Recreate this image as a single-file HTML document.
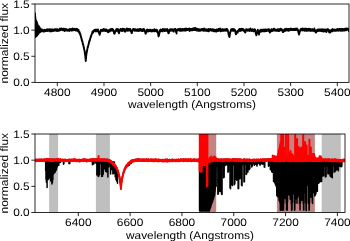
<!DOCTYPE html>
<html><head><meta charset="utf-8"><style>html,body{margin:0;padding:0;background:#fff;width:350px;height:241px;overflow:hidden}</style></head><body>
<svg xmlns="http://www.w3.org/2000/svg" width="350" height="241" viewBox="0 0 350 241" style="display:block;will-change:transform">
<defs>
<clipPath id="ct"><rect x="35.00" y="4.00" width="314.00" height="78.40"/></clipPath>
<clipPath id="cb"><rect x="35.00" y="134.00" width="310.00" height="78.50"/></clipPath>
</defs>
<rect width="350" height="241" fill="#fff"/>
<g font-family='"Liberation Sans", sans-serif' font-size="10.90" fill="#000" text-rendering="geometricPrecision">
<g clip-path="url(#ct)"><path d="M35 13.5L35.2 37L35.4 17L35.6 36.5L35.8 20L36 36.5L36.3 21L36.6 36L36.9 22L37.2 35.5L37.5 24L37.8 34.5L38.1 25.5L38.4 34L38.7 26L39 33L39.3 27L39.6 32.5L40 28L40.4 32L40.7 29.82L40.76 30.17L40.82 28.93L40.88 31.07L40.94 30.83L41 30.22L41.06 30.26L41.12 31.4L41.18 29.36L41.24 30.49L41.3 30.31L41.36 30.48L41.42 29.65L41.48 29.85L41.54 30.32L41.6 30.02L41.66 30.16L41.72 30.7L41.78 29.85L41.84 29.69L41.9 30.97L41.96 30.52L42.02 31L42.08 29.52L42.14 30.17L42.2 30.2L42.26 30.48L42.32 30.3L42.38 31.36L42.44 31.26L42.5 30.43L42.56 31.39L42.62 29.92L42.68 31.38L42.74 30.22L42.8 30.49L42.86 30.25L42.92 30.38L42.98 31.32L43.04 30.16L43.1 30.25L43.16 30.72L43.22 30.89L43.28 30.45L43.34 31.31L43.4 30.17L43.46 30.72L43.52 30.66L43.58 30.89L43.64 30.75L43.7 31.58L43.76 30.13L43.82 30.91L43.88 29.93L43.94 30.67L44 30.89L44.06 30.5L44.12 30.98L44.18 30.64L44.24 30.76L44.3 30.83L44.36 31.08L44.42 30.89L44.48 29.7L44.54 30.94L44.6 31.17L44.66 30.51L44.72 29.99L44.78 31.51L44.84 30.63L44.9 30.76L44.96 31.39L45.02 30.27L45.08 30.54L45.14 30.46L45.2 30.82L45.26 30.06L45.32 30.84L45.38 30.49L45.44 30.9L45.5 31L45.56 29.82L45.62 30.76L45.68 30.32L45.74 30.32L45.8 30.43L45.86 30.66L45.92 30L45.98 30.42L46.04 30.29L46.1 30.27L46.16 29.69L46.22 29.87L46.28 30.18L46.34 30.51L46.4 31.03L46.46 29.94L46.52 29.82L46.58 30.39L46.64 29.9L46.7 29.74L46.76 29.8L46.82 29.74L46.88 30.39L46.94 29.45L47 30.71L47.06 29.7L47.12 29.92L47.18 29.75L47.24 29.26L47.3 29.35L47.36 30.66L47.42 30.8L47.48 29.71L47.54 30.47L47.6 30.14L47.66 29.7L47.72 30.8L47.78 31.02L47.84 29.93L47.9 29.91L47.96 30.14L48.02 29.99L48.08 30.45L48.14 30.65L48.2 30.05L48.26 30.44L48.32 30.85L48.38 29.74L48.44 30.04L48.5 29.78L48.56 30.41L48.62 30.32L48.68 30.44L48.74 30.36L48.8 29.88L48.86 30.35L48.92 29.84L48.98 29.83L49.04 29.06L49.1 30.59L49.16 29.55L49.22 30.05L49.28 29.97L49.34 30.69L49.4 30.28L49.46 29.58L49.52 29.98L49.58 29.98L49.64 30.13L49.7 29.43L49.76 30L49.82 31.04L49.88 30.33L49.94 30.93L50 31.54L50.06 30.25L50.12 29.39L50.18 30.01L50.24 30.57L50.3 30.51L50.36 29.47L50.42 30.01L50.48 30.03L50.54 30.08L50.6 30.04L50.66 29.69L50.72 29.8L50.78 30.01L50.84 30.59L50.9 29.86L50.96 30.45L51.02 29.62L51.08 30.71L51.14 30.22L51.2 30.16L51.26 30.79L51.32 29.36L51.38 29.49L51.44 30.4L51.5 29.82L51.56 30.02L51.62 31.43L51.68 30.08L51.74 30.27L51.8 30.17L51.86 30.75L51.92 30.37L51.98 30.34L52.04 29.71L52.1 30.14L52.16 30.26L52.22 29.57L52.28 30.56L52.34 30.47L52.4 31.16L52.46 29.55L52.52 29.84L52.58 29.88L52.64 30.01L52.7 30.27L52.76 30.24L52.82 30.45L52.88 30.43L52.94 30.32L53 29.63L53.06 30.09L53.12 30.36L53.18 30.6L53.24 30.65L53.3 29.58L53.36 30.08L53.42 30.29L53.48 30.5L53.54 30.85L53.6 30.34L53.66 29.88L53.72 30.49L53.78 30.4L53.84 30.4L53.9 30.23L53.96 31.02L54.02 30.37L54.08 30.66L54.14 29.81L54.2 30.59L54.26 29.95L54.32 29.48L54.38 30.34L54.44 30.47L54.5 30.08L54.56 30.17L54.62 30.62L54.68 29.92L54.74 29.18L54.8 30.25L54.86 30.21L54.92 30.61L54.98 29.95L55.04 30.68L55.1 30.6L55.16 29.48L55.22 30.5L55.28 29.57L55.34 29.35L55.4 29.94L55.46 29.8L55.52 29.14L55.58 30.15L55.64 30.34L55.7 30.7L55.76 30.04L55.82 29.37L55.88 29.62L55.94 30.51L56 30.47L56.06 30.31L56.12 29.94L56.18 30.17L56.24 29.99L56.3 29.95L56.36 30.24L56.42 30.12L56.48 30.01L56.54 30.15L56.6 29.88L56.66 29.24L56.72 29.85L56.78 30.11L56.84 30.94L56.9 29.96L56.96 31.07L57.02 30.81L57.08 29.75L57.14 29.83L57.2 30.24L57.26 30.98L57.32 30.35L57.38 30.5L57.44 29.88L57.5 29.13L57.56 30.09L57.62 30.56L57.68 30.74L57.74 30.22L57.8 30.28L57.86 30.74L57.92 30.14L57.98 30.73L58.04 29.66L58.1 29.68L58.16 29.67L58.22 30.4L58.28 29.93L58.34 30.22L58.4 30.33L58.46 30.3L58.52 30.74L58.58 30.8L58.64 29.74L58.7 30.19L58.76 29.98L58.82 29.59L58.88 30.86L58.94 30.39L59 29.92L59.06 29.8L59.12 30.14L59.18 29.46L59.24 29.81L59.3 30.46L59.36 30.3L59.42 29.46L59.48 29.59L59.54 30.67L59.6 29.12L59.66 29.44L59.72 29.06L59.78 29.85L59.84 29.78L59.9 30.14L59.96 28.39L60.02 29.63L60.08 28.78L60.14 29.8L60.2 29.39L60.26 30.23L60.32 29.6L60.38 28.93L60.44 29.96L60.5 28.85L60.56 29.17L60.62 29.8L60.68 29.53L60.74 29.49L60.8 29.28L60.86 29.5L60.92 29.62L60.98 29.36L61.04 29.69L61.1 29.81L61.16 29.22L61.22 28.77L61.28 29.9L61.34 29.18L61.4 29.49L61.46 29.65L61.52 28.79L61.58 29.43L61.64 28.49L61.7 29.57L61.76 29.02L61.82 29.32L61.88 29.58L61.94 28.96L62 29.32L62.06 28.97L62.12 29.29L62.18 29.79L62.24 29.34L62.3 29.28L62.36 28.87L62.42 29.76L62.48 29.37L62.54 30.17L62.6 29.07L62.66 29.9L62.72 30.25L62.78 29.45L62.84 28.91L62.9 30.16L62.96 29.97L63.02 29.82L63.08 30.02L63.14 29.32L63.2 29.89L63.26 29.86L63.32 29.26L63.38 29.9L63.44 29.35L63.5 30.02L63.56 30.14L63.62 30.44L63.68 28.71L63.74 29.74L63.8 29.48L63.86 29.62L63.92 29.53L63.98 29.59L64.04 28.72L64.1 30.11L64.16 30.36L64.22 30.11L64.28 30.27L64.34 29.29L64.4 29.26L64.46 30.1L64.52 30.31L64.58 29.82L64.64 29.01L64.7 30.99L64.76 29.42L64.82 30.18L64.88 29.19L64.94 30.19L65 29.82L65.06 30.4L65.12 30.15L65.18 29.05L65.24 29.32L65.3 29.9L65.36 30.12L65.42 30.61L65.48 29.91L65.54 29.74L65.6 29.77L65.66 29.78L65.72 30.26L65.78 29.77L65.84 29.76L65.9 29.14L65.96 28.88L66.02 29.83L66.08 30.13L66.14 29.8L66.2 30.06L66.26 30.13L66.32 29.81L66.38 30.28L66.44 29.5L66.5 29.84L66.56 29.68L66.62 29.89L66.68 30.15L66.74 30.26L66.8 29.93L66.86 30.08L66.92 29.71L66.98 29.83L67.04 30.47L67.1 29.8L67.16 30.47L67.22 30.13L67.28 29.98L67.34 30.82L67.4 29.81L67.46 29.78L67.52 29.93L67.58 30.06L67.64 30.04L67.7 30.33L67.76 30L67.82 30.14L67.88 29.83L67.94 30.45L68 29.77L68.06 29.82L68.12 29.95L68.18 30.09L68.24 29.63L68.3 30.67L68.36 29.67L68.42 29.77L68.48 29.75L68.54 29.7L68.6 30.19L68.66 30L68.72 29.57L68.78 29.67L68.84 29.77L68.9 30.57L68.96 29.6L69.02 29.3L69.08 29.37L69.14 29.72L69.2 30.56L69.26 29.37L69.32 29.88L69.38 30.99L69.44 29.61L69.5 30.48L69.56 30.38L69.62 30.05L69.68 29.15L69.74 29.91L69.8 29.59L69.86 28.89L69.92 28.95L69.98 29.73L70.04 29.79L70.1 30.25L70.16 29.98L70.22 29.44L70.28 29.44L70.34 29.56L70.4 29.14L70.46 29.96L70.52 29.61L70.58 29.23L70.64 29.29L70.7 29.05L70.76 29.36L70.82 29.68L70.88 29.36L70.94 29.99L71 30.28L71.06 29.23L71.12 29.52L71.18 29.35L71.24 30.29L71.3 29.65L71.36 29.76L71.42 29.88L71.48 30.53L71.54 29.62L71.6 29.04L71.66 29.28L71.72 29.73L71.78 29.45L71.84 29.09L71.9 30.74L71.96 29.5L72.02 29.18L72.08 29.11L72.14 28.63L72.2 28.9L72.26 29.29L72.32 29.29L72.38 29.06L72.44 29.68L72.5 29.45L72.56 29.01L72.62 28.51L72.68 29.51L72.74 29.46L72.8 29.35L72.86 28.81L72.92 29.46L72.98 28.76L73.04 29.91L73.1 29.55L73.16 29.56L73.22 29.11L73.28 28.99L73.34 30.2L73.4 29.93L73.46 29.35L73.52 29.83L73.58 30.25L73.64 29.05L73.7 29.32L73.76 29.33L73.82 29.8L73.88 29.1L73.94 29.71L74 29.1L74.06 30.06L74.12 30.04L74.18 29.56L74.24 30L74.3 29.37L74.36 29.58L74.42 30.15L74.48 29.69L74.54 29.91L74.6 29.33L74.66 30.07L74.72 29.99L74.78 29.22L74.84 28.75L74.9 28.88L74.96 29.8L75.02 29.74L75.08 29.13L75.14 29.92L75.2 30.32L75.26 29.82L75.32 29.67L75.38 30.27L75.44 30.66L75.5 30.57L75.56 29.58L75.62 30.25L75.68 29.96L75.74 29.8L75.8 29.61L75.86 30.05L75.92 29.66L75.98 30.31L76.04 30.06L76.1 30.37L76.16 29.35L76.22 29.89L76.28 30.22L76.34 30.03L76.4 29.97L76.46 29.53L76.52 30.6L76.58 30.34L76.64 30.02L76.7 28.65L76.76 29.39L76.82 29.89L76.88 29.5L76.94 28.87L77 29.95L77.06 30.01L77.12 29.28L77.18 29.62L77.24 29.55L77.3 30.11L77.36 28.98L77.42 29.09L77.48 29.65L77.54 29.61L77.6 30.91L77.66 29.68L77.72 30.1L77.78 29.84L77.84 29.75L77.9 30.27L77.96 30.95L78.02 30.03L78.08 30.6L78.14 30.45L78.2 30.64L78.26 30.57L78.32 31.56L78.38 29.97L78.44 30.5L78.5 30.17L78.56 29.84L78.62 30.84L78.68 31.79L78.74 31.45L78.8 31.69L78.86 31.46L78.92 31.29L78.98 32.38L79.04 31.39L79.1 32.37L79.16 31.64L79.22 31.96L79.28 32.18L79.34 32.2L79.4 32.55L79.46 32.72L79.52 33.36L79.58 32.73L79.64 32L79.7 32.08L79.76 32.55L79.82 32.99L79.88 33.81L79.94 32.97L80 33.84L80.06 34.02L80.12 34.29L80.18 34.29L80.24 34.71L80.3 34.72L80.36 35.37L80.42 35.22L80.48 34.16L80.54 35.45L80.6 35.72L80.66 35.54L80.72 35.65L80.78 36.7L80.84 36.47L80.9 36.14L80.96 36.64L81.02 36.91L81.08 36.43L81.14 37.68L81.2 37.52L81.26 38.01L81.32 37.27L81.38 39.09L81.44 38.69L81.5 38.83L81.56 38.48L81.62 38.71L81.68 38.55L81.74 40.15L81.8 39.27L81.86 39.97L81.92 40.35L81.98 40L82.04 40.9L82.1 41.65L82.16 41.06L82.22 41.81L82.28 41.63L82.34 41.36L82.4 41.61L82.46 41.23L82.52 42.29L82.58 43.13L82.64 42.99L82.7 43.29L82.76 43.65L82.82 43.1L82.88 43.84L82.94 44.69L83 43.67L83.06 44.28L83.12 44.3L83.18 44.66L83.24 44.65L83.3 45.17L83.36 44.86L83.42 45.49L83.48 45.76L83.54 46L83.6 47.14L83.66 46.79L83.72 47.1L83.78 47.16L83.84 48.17L83.9 47.04L83.96 48.04L84.02 48.95L84.08 49.47L84.14 49.1L84.2 49.31L84.26 49.91L84.32 49.85L84.38 50.51L84.44 50.28L84.5 51.22L84.56 51.24L84.62 51.11L84.68 50.72L84.74 52.77L84.8 52.89L84.86 53.46L84.92 53.1L84.98 54.42L85.04 54.53L85.1 54.76L85.16 55.66L85.22 56.12L85.28 56.39L85.34 57.67L85.4 57.9L85.46 57.99L85.52 58.34L85.58 59.15L85.64 60.62L85.7 60.84L85.75 61.11L85.76 60.99L85.82 60.31L85.88 59.91L85.94 58.51L86 58.45L86.06 58.14L86.12 57.42L86.18 55.84L86.24 55.92L86.3 55L86.36 55.31L86.42 54.21L86.48 54.51L86.54 53.89L86.6 52.25L86.66 52.68L86.72 52.91L86.78 52.35L86.84 51.81L86.9 51.05L86.96 51.52L87.02 51.79L87.08 50.79L87.14 50.34L87.2 50L87.26 49.14L87.32 49.32L87.38 48.81L87.44 49.43L87.5 48.24L87.56 47.39L87.62 47.76L87.68 47.74L87.74 47.54L87.8 46.52L87.86 47.55L87.92 46.92L87.98 46.41L88.04 46.04L88.1 46.36L88.16 45.78L88.22 45.82L88.28 45.41L88.34 45.3L88.4 45.55L88.46 44.8L88.52 44.15L88.58 44.8L88.64 44.24L88.7 43.59L88.76 44.19L88.82 43.38L88.88 43.75L88.94 42.51L89 41.74L89.06 41.66L89.12 42.5L89.18 41.84L89.24 41.92L89.3 41.72L89.36 40.84L89.42 41.98L89.48 40.65L89.54 40.97L89.6 40.08L89.66 40.45L89.72 40.66L89.78 40.01L89.84 39.6L89.9 39.73L89.96 39.32L90.02 39.6L90.08 40.16L90.14 38.55L90.2 38.45L90.26 38.52L90.32 38.36L90.38 37.72L90.44 38.23L90.5 38.16L90.56 37.74L90.62 36.9L90.68 37.93L90.74 36.54L90.8 37.22L90.86 37.26L90.92 35.97L90.98 36.43L91.04 36.82L91.1 36.2L91.16 35.43L91.22 35.13L91.28 35.72L91.34 35.16L91.4 34.85L91.46 35.33L91.52 34.69L91.58 34.72L91.64 34.8L91.7 34.62L91.76 34.2L91.82 34.07L91.88 34.2L91.94 33.99L92 33.12L92.06 33.4L92.12 32.95L92.18 32.66L92.24 32.82L92.3 31.9L92.36 33.23L92.42 32.34L92.48 32.75L92.54 31.61L92.6 31.58L92.66 33.19L92.72 32.62L92.78 31.75L92.84 31.6L92.9 31.53L92.96 31.82L93.02 31.49L93.08 31.32L93.14 31.58L93.2 30.99L93.26 32.47L93.32 31.04L93.38 31.76L93.44 30.76L93.5 31.27L93.56 31.52L93.62 30.88L93.68 31.44L93.74 31.4L93.8 31.67L93.86 30.9L93.92 30.62L93.98 30.34L94.04 30.86L94.1 30.27L94.16 30.73L94.22 30.76L94.28 30.43L94.34 30.18L94.4 30.82L94.46 30.76L94.52 30.7L94.58 30.57L94.64 31.02L94.7 30.11L94.76 30.77L94.82 30.35L94.88 30.95L94.94 30.38L95 30.36L95.06 30.73L95.12 29.58L95.18 30.34L95.24 29.68L95.3 30.05L95.36 30.81L95.42 30.67L95.48 30.29L95.54 30.46L95.6 30.46L95.66 30.61L95.72 31.32L95.78 30.57L95.84 31.5L95.9 30.28L95.96 30.79L96.02 30.78L96.08 30.54L96.14 30.31L96.2 31.11L96.26 31.25L96.32 30.93L96.38 31.38L96.44 30.87L96.5 29.67L96.56 30.91L96.62 30.1L96.68 31.05L96.74 30.26L96.8 30.55L96.86 30.43L96.92 30.13L96.98 29.57L97.04 30.3L97.1 30.34L97.16 30.85L97.22 30.12L97.28 30.51L97.34 30.01L97.4 30.42L97.46 29.59L97.52 31.34L97.58 30.55L97.64 30.01L97.7 30.6L97.76 30.81L97.82 30.58L97.88 31.12L97.94 30.44L98 29.37L98.06 30.02L98.12 31.11L98.18 31.05L98.24 30.89L98.3 30.29L98.36 31.23L98.42 31.26L98.48 30.62L98.54 30.75L98.6 31.46L98.66 31.96L98.72 32.32L98.78 32.09L98.84 32.99L98.9 31.78L98.96 32.63L99.02 32.3L99.08 31.85L99.14 32.36L99.2 33.64L99.26 32.85L99.32 32.86L99.38 33.89L99.44 34.08L99.5 33.75L99.56 34.5L99.62 33.06L99.68 34.86L99.74 34.19L99.8 33.71L99.86 33.58L99.92 33.26L99.98 33.06L100.04 33.11L100.1 32.29L100.16 33.64L100.22 32.44L100.28 32.59L100.34 32L100.4 31.77L100.46 32.13L100.52 31.84L100.58 31.02L100.64 31.09L100.7 31.45L100.76 30.06L100.82 29.84L100.88 31.53L100.94 30.63L101 29.53L101.06 30.28L101.12 30.5L101.18 30.66L101.24 30.79L101.3 30.6L101.36 30.74L101.42 30.11L101.48 30.62L101.54 30.63L101.6 30.97L101.66 30.41L101.72 30.8L101.78 30.45L101.84 29.86L101.9 30.17L101.96 30.09L102.02 30.15L102.08 30.28L102.14 30.36L102.2 30.43L102.26 29.92L102.32 30.78L102.38 29.63L102.44 30.23L102.5 30.59L102.56 30.46L102.62 30.54L102.68 30.14L102.74 30.55L102.8 29.67L102.86 30.57L102.92 31.26L102.98 30.53L103.04 31.13L103.1 30.2L103.16 29.68L103.22 29.87L103.28 30.8L103.34 30.53L103.4 29.33L103.46 30.02L103.52 30.16L103.58 29.67L103.64 29.01L103.7 29.55L103.76 30.1L103.82 30L103.88 29.88L103.94 30.45L104 30.67L104.06 30.14L104.12 30.61L104.18 30.2L104.24 30.13L104.3 29.07L104.36 30.57L104.42 30.23L104.48 30.25L104.54 29.96L104.6 29.68L104.66 30.4L104.72 30.55L104.78 30.94L104.84 30.6L104.9 29.91L104.96 30.13L105.02 30.63L105.08 30.32L105.14 30.13L105.2 29.9L105.26 30.41L105.32 30.25L105.38 30.98L105.44 30.66L105.5 29.35L105.56 31.14L105.62 30.26L105.68 29.99L105.74 30.27L105.8 30.47L105.86 30.11L105.92 30.08L105.98 30.11L106.04 30.95L106.1 30.13L106.16 30.46L106.22 30.32L106.28 29.95L106.34 29.76L106.4 29.64L106.46 30.3L106.52 29.63L106.58 29.53L106.64 29.55L106.7 29.45L106.76 30.2L106.82 30.24L106.88 29.8L106.94 30.87L107 30.18L107.06 30.59L107.12 30.59L107.18 31.31L107.24 31.01L107.3 30.7L107.36 30.38L107.42 30.45L107.48 31.07L107.54 31.24L107.6 31.67L107.66 31.2L107.72 31.61L107.78 31.3L107.84 30.84L107.9 31.74L107.96 32.46L108.02 32.17L108.08 32.44L108.14 32.29L108.2 31.06L108.26 31.5L108.32 32.24L108.38 31.12L108.44 30.74L108.5 31.39L108.56 31.44L108.62 31.18L108.68 30.79L108.74 30.53L108.8 30.19L108.86 30.11L108.92 30.06L108.98 29.92L109.04 30.21L109.1 31.21L109.16 30.52L109.22 30.29L109.28 30.6L109.34 29.98L109.4 30.57L109.46 30.83L109.52 29.71L109.58 30.08L109.64 30.28L109.7 29.95L109.76 29.89L109.82 30.23L109.88 31.54L109.94 30.7L110 30.6L110.06 30.84L110.12 30.28L110.18 29.81L110.24 30.6L110.3 30.9L110.36 29.41L110.42 30.57L110.48 30.93L110.54 30.23L110.6 30.13L110.66 30.65L110.72 29.94L110.78 30.53L110.84 30.73L110.9 30.2L110.96 29.91L111.02 30.55L111.08 30.08L111.14 30.27L111.2 28.88L111.26 30.53L111.32 29.53L111.38 30.19L111.44 30.21L111.5 29.79L111.56 29.69L111.62 29.5L111.68 29.92L111.74 30.34L111.8 30.3L111.86 29.79L111.92 29.74L111.98 29.34L112.04 29.78L112.1 29.47L112.16 29.24L112.22 29.86L112.28 30.62L112.34 30.47L112.4 30.58L112.46 29.14L112.52 30.28L112.58 29.3L112.64 29.6L112.7 29.07L112.76 29.41L112.82 29.94L112.88 30L112.94 29.89L113 29.88L113.06 30.25L113.12 30.06L113.18 29.35L113.24 30.98L113.3 30.14L113.36 30.78L113.42 30.38L113.48 30.19L113.54 30.76L113.6 30.52L113.66 31.8L113.72 30.71L113.78 31.71L113.84 31.33L113.9 31.74L113.96 33.24L114.02 32.58L114.08 32.31L114.14 31.86L114.2 32.61L114.26 32.77L114.32 33.67L114.38 32.42L114.44 32.3L114.5 33.16L114.56 33.27L114.62 33.89L114.68 32.65L114.74 31.7L114.8 32.52L114.86 32.12L114.92 32.3L114.98 32.85L115.04 31.57L115.1 32.6L115.16 31.93L115.22 31.52L115.28 31.05L115.34 31.1L115.4 30.96L115.46 31.35L115.52 31.46L115.58 30.71L115.64 30.96L115.7 31.15L115.76 31.04L115.82 30.61L115.88 31.19L115.94 30.9L116 30.99L116.06 30.1L116.12 29.96L116.18 29.18L116.24 30.81L116.3 30.4L116.36 29.64L116.42 30.16L116.48 30.19L116.54 29.23L116.6 30.18L116.66 30.55L116.72 30.62L116.78 29.83L116.84 29.84L116.9 30.62L116.96 30.43L117.02 29.71L117.08 29.68L117.14 30.25L117.2 29.64L117.26 29.66L117.32 30.76L117.38 30.07L117.44 29.72L117.5 30.19L117.56 30.93L117.62 30.06L117.68 29.59L117.74 29.22L117.8 31.03L117.86 28.81L117.92 30.62L117.98 29.7L118.04 29.65L118.1 29.87L118.16 30.37L118.22 31.12L118.28 30.43L118.34 31.22L118.4 32.25L118.46 29.91L118.52 31.09L118.58 30.76L118.64 32.22L118.7 31.27L118.76 31.36L118.82 31.49L118.88 32.33L118.94 32.94L119 32.48L119.06 33.41L119.12 33.13L119.18 32.2L119.24 32.59L119.3 32.07L119.36 31.88L119.42 30.75L119.48 30.87L119.54 31.32L119.6 30.55L119.66 31.31L119.72 30.95L119.78 30.22L119.84 31.1L119.9 30.54L119.96 30.94L120.02 30.18L120.08 29.4L120.14 30.47L120.2 29.97L120.26 30.47L120.32 30.57L120.38 30.59L120.44 29.31L120.5 28.88L120.56 29.76L120.62 30.32L120.68 29.65L120.74 30.14L120.8 29.6L120.86 29.84L120.92 29.84L120.98 29.68L121.04 30.24L121.1 30.15L121.16 30.77L121.22 30.16L121.28 30.61L121.34 30.01L121.4 30.38L121.46 29.87L121.52 29.7L121.58 30.57L121.64 30.28L121.7 30.33L121.76 29.52L121.82 29.06L121.88 29.45L121.94 30.01L122 29.14L122.06 30.54L122.12 29.11L122.18 30.11L122.24 31.1L122.3 28.54L122.36 29.03L122.42 30.25L122.48 29.68L122.54 29.85L122.6 29.7L122.66 30.44L122.72 30.05L122.78 29.51L122.84 29.62L122.9 29.15L122.96 29.68L123.02 28.6L123.08 30.04L123.14 29.58L123.2 30.61L123.26 30.29L123.32 29.08L123.38 30.15L123.44 29.46L123.5 29.74L123.56 30.21L123.62 29.9L123.68 29.99L123.74 30L123.8 29.44L123.86 29.51L123.92 30.13L123.98 30.33L124.04 29.82L124.1 30.07L124.16 29.61L124.22 28.93L124.28 29.87L124.34 30.39L124.4 30.56L124.46 31L124.52 31.14L124.58 31.29L124.64 31.12L124.7 31.23L124.76 30.77L124.82 31.38L124.88 31.34L124.94 31.85L125 30.52L125.06 31.04L125.12 30.4L125.18 30.82L125.24 30.42L125.3 31.15L125.36 30.59L125.42 29.55L125.48 31.28L125.54 30.04L125.6 29.68L125.66 30.18L125.72 29.91L125.78 29.58L125.84 30.41L125.9 29.83L125.96 30.38L126.02 30.24L126.08 30.16L126.14 29.9L126.2 29.73L126.26 29.56L126.32 30.44L126.38 28.79L126.44 29.18L126.5 29.38L126.56 29.89L126.62 29.76L126.68 29.45L126.74 29.51L126.8 30.52L126.86 29.35L126.92 28.3L126.98 30.59L127.04 29.22L127.1 29.52L127.16 29.75L127.22 29.04L127.28 30.27L127.34 29.62L127.4 28.99L127.46 29.79L127.52 29.9L127.58 29.64L127.64 29.91L127.7 28.95L127.76 30.13L127.82 29.27L127.88 30.3L127.94 29.37L128 29.75L128.06 30.94L128.12 29.7L128.18 30.21L128.24 29.91L128.3 28.95L128.36 30.24L128.42 30.21L128.48 29L128.54 29.65L128.6 28.96L128.66 29.55L128.72 30.13L128.78 29.74L128.84 29.11L128.9 29.25L128.96 29.71L129.02 29.69L129.08 29.77L129.14 30L129.2 28.78L129.26 29.72L129.32 30.27L129.38 29.96L129.44 29.38L129.5 29.42L129.56 29.8L129.62 30.06L129.68 29.73L129.74 30.56L129.8 30.38L129.86 29.37L129.92 29.99L129.98 29.59L130.04 29.19L130.1 29.48L130.16 29.8L130.22 28.8L130.28 29.54L130.34 30.06L130.4 29.58L130.46 29.79L130.52 30.46L130.58 30.09L130.64 30.3L130.7 31.27L130.76 30.53L130.82 30.72L130.88 30.96L130.94 31.71L131 31.27L131.06 31.3L131.12 31.43L131.18 32.22L131.24 31.55L131.3 32.61L131.36 32.28L131.42 31.66L131.48 32.71L131.54 32.68L131.6 31.94L131.66 32.62L131.72 32.53L131.78 32.19L131.84 31.67L131.9 33.09L131.96 32.26L132.02 32.17L132.08 32.02L132.14 31.72L132.2 31.52L132.26 30.79L132.32 31.2L132.38 30.56L132.44 30.29L132.5 30.71L132.56 30.2L132.62 29.38L132.68 29.94L132.74 30.35L132.8 30.02L132.86 30.4L132.92 29.8L132.98 29.49L133.04 30.28L133.1 29.98L133.16 29.33L133.22 30.1L133.28 29.77L133.34 30.35L133.4 30.25L133.46 30.1L133.52 28.83L133.58 30.04L133.64 30.1L133.7 30.11L133.76 29.92L133.82 29.54L133.88 29.75L133.94 28.87L134 29.74L134.06 29.16L134.12 29.7L134.18 29.55L134.24 30.51L134.3 29.89L134.36 29.86L134.42 29.94L134.48 30.83L134.54 29.4L134.6 29.99L134.66 30.01L134.72 29.93L134.78 29.91L134.84 29.61L134.9 30.39L134.96 30.23L135.02 29.66L135.08 29.72L135.14 29.97L135.2 30.06L135.26 30.18L135.32 29.81L135.38 29.23L135.44 30.29L135.5 29.07L135.56 29.39L135.62 30.01L135.68 29.43L135.74 30.49L135.8 30.62L135.86 30.42L135.92 30.01L135.98 29.97L136.04 30.07L136.1 29.78L136.16 30.84L136.22 29.61L136.28 30.52L136.34 30.17L136.4 30.06L136.46 30.42L136.52 30.53L136.58 30.36L136.64 29.9L136.7 29.63L136.76 29.65L136.82 30.39L136.88 30.3L136.94 30.36L137 29.73L137.06 30.9L137.12 29.37L137.18 30.18L137.24 30.33L137.3 29.8L137.36 29.48L137.42 29.8L137.48 29.47L137.54 29.9L137.6 29.39L137.66 29.38L137.72 30.01L137.78 29.29L137.84 29.88L137.9 29.92L137.96 30.39L138.02 30.09L138.08 29.58L138.14 30.56L138.2 29.63L138.26 29.77L138.32 29.8L138.38 30.96L138.44 29.97L138.5 29.61L138.56 30.27L138.62 29.86L138.68 31.02L138.74 29.58L138.8 30.21L138.86 29.48L138.92 30.75L138.98 29.56L139.04 29.99L139.1 29.5L139.16 30.32L139.22 30.17L139.28 28.83L139.34 30.27L139.4 30.22L139.46 30.02L139.52 30.37L139.58 29.34L139.64 29.09L139.7 30.24L139.76 30.73L139.82 29.37L139.88 29.41L139.94 29.55L140 29.4L140.06 30.36L140.12 30.04L140.18 30.62L140.24 30.64L140.3 29.52L140.36 30.31L140.42 28.93L140.48 29.98L140.54 30.32L140.6 29.65L140.66 29.19L140.72 29.82L140.78 30.62L140.84 29.88L140.9 29.42L140.96 30.3L141.02 30.44L141.08 29.6L141.14 30.02L141.2 30.61L141.26 30.27L141.32 30.45L141.38 29.96L141.44 30.05L141.5 29.56L141.56 29.77L141.62 30.84L141.68 29.91L141.74 29.68L141.8 29.89L141.86 29.61L141.92 30.36L141.98 30.54L142.04 29.65L142.1 30.59L142.16 31.1L142.22 29.6L142.28 30.41L142.34 30.21L142.4 30.72L142.46 30.68L142.52 30.6L142.58 30.22L142.64 29.87L142.7 31.12L142.76 29.69L142.82 30.59L142.88 30.53L142.94 29.71L143 30.06L143.06 30.74L143.12 29.15L143.18 30.42L143.24 29.9L143.3 29.92L143.36 29.35L143.42 30.23L143.48 29.54L143.54 30.36L143.6 29.49L143.66 30.38L143.72 30.19L143.78 29.13L143.84 29.88L143.9 29.98L143.96 28.98L144.02 29.87L144.08 30.43L144.14 29.72L144.2 30.63L144.26 29.57L144.32 29.55L144.38 30.42L144.44 30.49L144.5 30.16L144.56 30.3L144.62 30.84L144.68 30.21L144.74 31.54L144.8 30.92L144.86 31.05L144.92 31.16L144.98 31.08L145.04 32.01L145.1 31.37L145.16 31.97L145.22 32.42L145.28 32.99L145.34 33.13L145.4 32.61L145.46 33.42L145.52 33.09L145.58 32.73L145.64 32.82L145.7 32.61L145.76 33.47L145.82 33.78L145.88 32.69L145.94 32.89L146 32.35L146.06 32.68L146.12 31.92L146.18 31.87L146.24 31.71L146.3 31.6L146.36 31.45L146.42 31.34L146.48 31.17L146.54 30.66L146.6 31.23L146.66 30.06L146.72 30.83L146.78 30.25L146.84 30.69L146.9 30.72L146.96 29.62L147.02 30.7L147.08 31.14L147.14 30.86L147.2 30.67L147.26 29.51L147.32 30.43L147.38 30.1L147.44 31.02L147.5 30.39L147.56 30.25L147.62 29.73L147.68 30.91L147.74 30.31L147.8 30.46L147.86 31.09L147.92 30.63L147.98 30.76L148.04 31.74L148.1 30.37L148.16 30.4L148.22 30.87L148.28 31.3L148.34 29.99L148.4 30.56L148.46 30.22L148.52 30.04L148.58 30.95L148.64 30.33L148.7 30.83L148.76 30.75L148.82 30.76L148.88 30.73L148.94 30.21L149 30.67L149.06 30.81L149.12 30.86L149.18 30.57L149.24 31.16L149.3 30.97L149.36 30.76L149.42 31L149.48 30.79L149.54 31.02L149.6 29.79L149.66 30.1L149.72 30.51L149.78 30.75L149.84 29.69L149.9 30.57L149.96 30.76L150.02 30.57L150.08 30.57L150.14 30.04L150.2 30.71L150.26 29.71L150.32 31.11L150.38 30.37L150.44 31.17L150.5 29.84L150.56 30.85L150.62 30.72L150.68 30.25L150.74 30.1L150.8 31.21L150.86 30.85L150.92 31.34L150.98 30.62L151.04 30.73L151.1 30.85L151.16 31L151.22 30.86L151.28 31.03L151.34 30.43L151.4 29.97L151.46 31.59L151.52 30.73L151.58 30.87L151.64 30.44L151.7 31.12L151.76 30.74L151.82 31.16L151.88 30.34L151.94 30.62L152 30.74L152.06 30.49L152.12 30.77L152.18 31.38L152.24 30.37L152.3 30.51L152.36 30.71L152.42 30.17L152.48 30.06L152.54 31.14L152.6 30.99L152.66 29.88L152.72 29.94L152.78 30.94L152.84 31.14L152.9 30.88L152.96 30.81L153.02 31.31L153.08 30.54L153.14 31.15L153.2 31.11L153.26 30.1L153.32 30.84L153.38 30.55L153.44 30.21L153.5 30.11L153.56 30.65L153.62 30.46L153.68 30.86L153.74 29.64L153.8 30.15L153.86 30.97L153.92 30.44L153.98 30.1L154.04 30.21L154.1 29.57L154.16 29.78L154.22 30.67L154.28 30.46L154.34 31.01L154.4 30.29L154.46 30.33L154.52 29.13L154.58 30.35L154.64 31.38L154.7 30.71L154.76 30.33L154.82 30.98L154.88 30.79L154.94 30.55L155 30.22L155.06 30.46L155.12 30.8L155.18 30.01L155.24 30.63L155.3 30.61L155.36 31.03L155.42 30.75L155.48 30.08L155.54 31.14L155.6 30.42L155.66 30.05L155.72 30.57L155.78 30.28L155.84 30.92L155.9 29.78L155.96 29.88L156.02 30.29L156.08 31.24L156.14 30.91L156.2 29.96L156.26 29.62L156.32 30.29L156.38 29.85L156.44 30.74L156.5 30.55L156.56 30.47L156.62 30.29L156.68 31.22L156.74 30.08L156.8 29.92L156.86 31.11L156.92 31.24L156.98 30.48L157.04 31.01L157.1 31.88L157.16 30.45L157.22 30.85L157.28 31.25L157.34 30.15L157.4 31.22L157.46 31.8L157.52 31.59L157.58 32.33L157.64 32.43L157.7 32.14L157.76 32.86L157.82 33.1L157.88 32.41L157.94 33.11L158 33.46L158.06 33.91L158.12 34.24L158.18 34.09L158.24 35.06L158.3 34.43L158.36 35.97L158.42 35.82L158.48 36.48L158.54 36.07L158.6 35.69L158.66 35.23L158.72 36.14L158.78 35.7L158.84 35.7L158.9 35.67L158.96 35.63L159.02 34.76L159.08 35.31L159.14 34.13L159.2 33.85L159.26 33.85L159.32 33.7L159.38 33.57L159.44 31.75L159.5 32.99L159.56 31.38L159.62 31.6L159.68 31.85L159.74 32.04L159.8 30.85L159.86 30.39L159.92 31.52L159.98 31.12L160.04 30.4L160.1 30.67L160.16 29.83L160.22 30.98L160.28 30.42L160.34 31.23L160.4 29.63L160.46 30.93L160.52 31.61L160.58 30.61L160.64 30.6L160.7 29.62L160.76 30.66L160.82 30.5L160.88 30.2L160.94 29.72L161 30.49L161.06 29.95L161.12 30.19L161.18 30.56L161.24 30.37L161.3 30.38L161.36 30.81L161.42 29.8L161.48 31.01L161.54 29.79L161.6 29.88L161.66 30.36L161.72 30.66L161.78 30.39L161.84 30.05L161.9 29.91L161.96 30.11L162.02 29.77L162.08 30.48L162.14 30.1L162.2 30.93L162.26 29.82L162.32 30.1L162.38 30.35L162.44 29.6L162.5 29.81L162.56 31.45L162.62 30.1L162.68 30.79L162.74 29.6L162.8 28.92L162.86 30.33L162.92 30.04L162.98 30.19L163.04 29.9L163.1 29.76L163.16 29.45L163.22 30.52L163.28 29.31L163.34 30.49L163.4 29.91L163.46 29.5L163.52 29.71L163.58 30.49L163.64 30.38L163.7 30.27L163.76 30.08L163.82 29.51L163.88 30.66L163.94 29.84L164 29.78L164.06 29.8L164.12 29.85L164.18 29.36L164.24 29.85L164.3 29.68L164.36 29.82L164.42 29.25L164.48 30.99L164.54 29.49L164.6 30.22L164.66 30.24L164.72 30.56L164.78 30.99L164.84 30.29L164.9 30.44L164.96 29.88L165.02 30.81L165.08 29.44L165.14 29.99L165.2 30.23L165.26 30.45L165.32 30.48L165.38 30.64L165.44 30.36L165.5 30.1L165.56 30.18L165.62 30.76L165.68 30.22L165.74 30.51L165.8 30.01L165.86 29.2L165.92 29.77L165.98 30.21L166.04 30.82L166.1 30.72L166.16 30.84L166.22 29.7L166.28 30.39L166.34 30L166.4 30.31L166.46 29.97L166.52 29.35L166.58 30.33L166.64 30.16L166.7 30.38L166.76 29.59L166.82 30.48L166.88 30.53L166.94 30.65L167 30.66L167.06 29.79L167.12 28.81L167.18 30.5L167.24 29.6L167.3 29.96L167.36 30.63L167.42 30.29L167.48 30.32L167.54 30.6L167.6 29.45L167.66 31.35L167.72 30.39L167.78 30.54L167.84 31.12L167.9 30.94L167.96 30.78L168.02 31.3L168.08 31.37L168.14 31.44L168.2 32.91L168.26 31.44L168.32 31.23L168.38 31.98L168.44 32.08L168.5 33.3L168.56 32.74L168.62 33.08L168.68 32.94L168.74 32.14L168.8 32.88L168.86 32.43L168.92 33.11L168.98 32.12L169.04 31.82L169.1 32L169.16 31.82L169.22 30.4L169.28 31.68L169.34 31.44L169.4 31.18L169.46 30.1L169.52 29.56L169.58 30.29L169.64 30.69L169.7 30.48L169.76 29.72L169.82 30.6L169.88 29.45L169.94 29.44L170 30.05L170.06 29.76L170.12 29.69L170.18 29.3L170.24 30.52L170.3 29.46L170.36 30.18L170.42 30.36L170.48 29.95L170.54 30.1L170.6 30.46L170.66 30.74L170.72 30.43L170.78 29.3L170.84 29.06L170.9 29.67L170.96 29.42L171.02 30.22L171.08 30.01L171.14 29.84L171.2 30.48L171.26 30.44L171.32 29.93L171.38 30.12L171.44 30.47L171.5 29.79L171.56 30.09L171.62 29.49L171.68 29.97L171.74 30.11L171.8 29.91L171.86 30.05L171.92 30.28L171.98 30.16L172.04 29.61L172.1 29.66L172.16 29.36L172.22 30.76L172.28 30.15L172.34 30.16L172.4 29.89L172.46 30.18L172.52 30.21L172.58 29.6L172.64 29.88L172.7 30.51L172.76 29.33L172.82 29.49L172.88 30.23L172.94 29.57L173 30.3L173.06 29.43L173.12 30.06L173.18 30.33L173.24 30.13L173.3 30.31L173.36 29.86L173.42 29.86L173.48 29.92L173.54 30.2L173.6 31.65L173.66 29.88L173.72 30.81L173.78 29.8L173.84 29.38L173.9 29.78L173.96 30.09L174.02 29.98L174.08 29.95L174.14 30.14L174.2 30.15L174.26 30.3L174.32 29.3L174.38 29.86L174.44 29.39L174.5 29.95L174.56 29.79L174.62 29.89L174.68 29.59L174.74 29.41L174.8 29.68L174.86 30.1L174.92 30.15L174.98 29.01L175.04 29.93L175.1 29.94L175.16 29.14L175.22 29.34L175.28 29.64L175.34 30.13L175.4 28.9L175.46 29.9L175.52 29.93L175.58 30.38L175.64 31.09L175.7 31.2L175.76 30.54L175.82 30.72L175.88 31.2L175.94 31.81L176 32.12L176.06 31.76L176.12 32.44L176.18 31.46L176.24 31.44L176.3 30.73L176.36 31.68L176.42 32.37L176.48 32.46L176.54 33.6L176.6 32.15L176.66 31.82L176.72 31.13L176.78 31.12L176.84 30.94L176.9 30.93L176.96 30.53L177.02 29.97L177.08 30.98L177.14 30.53L177.2 30.82L177.26 29.28L177.32 29.32L177.38 29.48L177.44 30.32L177.5 29.61L177.56 29.75L177.62 29.56L177.68 29.66L177.74 29.31L177.8 29.73L177.86 29.13L177.92 29.42L177.98 29.67L178.04 29.59L178.1 29.75L178.16 29.16L178.22 29.68L178.28 29.43L178.34 29.76L178.4 30.28L178.46 29.17L178.52 30.1L178.58 29.3L178.64 29.43L178.7 30.42L178.76 30.1L178.82 29.9L178.88 30.06L178.94 30.24L179 29.35L179.06 29.82L179.12 29.53L179.18 29.93L179.24 29.59L179.3 30.1L179.36 29.76L179.42 29.49L179.48 29.75L179.54 29.99L179.6 30.29L179.66 29.71L179.72 29.63L179.78 29.92L179.84 30.16L179.9 29.55L179.96 28.64L180.02 29.96L180.08 29.66L180.14 29.64L180.2 31.03L180.26 29.77L180.32 30.16L180.38 29.18L180.44 29.95L180.5 30.2L180.56 29.93L180.62 29.75L180.68 30.1L180.74 29.86L180.8 30.47L180.86 29.94L180.92 29.47L180.98 28.9L181.04 29.5L181.1 29.7L181.16 29.27L181.22 29.35L181.28 29.04L181.34 29.31L181.4 29.88L181.46 29.7L181.52 29.73L181.58 29.67L181.64 29.72L181.7 30.18L181.76 30.8L181.82 30.12L181.88 30.76L181.94 29.77L182 29.79L182.06 30.58L182.12 29.47L182.18 29.38L182.24 29.74L182.3 28.99L182.36 28.89L182.42 30.34L182.48 29.28L182.54 29.55L182.6 29.56L182.66 29.31L182.72 30.09L182.78 30.02L182.84 30.13L182.9 30.09L182.96 29.78L183.02 30.41L183.08 30.22L183.14 29.45L183.2 29.75L183.26 29.54L183.32 30.6L183.38 30.08L183.44 29.97L183.5 29.7L183.56 29.99L183.62 29.27L183.68 29.74L183.74 29.7L183.8 29.7L183.86 29.38L183.92 29.93L183.98 29.19L184.04 29.5L184.1 29.64L184.16 29.7L184.22 29.47L184.28 29.24L184.34 29.28L184.4 29.55L184.46 29.31L184.52 29.67L184.58 29.14L184.64 29.74L184.7 30.7L184.76 29.1L184.82 29.67L184.88 30.27L184.94 29.81L185 30.13L185.06 28.73L185.12 29.48L185.18 30.44L185.24 29.45L185.3 29.88L185.36 28.79L185.42 30.18L185.48 30.73L185.54 29.64L185.6 29.83L185.66 29.85L185.72 30.65L185.78 29.43L185.84 28.84L185.9 30.51L185.96 29.06L186.02 29.86L186.08 28.48L186.14 29.37L186.2 29.66L186.26 29.04L186.32 29.3L186.38 29.82L186.44 29.2L186.5 29.77L186.56 30.36L186.62 28.55L186.68 29.67L186.74 29.78L186.8 29.33L186.86 30.22L186.92 30.12L186.98 29.71L187.04 29.72L187.1 29.44L187.16 28.94L187.22 29.69L187.28 29.24L187.34 29.19L187.4 29.98L187.46 29.36L187.52 29.92L187.58 28.98L187.64 29.27L187.7 29.48L187.76 30.12L187.82 29.44L187.88 29.86L187.94 29.17L188 29.56L188.06 29.89L188.12 29.08L188.18 29.18L188.24 29.81L188.3 28.99L188.36 29.68L188.42 29.69L188.48 29.5L188.54 29.92L188.6 29.78L188.66 29.65L188.72 28.86L188.78 28.89L188.84 29.72L188.9 28.85L188.96 29.63L189.02 29.44L189.08 29.21L189.14 29.5L189.2 28.5L189.26 29.53L189.32 30.22L189.38 29.04L189.44 29.86L189.5 29.81L189.56 31.08L189.62 29.21L189.68 29.3L189.74 29.32L189.8 29.23L189.86 28.9L189.92 29.72L189.98 29.26L190.04 30.06L190.1 29.88L190.16 29.22L190.22 29.53L190.28 30.34L190.34 29.55L190.4 29.81L190.46 30.1L190.52 29.51L190.58 29.91L190.64 30.46L190.7 30.24L190.76 28.88L190.82 30.43L190.88 29.61L190.94 29.42L191 29.41L191.06 30.28L191.12 29.85L191.18 29.63L191.24 29.32L191.3 29.99L191.36 30.23L191.42 29.21L191.48 29.15L191.54 29.49L191.6 29.95L191.66 29.46L191.72 29.6L191.78 29.25L191.84 30.22L191.9 29.57L191.96 29.7L192.02 30.13L192.08 29.5L192.14 29.58L192.2 29.78L192.26 29.39L192.32 30.24L192.38 29.59L192.44 29.35L192.5 29.41L192.56 29.03L192.62 30.09L192.68 30.22L192.74 29.39L192.8 29.28L192.86 28.48L192.92 29.18L192.98 29.87L193.04 29.07L193.1 29.84L193.16 30.13L193.22 28.19L193.28 29.25L193.34 29.06L193.4 29.12L193.46 28.53L193.52 29.24L193.58 28.79L193.64 29.84L193.7 30L193.76 28.67L193.82 28.64L193.88 29.08L193.94 29.21L194 29.23L194.06 29.63L194.12 28.58L194.18 28.99L194.24 29.06L194.3 29.12L194.36 28.8L194.42 29.06L194.48 28.94L194.54 29.84L194.6 29.06L194.66 28.27L194.72 29.55L194.78 29.37L194.84 28.89L194.9 28.87L194.96 29.03L195.02 30.09L195.08 29.1L195.14 29.9L195.2 29.74L195.26 29.11L195.32 29.52L195.38 29.01L195.44 27.92L195.5 29.05L195.56 29.09L195.62 29.86L195.68 29.76L195.74 29.97L195.8 29.74L195.86 30.02L195.92 29.83L195.98 29.63L196.04 30.02L196.1 30.24L196.16 30.23L196.22 29.39L196.28 29.6L196.34 29.16L196.4 29.17L196.46 29.84L196.52 29.39L196.58 30.4L196.64 28.66L196.7 29.19L196.76 29.87L196.82 30.34L196.88 29.63L196.94 30.7L197 30.21L197.06 29.51L197.12 29.84L197.18 30.12L197.24 29.45L197.3 30.4L197.36 29.79L197.42 30.17L197.48 30.35L197.54 29.74L197.6 30.44L197.66 29.08L197.72 30.26L197.78 29.06L197.84 30.51L197.9 29.72L197.96 30.57L198.02 30.65L198.08 29.94L198.14 29.7L198.2 30.62L198.26 29.47L198.32 30.4L198.38 29.96L198.44 29.85L198.5 29.75L198.56 30.87L198.62 29.26L198.68 29.76L198.74 30.22L198.8 30.5L198.86 30.81L198.92 30.65L198.98 29.76L199.04 30.17L199.1 30.54L199.16 30.25L199.22 29.26L199.28 30.15L199.34 30.27L199.4 29.35L199.46 29.77L199.52 29.96L199.58 30.27L199.64 30.71L199.7 30.53L199.76 30.2L199.82 30.07L199.88 29.8L199.94 29.71L200 29.86L200.06 29.86L200.12 30.44L200.18 30.97L200.24 30.2L200.3 30.41L200.36 30.27L200.42 30.09L200.48 30.55L200.54 30.48L200.6 30.01L200.66 29.91L200.72 30.27L200.78 29.73L200.84 30.07L200.9 30.44L200.96 29.95L201.02 29.08L201.08 30.28L201.14 29.42L201.2 29.32L201.26 29.26L201.32 30.35L201.38 29.01L201.44 29.9L201.5 30.07L201.56 30.06L201.62 29.66L201.68 29.91L201.74 30.01L201.8 29.32L201.86 30.26L201.92 30.4L201.98 29.53L202.04 29.56L202.1 29.36L202.16 30.37L202.22 29.35L202.28 29.62L202.34 29L202.4 30.4L202.46 29.7L202.52 29.92L202.58 30.52L202.64 30.1L202.7 29.22L202.76 29.95L202.82 30.06L202.88 29.3L202.94 29.23L203 29.22L203.06 30.04L203.12 29.69L203.18 29.17L203.24 29.95L203.3 29.99L203.36 29.24L203.42 28.89L203.48 30.17L203.54 30.84L203.6 30.3L203.66 30.1L203.72 29.69L203.78 29.34L203.84 29.7L203.9 29.96L203.96 29.57L204.02 30.1L204.08 29.68L204.14 29.97L204.2 28.42L204.26 29.31L204.32 30.1L204.38 30.18L204.44 29.93L204.5 30.52L204.56 30.1L204.62 30.12L204.68 29.37L204.74 30L204.8 30.19L204.86 30.47L204.92 30.4L204.98 29.9L205.04 29.98L205.1 29.36L205.16 30.21L205.22 29.43L205.28 29.82L205.34 29.96L205.4 30.91L205.46 30.59L205.52 29.64L205.58 29.35L205.64 29.92L205.7 29.67L205.76 30.23L205.82 30.22L205.88 30.37L205.94 29.61L206 29.91L206.06 30.19L206.12 30.24L206.18 29.83L206.24 29.95L206.3 30.5L206.36 29.31L206.42 30L206.48 30.12L206.54 29.43L206.6 29.65L206.66 30.18L206.72 29.89L206.78 30.64L206.84 30.45L206.9 31.21L206.96 29.57L207.02 31.04L207.08 29.83L207.14 30.54L207.2 30.61L207.26 30.24L207.32 30.02L207.38 29.86L207.44 29.31L207.5 29.97L207.56 29.73L207.62 30.42L207.68 29.8L207.74 30.06L207.8 30.35L207.86 30.17L207.92 30.15L207.98 30.03L208.04 29.92L208.1 30.35L208.16 30.45L208.22 29.74L208.28 30.89L208.34 30.38L208.4 29.35L208.46 31.35L208.52 30.39L208.58 29.74L208.64 30.83L208.7 28.83L208.76 31.26L208.82 29.36L208.88 29.29L208.94 29.59L209 30.12L209.06 29.84L209.12 30.42L209.18 29.61L209.24 30.51L209.3 30.11L209.36 29.51L209.42 30.5L209.48 30.14L209.54 29.88L209.6 30.59L209.66 29.4L209.72 29.78L209.78 30.65L209.84 29.96L209.9 30.3L209.96 30.24L210.02 29.89L210.08 30.26L210.14 29.47L210.2 30.25L210.26 29.46L210.32 29.94L210.38 29.51L210.44 30.17L210.5 30.15L210.56 30.46L210.62 29.64L210.68 29.47L210.74 28.92L210.8 29.31L210.86 29.81L210.92 30.02L210.98 29.75L211.04 29.94L211.1 29.25L211.16 29.49L211.22 30.34L211.28 30.27L211.34 29.31L211.4 29.81L211.46 30.07L211.52 29.41L211.58 30.15L211.64 30.11L211.7 30.2L211.76 30.91L211.82 29.58L211.88 30.57L211.94 30.27L212 30.36L212.06 29.67L212.12 30.06L212.18 30.02L212.24 30.83L212.3 30.08L212.36 30.75L212.42 29.91L212.48 29.89L212.54 30.08L212.6 29.12L212.66 29.84L212.72 29.82L212.78 30.04L212.84 30.21L212.9 29.67L212.96 29.62L213.02 30.76L213.08 29.66L213.14 29.93L213.2 29.73L213.26 29.97L213.32 30.79L213.38 30.76L213.44 29.37L213.5 30.12L213.56 30.92L213.62 30.1L213.68 30.45L213.74 31.16L213.8 31.38L213.86 31.07L213.92 30.2L213.98 30.37L214.04 30.48L214.1 30.24L214.16 30.1L214.22 31.39L214.28 30.56L214.34 30.82L214.4 31.02L214.46 30.71L214.52 30.53L214.58 30.61L214.64 31.18L214.7 30.73L214.76 29.57L214.82 31.02L214.88 31.33L214.94 30.42L215 30.27L215.06 30.34L215.12 31.1L215.18 30.11L215.24 30.95L215.3 31.12L215.36 30.88L215.42 30.64L215.48 30.26L215.54 30.3L215.6 30.61L215.66 30.16L215.72 30.56L215.78 30.17L215.84 31.25L215.9 31.32L215.96 30.21L216.02 31.22L216.08 30.7L216.14 30.6L216.2 30.77L216.26 30.75L216.32 29.87L216.38 31.7L216.44 30.09L216.5 29.41L216.56 30.46L216.62 30.47L216.68 30.11L216.74 29.57L216.8 30.98L216.86 30.36L216.92 30.47L216.98 30.11L217.04 30.28L217.1 30.03L217.16 30.52L217.22 30.28L217.28 30.6L217.34 30.59L217.4 30.32L217.46 30.31L217.52 30.78L217.58 29.47L217.64 30.26L217.7 30.83L217.76 29.65L217.82 30.5L217.88 29.9L217.94 30.13L218 29.99L218.06 30.02L218.12 30.36L218.18 30.05L218.24 29.11L218.3 31.1L218.36 30.01L218.42 29.83L218.48 30.52L218.54 30.66L218.6 28.99L218.66 30.17L218.72 29.01L218.78 29.73L218.84 29.94L218.9 29.75L218.96 29.67L219.02 29.4L219.08 29.75L219.14 29.88L219.2 29.86L219.26 29.31L219.32 29.56L219.38 30.41L219.44 30.24L219.5 29.78L219.56 30.23L219.62 30.11L219.68 30.38L219.74 30.06L219.8 29.74L219.86 29.47L219.92 29.94L219.98 28.97L220.04 29.99L220.1 28.45L220.16 29.49L220.22 29.73L220.28 30.21L220.34 31.31L220.4 30.06L220.46 29.91L220.52 29.1L220.58 30.66L220.64 29.13L220.7 30.15L220.76 29.7L220.82 31.25L220.88 30L220.94 30.23L221 29.76L221.06 30.05L221.12 30.64L221.18 29.67L221.24 29.8L221.3 29.85L221.36 29.67L221.42 29.64L221.48 30.17L221.54 30.81L221.6 30.83L221.66 29.56L221.72 29.87L221.78 30.16L221.84 30.42L221.9 30.21L221.96 30.22L222.02 30.39L222.08 30.57L222.14 29.23L222.2 30.14L222.26 30.54L222.32 30.87L222.38 30.6L222.44 29.92L222.5 29.9L222.56 30.36L222.62 30.24L222.68 30.41L222.74 30.78L222.8 29.65L222.86 30.08L222.92 29.09L222.98 30.61L223.04 30.32L223.1 29.83L223.16 30.36L223.22 30.9L223.28 30.69L223.34 30.19L223.4 30.07L223.46 30.27L223.52 29.75L223.58 29.75L223.64 30.06L223.7 30.2L223.76 30.33L223.82 29.94L223.88 29.77L223.94 30.17L224 29.98L224.06 30.34L224.12 30.85L224.18 30.65L224.24 29.81L224.3 29.96L224.36 29.42L224.42 30.13L224.48 29.75L224.54 29.53L224.6 29.68L224.66 30.43L224.72 30.23L224.78 30.08L224.84 30.6L224.9 29.91L224.96 29.65L225.02 30.35L225.08 29.2L225.14 30.26L225.2 30.21L225.26 30.23L225.32 30.45L225.38 29.91L225.44 30.1L225.5 29.33L225.56 29.82L225.62 29.85L225.68 30.21L225.74 30.77L225.8 30.14L225.86 30.5L225.92 29.65L225.98 30.12L226.04 29.32L226.1 29.76L226.16 29.71L226.22 30L226.28 30.01L226.34 29.8L226.4 29.68L226.46 30.45L226.52 29.89L226.58 28.89L226.64 30.17L226.7 30.25L226.76 30.47L226.82 30.83L226.88 29.6L226.94 30.14L227 30.04L227.06 29.32L227.12 29.03L227.18 30.64L227.24 29.75L227.3 29.98L227.36 30.12L227.42 30.12L227.48 30.41L227.54 29.7L227.6 30.23L227.66 30.43L227.72 30.1L227.78 30.37L227.84 30.69L227.9 30.89L227.96 30.38L228.02 31.14L228.08 31.62L228.14 32.2L228.2 32.19L228.26 32.78L228.32 32.5L228.38 32.72L228.44 34.11L228.5 33.45L228.56 33.48L228.62 34.03L228.68 34.88L228.74 34.15L228.8 35.37L228.86 35.91L228.92 36.1L228.98 35.83L229.04 35.56L229.1 35.64L229.16 36.21L229.22 36.95L229.28 36.74L229.34 36.84L229.4 36.44L229.46 37.09L229.52 36.06L229.58 35.63L229.64 35.78L229.7 35.24L229.76 35.62L229.82 35.56L229.88 34.86L229.94 33.69L230 33.42L230.06 33.79L230.12 32.68L230.18 33.08L230.24 31.91L230.3 32.1L230.36 32.26L230.42 31.42L230.48 31.92L230.54 31.78L230.6 31.82L230.66 30.84L230.72 30.83L230.78 30.7L230.84 30.73L230.9 29.76L230.96 30.54L231.02 30.6L231.08 29.61L231.14 29.47L231.2 29.93L231.26 30.87L231.32 30.29L231.38 29.7L231.44 29.95L231.5 29.21L231.56 30.57L231.62 29.59L231.68 30.2L231.74 29.27L231.8 29.92L231.86 29.4L231.92 30.18L231.98 30.54L232.04 30.4L232.1 30.16L232.16 30.36L232.22 29.31L232.28 29.25L232.34 29.76L232.4 30.37L232.46 29.95L232.52 30.22L232.58 29.21L232.64 29.75L232.7 29.68L232.76 30.1L232.82 30.86L232.88 30.28L232.94 30.44L233 29.75L233.06 29.88L233.12 30.3L233.18 30.11L233.24 29.19L233.3 30.38L233.36 30.35L233.42 30.03L233.48 30.25L233.54 30.12L233.6 29.66L233.66 29.09L233.72 30.74L233.78 29.91L233.84 29.87L233.9 29.93L233.96 29.97L234.02 30.04L234.08 29.4L234.14 30.08L234.2 29.92L234.26 29.86L234.32 29.8L234.38 29.93L234.44 29.39L234.5 29.87L234.56 29.79L234.62 29.92L234.68 30.4L234.74 30.35L234.8 30.51L234.86 30L234.92 30.51L234.98 30.79L235.04 30.31L235.1 30.34L235.16 31.6L235.22 30.2L235.28 31.22L235.34 31.55L235.4 31.28L235.46 32.04L235.52 32.67L235.58 31.65L235.64 33.47L235.7 33.28L235.76 33.07L235.82 34.17L235.88 33.86L235.94 33.73L236 32.82L236.06 34.35L236.12 33.88L236.18 33.43L236.24 33.54L236.3 33.95L236.36 32.98L236.42 32.9L236.48 32.51L236.54 31.98L236.6 31.84L236.66 31.97L236.72 31.89L236.78 32.46L236.84 31.96L236.9 31.79L236.96 32.11L237.02 31.93L237.08 32.45L237.14 31.43L237.2 31.24L237.26 32.53L237.32 32.24L237.38 32.61L237.44 31.94L237.5 32.34L237.56 32.49L237.62 32.57L237.68 32.32L237.74 32.74L237.8 31.81L237.86 32.31L237.92 31.55L237.98 31.56L238.04 30.92L238.1 31.27L238.16 30.61L238.22 31.37L238.28 30.5L238.34 30.76L238.4 30.45L238.46 30.41L238.52 29.92L238.58 31.24L238.64 30.09L238.7 30.9L238.76 29.59L238.82 31.05L238.88 30.57L238.94 30.87L239 29.3L239.06 30.66L239.12 29.99L239.18 30.28L239.24 30.87L239.3 30.17L239.36 29.69L239.42 30.07L239.48 29.53L239.54 30.13L239.6 29.95L239.66 30.12L239.72 29.76L239.78 29.02L239.84 29.73L239.9 29.79L239.96 30.16L240.02 30.21L240.08 29.15L240.14 30.35L240.2 30.25L240.26 29.85L240.32 29.99L240.38 28.85L240.44 30.88L240.5 29.58L240.56 29.4L240.62 30.25L240.68 30.02L240.74 29.5L240.8 28.93L240.86 30.12L240.92 30.42L240.98 29.21L241.04 28.94L241.1 29.8L241.16 30.68L241.22 28.95L241.28 29.72L241.34 29.09L241.4 29.63L241.46 29.79L241.52 29.82L241.58 28.91L241.64 28.92L241.7 30.6L241.76 30.03L241.82 28.75L241.88 29.76L241.94 30.23L242 29.58L242.06 29.64L242.12 29.63L242.18 29.81L242.24 29.73L242.3 29.8L242.36 29.43L242.42 29.98L242.48 29.73L242.54 29.67L242.6 28.99L242.66 29.43L242.72 29.66L242.78 29.37L242.84 29.43L242.9 29.12L242.96 29.4L243.02 28.8L243.08 29.02L243.14 29.69L243.2 29.87L243.26 29.27L243.32 29.46L243.38 29.76L243.44 30.42L243.5 30.61L243.56 29.61L243.62 29.43L243.68 29.45L243.74 30.46L243.8 29.41L243.86 30.2L243.92 29.83L243.98 29.89L244.04 30.54L244.1 30.54L244.16 31.34L244.22 30.92L244.28 31.47L244.34 30.56L244.4 30.89L244.46 30.64L244.52 31.07L244.58 31.69L244.64 31.38L244.7 31.86L244.76 31.52L244.82 31.76L244.88 32.44L244.94 32.03L245 32.02L245.06 32.18L245.12 31.57L245.18 31.11L245.24 31.99L245.3 31.87L245.36 32.62L245.42 31.48L245.48 31.47L245.54 32.12L245.6 30.82L245.66 30.53L245.72 31.01L245.78 30.71L245.84 30.88L245.9 29.96L245.96 30.95L246.02 30.31L246.08 29.18L246.14 30.02L246.2 29.78L246.26 30.04L246.32 30.49L246.38 29.93L246.44 29.71L246.5 30.37L246.56 29.72L246.62 29.29L246.68 29.36L246.74 30.61L246.8 30.32L246.86 30.62L246.92 29.36L246.98 29.58L247.04 29.54L247.1 30.29L247.16 30.43L247.22 29.85L247.28 29.84L247.34 30.3L247.4 29.84L247.46 29.61L247.52 29.81L247.58 30.42L247.64 30.93L247.7 30.07L247.76 29.88L247.82 30.09L247.88 30.18L247.94 30.31L248 29.66L248.06 30.03L248.12 29.96L248.18 30.48L248.24 30.33L248.3 29.97L248.36 30.52L248.42 30.65L248.48 30.22L248.54 29.51L248.6 29.99L248.66 29.39L248.72 30.15L248.78 30.23L248.84 30.74L248.9 30.36L248.96 29.42L249.02 29.94L249.08 29.75L249.14 29.76L249.2 30.09L249.26 30.18L249.32 30.02L249.38 29.76L249.44 29.85L249.5 29.83L249.56 29.98L249.62 30.4L249.68 30.16L249.74 30.47L249.8 29.54L249.86 31L249.92 30.1L249.98 28.87L250.04 30.14L250.1 30.5L250.16 29.97L250.22 29.34L250.28 30.02L250.34 29.65L250.4 29.88L250.46 30.1L250.52 28.43L250.58 29.87L250.64 30.16L250.7 30.13L250.76 29.72L250.82 29.7L250.88 29.53L250.94 29.82L251 30.56L251.06 29.64L251.12 30.04L251.18 30.03L251.24 30.6L251.3 30.17L251.36 30.25L251.42 29.93L251.48 30.61L251.54 29.91L251.6 29.88L251.66 30.48L251.72 30.25L251.78 30.37L251.84 29.55L251.9 31.18L251.96 30.16L252.02 30.79L252.08 30.22L252.14 29.63L252.2 30.34L252.26 29.99L252.32 30.46L252.38 29.16L252.44 29.65L252.5 29.56L252.56 30.72L252.62 30.62L252.68 29.61L252.74 30.21L252.8 30.25L252.86 29.97L252.92 30.73L252.98 29.78L253.04 30.14L253.1 29.92L253.16 30.46L253.22 29.91L253.28 30.48L253.34 29.7L253.4 29.61L253.46 29.71L253.52 29.9L253.58 29.84L253.64 31.41L253.7 29.74L253.76 30.25L253.82 30.07L253.88 30.25L253.94 30.76L254 30.35L254.06 29.79L254.12 29.42L254.18 30.38L254.24 30.51L254.3 29.39L254.36 30.49L254.42 29.1L254.48 30.05L254.54 30.49L254.6 29.62L254.66 29.3L254.72 30.79L254.78 29.4L254.84 30.3L254.9 29.51L254.96 30.44L255.02 31.07L255.08 30.17L255.14 30.07L255.2 29.64L255.26 29.95L255.32 30.58L255.38 31.2L255.44 31.53L255.5 31.65L255.56 32.14L255.62 32.13L255.68 33.47L255.74 32.47L255.8 32.86L255.86 31.92L255.92 33.06L255.98 33.91L256.04 33.67L256.1 34.74L256.16 34.65L256.22 35.4L256.28 33.97L256.34 34.44L256.4 35.31L256.46 34.77L256.52 34.23L256.58 34.34L256.64 34.25L256.7 34.65L256.76 34.33L256.82 33.75L256.88 33.1L256.94 33.66L257 33.52L257.06 32.18L257.12 32.89L257.18 31.69L257.24 31.84L257.3 31.32L257.36 30.7L257.42 31.02L257.48 30.82L257.54 31.48L257.6 31.27L257.66 30.56L257.72 30.08L257.78 30.11L257.84 29.67L257.9 30.63L257.96 30.73L258.02 30.42L258.08 30.98L258.14 31.15L258.2 31.76L258.26 30.97L258.32 32.13L258.38 31.59L258.44 32.73L258.5 31.77L258.56 33L258.62 32.34L258.68 33.7L258.74 33.34L258.8 32.74L258.86 33.8L258.92 33.47L258.98 33.77L259.04 34.62L259.1 33.34L259.16 33.19L259.22 33.78L259.28 32.83L259.34 33.28L259.4 33.17L259.46 32.47L259.52 32.56L259.58 30.94L259.64 32.53L259.7 31.24L259.76 30.93L259.82 32.16L259.88 31.89L259.94 30.68L260 31.06L260.06 30.55L260.12 30.12L260.18 30.77L260.24 31.04L260.3 31.78L260.36 30.37L260.42 30.88L260.48 30.28L260.54 30.3L260.6 31.05L260.66 29.58L260.72 29.87L260.78 29.98L260.84 30.93L260.9 30.56L260.96 30.62L261.02 30.56L261.08 30.89L261.14 30.15L261.2 30.25L261.26 30.18L261.32 30.59L261.38 29.74L261.44 30.26L261.5 31.63L261.56 30.65L261.62 30.37L261.68 29.89L261.74 30.49L261.8 30.46L261.86 30.66L261.92 30.03L261.98 30.56L262.04 30.63L262.1 30.7L262.16 30.09L262.22 30.6L262.28 31.14L262.34 30.06L262.4 30.68L262.46 30.19L262.52 30.18L262.58 29.8L262.64 29.87L262.7 30.64L262.76 30.45L262.82 30.99L262.88 29.59L262.94 30.18L263 29.74L263.06 30.55L263.12 31.37L263.18 29.69L263.24 30.37L263.3 30.36L263.36 30.4L263.42 30.13L263.48 30.19L263.54 31.2L263.6 29.94L263.66 30.71L263.72 30.68L263.78 29.66L263.84 30.04L263.9 30.64L263.96 31.36L264.02 30.41L264.08 30.24L264.14 30.53L264.2 31.08L264.26 30.87L264.32 31.09L264.38 30.4L264.44 30.11L264.5 30.01L264.56 30.84L264.62 30.38L264.68 30.23L264.74 30.73L264.8 30.56L264.86 29.49L264.92 30.38L264.98 30.06L265.04 30.68L265.1 30.45L265.16 31.27L265.22 30.47L265.28 29.89L265.34 29.46L265.4 29.88L265.46 30.11L265.52 30.4L265.58 30.7L265.64 30.49L265.7 30.12L265.76 30.77L265.82 29.96L265.88 30.85L265.94 31.22L266 30.85L266.06 31.15L266.12 31.01L266.18 29.83L266.24 30.45L266.3 30.25L266.36 29.8L266.42 29.75L266.48 30.57L266.54 29.7L266.6 30.14L266.66 30.32L266.72 30.11L266.78 30.98L266.84 30.67L266.9 30.35L266.96 30L267.02 30.46L267.08 30.34L267.14 29.82L267.2 29.6L267.26 29.9L267.32 29.65L267.38 30.43L267.44 30.38L267.5 30.08L267.56 30.36L267.62 30.45L267.68 29.42L267.74 30.28L267.8 30.63L267.86 29.94L267.92 29.29L267.98 30.11L268.04 29.56L268.1 30.34L268.16 30.35L268.22 30.44L268.28 30.18L268.34 29.25L268.4 30.66L268.46 29.35L268.52 30.61L268.58 30.26L268.64 29.78L268.7 29.91L268.76 30.11L268.82 31.06L268.88 30.17L268.94 30.89L269 29.27L269.06 30.67L269.12 30.57L269.18 31.3L269.24 31.1L269.3 31.6L269.36 30.65L269.42 31.36L269.48 31.1L269.54 31.8L269.6 31.83L269.66 31.1L269.72 32.26L269.78 32.73L269.84 31.75L269.9 32.53L269.96 32.23L270.02 31.6L270.08 32.4L270.14 31.57L270.2 32.25L270.26 31.16L270.32 31.15L270.38 31.9L270.44 31.67L270.5 31.85L270.56 31.25L270.62 30.68L270.68 31.78L270.74 30.56L270.8 31.5L270.86 31.17L270.92 31.52L270.98 29.6L271.04 30.48L271.1 30.32L271.16 30.69L271.22 29.82L271.28 31.27L271.34 30.23L271.4 29.17L271.46 30.37L271.52 30.16L271.58 29.83L271.64 30.52L271.7 30.11L271.76 29.66L271.82 30.02L271.88 29.93L271.94 30.26L272 29.95L272.06 30.06L272.12 29.4L272.18 29.74L272.24 30.19L272.3 31.22L272.36 29.73L272.42 29.7L272.48 30.48L272.54 30.99L272.6 30.58L272.66 29.6L272.72 30.52L272.78 30.23L272.84 29.9L272.9 29.42L272.96 29.99L273.02 30.02L273.08 30.22L273.14 29.19L273.2 29.44L273.26 29.98L273.32 30.58L273.38 30.29L273.44 29.64L273.5 30.24L273.56 29.47L273.62 29.72L273.68 29.74L273.74 29.57L273.8 29.64L273.86 30.27L273.92 30.02L273.98 28.76L274.04 30.43L274.1 30.09L274.16 29.36L274.22 29.94L274.28 30.25L274.34 30.5L274.4 29.63L274.46 29.41L274.52 29.23L274.58 29.87L274.64 29.42L274.7 30.4L274.76 29.85L274.82 30.25L274.88 29.86L274.94 29.6L275 29.46L275.06 30.45L275.12 29.39L275.18 30.22L275.24 30.5L275.3 30.1L275.36 30.72L275.42 30.04L275.48 29.92L275.54 30.16L275.6 29.82L275.66 30.23L275.72 30.09L275.78 30.78L275.84 30.09L275.9 30.52L275.96 30.34L276.02 30.18L276.08 30.06L276.14 30.93L276.2 30.89L276.26 30.31L276.32 29.95L276.38 30.01L276.44 29.76L276.5 29.57L276.56 29.96L276.62 30.21L276.68 30.69L276.74 30.65L276.8 30.43L276.86 30.09L276.92 30.12L276.98 30.22L277.04 30.3L277.1 29.94L277.16 30.14L277.22 30.1L277.28 30.1L277.34 30.5L277.4 30.73L277.46 30.02L277.52 30.06L277.58 30.36L277.64 30.45L277.7 29.19L277.76 30.61L277.82 30.36L277.88 30.13L277.94 30.8L278 30.2L278.06 29.41L278.12 29.81L278.18 29.95L278.24 29.96L278.3 30.18L278.36 29.78L278.42 30.3L278.48 30.41L278.54 30.16L278.6 29.77L278.66 30.03L278.72 29.86L278.78 31.12L278.84 29.59L278.9 29.04L278.96 29.5L279.02 30.27L279.08 30.5L279.14 29.96L279.2 30.54L279.26 29.72L279.32 30.29L279.38 29.58L279.44 29.37L279.5 30.95L279.56 29.84L279.62 30.3L279.68 30.61L279.74 30.23L279.8 30.02L279.86 29.42L279.92 30.61L279.98 29.38L280.04 28.91L280.1 29.57L280.16 29.58L280.22 29.83L280.28 30.36L280.34 29.54L280.4 29.6L280.46 29.43L280.52 28.55L280.58 29.41L280.64 29.54L280.7 29L280.76 30.36L280.82 30.26L280.88 29.89L280.94 30.02L281 29.38L281.06 29.86L281.12 28.89L281.18 28.99L281.24 29.34L281.3 29.89L281.36 29.42L281.42 29.34L281.48 30.23L281.54 29.57L281.6 29.42L281.66 29.67L281.72 29.05L281.78 29.25L281.84 30.24L281.9 29.83L281.96 30.34L282.02 29.73L282.08 30.48L282.14 29.71L282.2 30.05L282.26 29.88L282.32 30.51L282.38 31.25L282.44 29.85L282.5 30.89L282.56 30.28L282.62 30.85L282.68 30.85L282.74 30.41L282.8 31.2L282.86 30.77L282.92 32.18L282.98 31.1L283.04 31.63L283.1 31.56L283.16 31.45L283.22 31.24L283.28 30.55L283.34 32.11L283.4 31.12L283.46 31.37L283.52 30.38L283.58 31.02L283.64 30.5L283.7 30.8L283.76 30.21L283.82 29.96L283.88 30.55L283.94 30.28L284 30.91L284.06 30.06L284.12 29.76L284.18 30.39L284.24 29.58L284.3 31.06L284.36 30.94L284.42 30.71L284.48 30.27L284.54 30.02L284.6 30.06L284.66 30.05L284.72 29.67L284.78 30.23L284.84 30.59L284.9 30.58L284.96 28.99L285.02 31.09L285.08 30.06L285.14 29.28L285.2 29.73L285.26 30.34L285.32 29.95L285.38 29.53L285.44 29.36L285.5 30.34L285.56 29.55L285.62 29.79L285.68 29.38L285.74 29.23L285.8 30.04L285.86 30.55L285.92 29.67L285.98 29.01L286.04 29.52L286.1 29.72L286.16 28.69L286.22 30.3L286.28 29.37L286.34 30.06L286.4 29.75L286.46 29.73L286.52 29.04L286.58 30.19L286.64 29.99L286.7 30.47L286.76 29.48L286.82 29.91L286.88 29.49L286.94 30.18L287 29.83L287.06 29.16L287.12 29.72L287.18 29.34L287.24 29.37L287.3 29.77L287.36 30.33L287.42 29.12L287.48 29.5L287.54 29.1L287.6 30.5L287.66 30.33L287.72 30.55L287.78 29.94L287.84 29.03L287.9 29.25L287.96 29.53L288.02 29.44L288.08 29.14L288.14 29.64L288.2 29.3L288.26 29.42L288.32 30.51L288.38 29.66L288.44 28.84L288.5 29.66L288.56 29.54L288.62 29.76L288.68 29.7L288.74 28.94L288.8 29.6L288.86 29.95L288.92 30.93L288.98 29.74L289.04 30.4L289.1 30.33L289.16 29.1L289.22 29.14L289.28 30.37L289.34 29.07L289.4 29.26L289.46 29.84L289.52 29.13L289.58 30.24L289.64 30.04L289.7 30.15L289.76 29.99L289.82 29.05L289.88 30.09L289.94 30L290 29.9L290.06 29.36L290.12 29.61L290.18 29.04L290.24 29.77L290.3 30.04L290.36 29.66L290.42 29.4L290.48 29.85L290.54 29.27L290.6 28.54L290.66 29.66L290.72 29.36L290.78 28.74L290.84 29.67L290.9 29.76L290.96 29.87L291.02 29.16L291.08 29.1L291.14 29.4L291.2 29.31L291.26 28.72L291.32 28.91L291.38 29.97L291.44 29.31L291.5 29.26L291.56 28.97L291.62 29.41L291.68 29.61L291.74 29.52L291.8 30.14L291.86 29.32L291.92 29.59L291.98 29.09L292.04 29.8L292.1 29.53L292.16 29.79L292.22 29.83L292.28 29.01L292.34 29.56L292.4 29.14L292.46 29.89L292.52 29.32L292.58 30.17L292.64 29.61L292.7 29.63L292.76 29.13L292.82 29.33L292.88 29.51L292.94 29.04L293 29.36L293.06 29.2L293.12 29.11L293.18 29.51L293.24 29.62L293.3 29.34L293.36 29.69L293.42 29.32L293.48 28.99L293.54 29.12L293.6 29.7L293.66 30.13L293.72 29.56L293.78 29.59L293.84 29.02L293.9 29.72L293.96 29.64L294.02 29.19L294.08 29.76L294.14 29.61L294.2 28.73L294.26 28.83L294.32 29.23L294.38 29.4L294.44 29.97L294.5 29.25L294.56 29.48L294.62 29.39L294.68 29.74L294.74 29.49L294.8 29.56L294.86 29.32L294.92 28.79L294.98 29.28L295.04 30.22L295.1 29.89L295.16 30.17L295.22 29.79L295.28 29.14L295.34 29.2L295.4 29.67L295.46 29.25L295.52 29.72L295.58 30.02L295.64 30.01L295.7 29.74L295.76 28.66L295.82 29.95L295.88 28.73L295.94 28.69L296 29.39L296.06 29.32L296.12 29.58L296.18 29.3L296.24 28.98L296.3 29.28L296.36 28.82L296.42 28.73L296.48 29.12L296.54 29.13L296.6 29.31L296.66 29.13L296.72 29.82L296.78 29.11L296.84 29.21L296.9 29.72L296.96 28.31L297.02 29.79L297.08 29.75L297.14 29.23L297.2 30.29L297.26 29.78L297.32 30.15L297.38 29.92L297.44 29.57L297.5 29.41L297.56 29.1L297.62 29.31L297.68 29.22L297.74 29.6L297.8 30.21L297.86 29.6L297.92 30.51L297.98 30.73L298.04 29.92L298.1 30.47L298.16 30.96L298.22 30.95L298.28 31.14L298.34 32.45L298.4 32.11L298.46 32.89L298.52 32.53L298.58 33.15L298.64 32.43L298.7 33.03L298.76 33.83L298.82 33.6L298.88 34.27L298.94 33.76L299 33.55L299.06 33.67L299.12 34.64L299.18 33.8L299.24 33.27L299.3 33.21L299.36 32.62L299.42 33.55L299.48 32.47L299.54 32.78L299.6 32.14L299.66 31.8L299.72 31.42L299.78 31.78L299.84 31.2L299.9 31.63L299.96 31.56L300.02 30.46L300.08 30.59L300.14 31.19L300.2 30.71L300.26 30.2L300.32 29.39L300.38 29.56L300.44 29.61L300.5 30.78L300.56 29.95L300.62 29.64L300.68 29.66L300.74 29.62L300.8 29.91L300.86 28.96L300.92 29.08L300.98 29.81L301.04 30.22L301.1 28.79L301.16 30L301.22 29.18L301.28 28.84L301.34 30.17L301.4 29.58L301.46 29.88L301.52 29.47L301.58 29.55L301.64 28.78L301.7 29.41L301.76 29.69L301.82 29.15L301.88 29.8L301.94 29.84L302 28.6L302.06 30.04L302.12 29.87L302.18 29.62L302.24 30.13L302.3 30.62L302.36 29.12L302.42 29.98L302.48 29.87L302.54 29.78L302.6 30.06L302.66 30.1L302.72 29.52L302.78 28.46L302.84 29.24L302.9 29.23L302.96 30.29L303.02 29.59L303.08 30.14L303.14 29.22L303.2 29.68L303.26 29.56L303.32 29.62L303.38 29.85L303.44 30.29L303.5 29.3L303.56 30.23L303.62 30.14L303.68 29.72L303.74 29.92L303.8 29.46L303.86 29.11L303.92 29.47L303.98 29.5L304.04 29.58L304.1 29.2L304.16 30.47L304.22 29.43L304.28 30.05L304.34 30.19L304.4 29.62L304.46 29.8L304.52 29.35L304.58 29.11L304.64 30.73L304.7 29.67L304.76 28.72L304.82 29.24L304.88 28.97L304.94 29.61L305 30.33L305.06 30.19L305.12 29.33L305.18 29.22L305.24 30.02L305.3 29.81L305.36 29.56L305.42 30.51L305.48 29.86L305.54 28.94L305.6 28.67L305.66 29.75L305.72 28.85L305.78 29.96L305.84 30.1L305.9 30.77L305.96 29.27L306.02 29.9L306.08 28.63L306.14 29.58L306.2 29.65L306.26 30.59L306.32 29.04L306.38 29.92L306.44 29.82L306.5 30.79L306.56 29.32L306.62 29.29L306.68 30.04L306.74 29.71L306.8 29.58L306.86 29.31L306.92 29.71L306.98 28.95L307.04 29.88L307.1 30.05L307.16 29.98L307.22 30.96L307.28 30.14L307.34 29.29L307.4 29.64L307.46 30.15L307.52 29.6L307.58 30.72L307.64 29.9L307.7 29.52L307.76 29.44L307.82 30.13L307.88 29.34L307.94 28.89L308 29.97L308.06 29.42L308.12 30.51L308.18 30.7L308.24 29.49L308.3 29.76L308.36 29.69L308.42 30.06L308.48 29.92L308.54 29.41L308.6 28.98L308.66 29.9L308.72 30.57L308.78 29.2L308.84 29.52L308.9 29.49L308.96 29.72L309.02 28.72L309.08 29.78L309.14 29.58L309.2 30.7L309.26 30.1L309.32 30.16L309.38 29.85L309.44 29.68L309.5 30.2L309.56 29.03L309.62 30.35L309.68 30.07L309.74 29.75L309.8 30.45L309.86 29.59L309.92 29.57L309.98 30.01L310.04 28.97L310.1 29.83L310.16 29.74L310.22 30.33L310.28 30.66L310.34 30.18L310.4 30.03L310.46 30.09L310.52 29.52L310.58 31.01L310.64 30.42L310.7 30.75L310.76 29.26L310.82 30.15L310.88 30.13L310.94 30.41L311 29.47L311.06 30.09L311.12 29.79L311.18 30.86L311.24 29.35L311.3 29.72L311.36 29.64L311.42 29.32L311.48 30L311.54 29.99L311.6 29.58L311.66 29.72L311.72 30.04L311.78 29.91L311.84 30.17L311.9 29.6L311.96 29.5L312.02 29.94L312.08 29.07L312.14 30.68L312.2 30.07L312.26 29.17L312.32 30.18L312.38 30.74L312.44 29.34L312.5 29.75L312.56 30.58L312.62 29.66L312.68 30.52L312.74 30.68L312.8 30.13L312.86 30.29L312.92 30.59L312.98 30.26L313.04 30.57L313.1 30.08L313.16 30.13L313.22 29.79L313.28 30.36L313.34 30.79L313.4 30.79L313.46 30.3L313.52 29.47L313.58 29.81L313.64 30.52L313.7 29.79L313.76 30.79L313.82 29.78L313.88 30.45L313.94 29.92L314 30L314.06 30.43L314.12 30.16L314.18 30.83L314.24 30.37L314.3 29.84L314.36 28.43L314.42 30.04L314.48 30.35L314.54 30.88L314.6 29.92L314.66 31.22L314.72 30.85L314.78 30.33L314.84 31.1L314.9 29.84L314.96 30.1L315.02 30.94L315.08 31L315.14 31.43L315.2 31.55L315.26 30.78L315.32 30.79L315.38 31.03L315.44 31.18L315.5 31.69L315.56 31.37L315.62 32.34L315.68 31.75L315.74 31.15L315.8 31.29L315.86 32.2L315.92 32.17L315.98 31.38L316.04 31.18L316.1 32.7L316.16 32.14L316.22 31.75L316.28 31.2L316.34 32.06L316.4 31.25L316.46 31.57L316.52 30.18L316.58 30.98L316.64 31.12L316.7 31.1L316.76 30.34L316.82 30.42L316.88 31.16L316.94 30.46L317 31.13L317.06 30.79L317.12 30.99L317.18 30.96L317.24 30.62L317.3 30.72L317.36 29.98L317.42 29.82L317.48 30.29L317.54 30.68L317.6 29.76L317.66 31.07L317.72 31.02L317.78 29.75L317.84 29.76L317.9 29.6L317.96 30.15L318.02 30.63L318.08 30.27L318.14 29.75L318.2 30.37L318.26 30.33L318.32 30.65L318.38 30.53L318.44 29.58L318.5 29.76L318.56 30.52L318.62 30.48L318.68 30.23L318.74 29.71L318.8 30.52L318.86 30.04L318.92 30.98L318.98 30.56L319.04 29.77L319.1 29.55L319.16 30.52L319.22 30.35L319.28 29.61L319.34 30.18L319.4 30.26L319.46 29.76L319.52 29.92L319.58 29.5L319.64 29.65L319.7 30.31L319.76 30.1L319.82 30.08L319.88 30.71L319.94 30.54L320 29.63L320.06 30.85L320.12 29.64L320.18 29.98L320.24 30.19L320.3 29.88L320.36 29.92L320.42 29.59L320.48 30.36L320.54 30.29L320.6 30.31L320.66 29.31L320.72 29.77L320.78 30.66L320.84 30.39L320.9 30.57L320.96 30.24L321.02 30.16L321.08 29.19L321.14 31.14L321.2 29.8L321.26 30.09L321.32 30.64L321.38 30.38L321.44 30.55L321.5 30.3L321.56 29.86L321.62 31.06L321.68 29.73L321.74 30.53L321.8 29.65L321.86 30.17L321.92 29.79L321.98 30.11L322.04 29.87L322.1 30.36L322.16 30.78L322.22 30.07L322.28 30.06L322.34 29.41L322.4 31.35L322.46 30.5L322.52 29.9L322.58 31L322.64 30.51L322.7 29.41L322.76 29.74L322.82 30.82L322.88 29.73L322.94 29.84L323 30.03L323.06 30.22L323.12 30.28L323.18 30.8L323.24 30.64L323.3 30.04L323.36 30.32L323.42 29.51L323.48 30.54L323.54 31.5L323.6 30.53L323.66 30.23L323.72 30.18L323.78 30.33L323.84 30.74L323.9 29.65L323.96 30.66L324.02 30.01L324.08 30.48L324.14 30.9L324.2 29.67L324.26 31.52L324.32 30.74L324.38 30.13L324.44 30.5L324.5 29.98L324.56 30.38L324.62 30.55L324.68 29.32L324.74 30.44L324.8 30.42L324.86 30.86L324.92 30.7L324.98 30.05L325.04 30.09L325.1 30.36L325.16 30.7L325.22 30.05L325.28 31.18L325.34 30.55L325.4 30.51L325.46 30.79L325.52 30.33L325.58 30.72L325.64 30.79L325.7 29.57L325.76 30.07L325.82 29.86L325.88 30.41L325.94 29.98L326 30.07L326.06 29.87L326.12 29.33L326.18 30.55L326.24 30.32L326.3 30.47L326.36 32.1L326.42 31.1L326.48 30.43L326.54 30.14L326.6 30.71L326.66 29.9L326.72 29.82L326.78 30.62L326.84 29.75L326.9 29.59L326.96 30.19L327.02 30.86L327.08 29.7L327.14 30.46L327.2 30.55L327.26 30.31L327.32 30.62L327.38 29.85L327.44 29.98L327.5 29.77L327.56 30.06L327.62 30.7L327.68 30.39L327.74 29.9L327.8 30.5L327.86 28.93L327.92 30.41L327.98 30.57L328.04 29.75L328.1 29.93L328.16 30.3L328.22 30.39L328.28 30.08L328.34 29.89L328.4 29.93L328.46 30.43L328.52 30.09L328.58 29.91L328.64 29.96L328.7 31.79L328.76 30.79L328.82 30.77L328.88 30.55L328.94 30.42L329 30.13L329.06 30.35L329.12 30.79L329.18 30.82L329.24 30.12L329.3 31.37L329.36 31.08L329.42 30.63L329.48 31.36L329.54 32.64L329.6 31.65L329.66 32.15L329.72 32.16L329.78 31.72L329.84 32.09L329.9 32.5L329.96 31.99L330.02 32.21L330.08 32.34L330.14 32.2L330.2 32.14L330.26 32.32L330.32 32.25L330.38 31.88L330.44 32.2L330.5 32.18L330.56 30.83L330.62 31.4L330.68 31.16L330.74 31.07L330.8 30.88L330.86 30.77L330.92 30.65L330.98 30.98L331.04 30.09L331.1 30.79L331.16 29.93L331.22 31.27L331.28 30.84L331.34 29.84L331.4 30.35L331.46 30.58L331.52 30.07L331.58 30.72L331.64 30.18L331.7 31.25L331.76 30.41L331.82 30.49L331.88 29.93L331.94 29.76L332 30.57L332.06 29.4L332.12 30.43L332.18 31.11L332.24 31.26L332.3 29.41L332.36 30.18L332.42 30.44L332.48 30.48L332.54 30.64L332.6 29.49L332.66 30.17L332.72 29.28L332.78 30.22L332.84 31.23L332.9 29.73L332.96 30.31L333.02 30.25L333.08 29.4L333.14 30.27L333.2 29.6L333.26 30.15L333.32 30.51L333.38 29.92L333.44 30.45L333.5 29.59L333.56 29.73L333.62 30.15L333.68 29.9L333.74 29.93L333.8 30.32L333.86 29.78L333.92 30.31L333.98 29.92L334.04 30.66L334.1 30.16L334.16 30.02L334.22 30.59L334.28 30.42L334.34 30.47L334.4 29.88L334.46 30.56L334.52 30.01L334.58 29.5L334.64 30.05L334.7 30.97L334.76 30.15L334.82 29.72L334.88 30.34L334.94 29.68L335 29.91L335.06 30L335.12 30.31L335.18 30.42L335.24 30.3L335.3 30.14L335.36 29.92L335.42 29.96L335.48 30.3L335.54 30.12L335.6 29.96L335.66 30.9L335.72 30.5L335.78 30.5L335.84 30.22L335.9 30.25L335.96 30.23L336.02 30.52L336.08 29.79L336.14 29.97L336.2 30.87L336.26 30.08L336.32 30.62L336.38 29.28L336.44 30.29L336.5 30.26L336.56 30.03L336.62 30.16L336.68 30.09L336.74 29.33L336.8 29.95L336.86 29.66L336.92 29.52L336.98 30.5L337.04 29.25L337.1 29.72L337.16 29.59L337.22 30.44L337.28 29.64L337.34 29.83L337.4 30.27L337.46 28.94L337.52 29.75L337.58 30.12L337.64 29.91L337.7 29.57L337.76 29.46L337.82 29.72L337.88 29.41L337.94 29.29L338 30.55L338.06 30.2L338.12 30.4L338.18 29.91L338.24 29.27L338.3 29.63L338.36 30.42L338.42 30.06L338.48 29.43L338.54 30.16L338.6 29.94L338.66 29.75L338.72 30.74L338.78 29.51L338.84 29.71L338.9 29.59L338.96 30.31L339.02 30.2L339.08 30.11L339.14 29.71L339.2 29.78L339.26 29.75L339.32 28.96L339.38 29.18L339.44 30.13L339.5 30.09L339.56 28.97L339.62 29.92L339.68 29.12L339.74 29.01L339.8 30.01L339.86 29.88L339.92 29.71L339.98 30.16L340.04 30.21L340.1 29.94L340.16 29.35L340.22 29.96L340.28 29.85L340.34 29.97L340.4 30.4L340.46 29.06L340.52 30.87L340.58 30.08L340.64 29.51L340.7 30.44L340.76 29.5L340.82 29.2L340.88 30.2L340.94 29.71L341 30.34L341.06 29.58L341.12 29.79L341.18 29.74L341.24 29.2L341.3 29.63L341.36 29.23L341.42 29.57L341.48 30.44L341.54 29.76L341.6 29.66L341.66 30.58L341.72 29.27L341.78 29.87L341.84 29.74L341.9 30.34L341.96 29.89L342.02 29.78L342.08 30.08L342.14 29.89L342.2 30.93L342.26 29.3L342.32 30.46L342.38 30.97L342.44 30.39L342.5 30.33L342.56 29.69L342.62 30.37L342.68 29.81L342.74 30.39L342.8 28.9L342.86 29.68L342.92 29.02L342.98 30.41L343.04 29.62L343.1 30.38L343.16 29.66L343.22 29.61L343.28 30.67L343.34 30.46L343.4 30.47L343.46 30.62L343.52 30.26L343.58 30.36L343.64 30.58L343.7 29.85L343.76 29.64L343.82 30.5L343.88 30.14L343.94 29.87L344 29.97L344.06 30.19L344.12 29.47L344.18 29.44L344.24 29.51L344.3 29.91L344.36 28.87L344.42 28.97L344.48 29.97L344.54 29.82L344.6 29.19L344.66 30.11L344.72 29.53L344.78 29.68L344.84 30.02L344.9 29.78L344.96 30.39L345.02 29.89L345.08 30.56L345.14 28.53L345.2 28.87L345.26 28.98L345.32 29.4L345.38 29.06L345.44 28.91L345.5 29.01L345.56 29.04L345.62 29.88L345.68 29.24L345.74 29.67L345.8 29.96L345.86 29.93L345.92 29.18L345.98 28.87L346.04 30L346.1 28.52L346.16 28.64L346.22 29.5L346.28 29.54L346.34 29.35L346.4 28.85L346.46 29.48L346.52 29.82L346.58 29.14L346.64 30.27L346.7 29.23L346.76 28.75L346.82 29.16L346.88 28.94L346.94 29.08L347 28.97L347.06 29.25L347.12 29.71L347.18 29.43L347.24 29.37L347.3 28.75L347.36 28.58L347.42 29.16L347.48 29.72L347.54 29.71L347.6 29.47L347.66 28.73L347.72 29.24L347.78 29.43L347.84 29.77L347.9 29L347.96 29.29L348.02 29.46L348.08 29.39L348.14 28.65L348.2 29.53L348.26 28.67L348.32 28.88L348.38 29.45L348.44 29.07L348.5 29.55L348.56 29.89L348.62 29.63L348.68 29.94L348.74 29.28L348.8 29.52L348.86 29.26L348.92 29.15L348.98 31.01" fill="none" stroke="#000" stroke-width="1.8000" stroke-linejoin="round" stroke-linecap="square"/></g>
<rect x="35.00" y="4.00" width="314.00" height="78.40" fill="none" stroke="#000" stroke-width="0.833"/>
<line x1="31.35" y1="82.40" x2="35.00" y2="82.40" stroke="#000" stroke-width="0.833"/>
<text x="29.75" y="86.25" text-anchor="end" textLength="16.54" lengthAdjust="spacingAndGlyphs">0.0</text>
<line x1="31.35" y1="56.27" x2="35.00" y2="56.27" stroke="#000" stroke-width="0.833"/>
<text x="29.75" y="60.12" text-anchor="end" textLength="16.54" lengthAdjust="spacingAndGlyphs">0.5</text>
<line x1="31.35" y1="30.13" x2="35.00" y2="30.13" stroke="#000" stroke-width="0.833"/>
<text x="29.75" y="33.98" text-anchor="end" textLength="16.54" lengthAdjust="spacingAndGlyphs">1.0</text>
<line x1="31.35" y1="4.00" x2="35.00" y2="4.00" stroke="#000" stroke-width="0.833"/>
<text x="29.75" y="7.85" text-anchor="end" textLength="16.54" lengthAdjust="spacingAndGlyphs">1.5</text>
<line x1="57.30" y1="82.40" x2="57.30" y2="86.05" stroke="#000" stroke-width="0.833"/>
<text x="57.30" y="95.70" text-anchor="middle" textLength="26.47" lengthAdjust="spacingAndGlyphs">4800</text>
<line x1="103.97" y1="82.40" x2="103.97" y2="86.05" stroke="#000" stroke-width="0.833"/>
<text x="103.97" y="95.70" text-anchor="middle" textLength="26.47" lengthAdjust="spacingAndGlyphs">4900</text>
<line x1="150.63" y1="82.40" x2="150.63" y2="86.05" stroke="#000" stroke-width="0.833"/>
<text x="150.63" y="95.70" text-anchor="middle" textLength="26.47" lengthAdjust="spacingAndGlyphs">5000</text>
<line x1="197.30" y1="82.40" x2="197.30" y2="86.05" stroke="#000" stroke-width="0.833"/>
<text x="197.30" y="95.70" text-anchor="middle" textLength="26.47" lengthAdjust="spacingAndGlyphs">5100</text>
<line x1="243.97" y1="82.40" x2="243.97" y2="86.05" stroke="#000" stroke-width="0.833"/>
<text x="243.97" y="95.70" text-anchor="middle" textLength="26.47" lengthAdjust="spacingAndGlyphs">5200</text>
<line x1="290.63" y1="82.40" x2="290.63" y2="86.05" stroke="#000" stroke-width="0.833"/>
<text x="290.63" y="95.70" text-anchor="middle" textLength="26.47" lengthAdjust="spacingAndGlyphs">5300</text>
<line x1="337.30" y1="82.40" x2="337.30" y2="86.05" stroke="#000" stroke-width="0.833"/>
<text x="337.30" y="95.70" text-anchor="middle" textLength="26.47" lengthAdjust="spacingAndGlyphs">5400</text>
<text x="192.00" y="108.40" text-anchor="middle" textLength="127.99" lengthAdjust="spacingAndGlyphs">wavelength (Angstroms)</text>
<text x="0" y="0" text-anchor="middle" textLength="80.57" lengthAdjust="spacingAndGlyphs" transform="translate(8.35 43.20) rotate(-90)">normalized flux</text>
<g clip-path="url(#cb)"><rect x="49.10" y="134.00" width="9.00" height="78.50" fill="#bfbfbf"/><rect x="95.90" y="134.00" width="14.00" height="78.50" fill="#bfbfbf"/><rect x="321.70" y="134.00" width="19.10" height="78.50" fill="#bfbfbf"/><rect x="199.10" y="134.00" width="17.10" height="78.50" fill="#c48484"/><rect x="276.90" y="134.00" width="37.95" height="78.50" fill="#c48484"/><path d="M35 160.44L35.06 161.08L35.12 160.42L35.18 160.95L35.24 160.11L35.3 160.62L35.36 159.84L35.42 160.99L35.48 160.58L35.54 159.66L35.6 160.01L35.66 160.9L35.72 161.14L35.78 160.05L35.84 159.78L35.9 160.7L35.96 159.95L36.02 160.4L36.08 159.76L36.14 160.47L36.2 161.08L36.26 161.1L36.32 159.76L36.38 161.03L36.44 160.34L36.5 160.11L36.56 160L36.62 160.32L36.68 160.81L36.74 159.83L36.8 160.32L36.86 159.6L36.92 160.07L36.98 160.13L37.04 160.25L37.1 160.94L37.16 160.16L37.22 160.39L37.28 161.11L37.34 159.99L37.4 159.66L37.46 159.99L37.52 160.95L37.58 160.51L37.64 160.45L37.7 160.75L37.76 160.1L37.82 159.91L37.88 160.52L37.94 160.47L38 160.58L38.06 160.63L38.12 160.17L38.18 159.85L38.24 160.07L38.3 159.72L38.36 160.05L38.42 159.93L38.48 159.86L38.54 160.41L38.6 159.9L38.66 159.62L38.72 160.7L38.78 160.45L38.84 161.08L38.9 159.72L38.96 159.65L39.02 161.08L39.08 160.48L39.14 160.65L39.2 160.82L39.26 160.57L39.32 159.49L39.38 160.49L39.44 160.2L39.5 159.73L39.56 160.14L39.62 160.67L39.68 160.52L39.74 159.9L39.8 160.59L39.86 160.27L39.92 159.83L39.98 160.73L40.04 160.57L40.1 159.94L40.16 160.87L40.22 160.44L40.28 161.09L40.34 160.91L40.4 160.07L40.46 160.46L40.52 160.11L40.58 160.51L40.64 159.86L40.7 160.6L40.76 160.83L40.82 160.94L40.88 159.5L40.94 160.68L41 160.63L41.06 160.39L41.12 160.67L41.18 159.54L41.24 160.53L41.3 161.01L41.36 160.13L41.42 159.82L41.48 160.59L41.54 160.38L41.6 160.72L41.66 159.63L41.72 159.49L41.78 161.01L41.84 160.71L41.9 160.57L41.96 160.14L42.02 159.93L42.08 159.83L42.14 159.96L42.2 160.19L42.26 159.78L42.32 160.18L42.38 159.74L42.44 160.35L42.5 159.91L42.56 160.05L42.62 160.64L42.68 160.99L42.74 159.68L42.8 160.96L42.86 159.8L42.92 159.91L42.98 160.76L43.04 159.89L43.1 160.21L43.16 159.73L43.22 159.45L43.28 161L43.34 160.53L43.4 159.59L43.46 160.05L43.52 160.87L43.58 159.96L43.64 160.75L43.7 160.17L43.76 161.18L43.82 160.2L43.88 159.74L43.94 160.48L44 160.79L44.06 159.82L44.12 159.95L44.18 159.74L44.24 159.56L44.3 160.4L44.36 159.64L44.42 160.6L44.48 160.63L44.54 159.98L44.6 160.37L44.66 160.31L44.72 159.31L44.78 160.33L44.84 159.59L44.9 160.06L44.96 159.86L45.02 159.64L45.08 160.83L45.14 160.39L45.2 159.71L45.26 160.17L45.32 160.56L45.38 160.03L45.44 159.46L45.5 159.89L45.56 159.46L45.62 160.43L45.68 159.38L45.69 170.82L45.74 159.44L45.8 159.75L45.86 159.84L45.92 159.77L45.98 160.14L46 179.36L46.04 160.52L46.1 159.54L46.16 160.57L46.22 159.86L46.28 160.04L46.34 179.64L46.34 159.32L46.4 182.25L46.4 159.38L46.46 160.11L46.52 160.05L46.58 160.4L46.64 160.17L46.66 179.74L46.7 159.41L46.76 160.42L46.82 159.88L46.88 159.36L46.94 160.28L47 159.89L47.06 159.22L47.09 179.48L47.1 187.45L47.12 160.2L47.18 160L47.24 159.62L47.3 159.54L47.36 159.69L47.42 159.45L47.48 160.48L47.49 178.97L47.54 160.53L47.6 160.02L47.66 159.36L47.72 160.39L47.78 159.84L47.84 160.41L47.85 178.81L47.9 159.45L47.96 159.27L48.02 159.27L48.08 159.14L48.14 159.84L48.2 159.47L48.2 179.52L48.26 159.32L48.32 160.58L48.38 160.72L48.42 177.15L48.44 159.74L48.5 159.88L48.56 160.41L48.62 159.84L48.68 159.67L48.74 160.12L48.8 178.03L48.8 160.81L48.86 159.02L48.92 159.96L48.98 160.49L49.04 177.94L49.04 159.37L49.1 159.77L49.16 160.22L49.22 159.54L49.28 160.57L49.34 159.72L49.4 159.29L49.46 160.02L49.51 177.23L49.52 160.64L49.58 160.23L49.64 160.24L49.7 160.36L49.76 159.49L49.82 159.72L49.84 178.07L49.88 160.16L49.94 159.87L50 160.97L50.06 160.61L50.12 160.83L50.14 178.18L50.18 160.37L50.24 160.64L50.3 160.23L50.36 160.47L50.42 161.11L50.48 160.75L50.52 180.07L50.54 160.26L50.6 160.28L50.66 160.53L50.72 160.3L50.78 159.25L50.78 181.1L50.84 160.41L50.9 160.33L50.96 160.46L51.02 159.82L51.02 180.7L51.08 161.01L51.14 160.6L51.2 159.71L51.26 160.24L51.27 180.72L51.32 160.48L51.38 160.71L51.44 161.04L51.5 160.31L51.56 159.53L51.62 159.77L51.68 161.15L51.69 180.57L51.74 159.85L51.8 159.89L51.86 160.61L51.9 184.05L51.92 160.7L51.98 159.46L52.04 180.26L52.04 160.7L52.1 159.71L52.16 160.56L52.22 160.19L52.27 180.94L52.28 159.9L52.34 159.69L52.4 159.61L52.46 160.85L52.5 182.75L52.52 159.65L52.58 159.59L52.59 180.35L52.64 161.04L52.7 160.57L52.76 159.75L52.82 160.33L52.86 179.79L52.88 160.84L52.94 159.54L53 159.49L53.06 160.77L53.12 159.81L53.18 173.7L53.18 160.28L53.24 159.97L53.3 160.8L53.36 159.65L53.42 159.47L53.43 174.38L53.48 160.89L53.54 159.52L53.6 160.41L53.66 160.82L53.72 159.9L53.78 160.03L53.84 160L53.86 173.34L53.9 160.79L53.96 159.69L54.02 160.27L54.08 159.89L54.14 160.4L54.2 159.57L54.24 172.99L54.26 159.82L54.32 159.52L54.38 159.41L54.41 172.58L54.44 159.87L54.5 159.6L54.56 160.6L54.62 160.6L54.68 159.72L54.74 159.93L54.8 159.69L54.86 160.34L54.92 172.41L54.92 160.52L54.98 160.23L55.04 159.41L55.1 159.97L55.16 160.21L55.17 172.16L55.22 160.06L55.28 159.76L55.34 160.56L55.4 159.64L55.43 171.18L55.46 160.23L55.52 159.64L55.58 159.41L55.64 159.74L55.7 160.66L55.76 160.07L55.82 160.67L55.88 160.04L55.9 170.4L55.94 160.26L56 160.25L56.06 160.68L56.12 160.82L56.18 170.13L56.18 159.57L56.24 159.38L56.3 159.61L56.36 159.73L56.38 169.57L56.42 160.1L56.48 160.84L56.54 160.56L56.6 159.69L56.66 159.14L56.72 159.88L56.78 160.13L56.79 168.33L56.84 159.52L56.9 160.33L56.96 160.12L57.02 159.14L57.05 167.31L57.08 160.73L57.14 159.96L57.2 160.43L57.26 160.46L57.32 159.26L57.38 159.66L57.41 166.17L57.44 159.85L57.5 160.55L57.56 159.75L57.62 160.11L57.68 160.79L57.74 160.18L57.75 165.14L57.8 160.25L57.86 159.55L57.92 160.15L57.98 160.34L58.04 160.48L58.1 160.17L58.16 160.73L58.18 165.02L58.22 159.77L58.28 160.58L58.34 159.74L58.4 159.32L58.46 159.65L58.52 160.19L58.56 164.7L58.58 160L58.64 160.1L58.7 160.29L58.76 160.2L58.8 165.25L58.82 159.22L58.87 164.39L58.88 160.09L58.94 160.31L59 160.33L59.06 160.17L59.08 162.69L59.12 160.29L59.18 160.33L59.24 160.14L59.3 159.91L59.36 159.63L59.42 159.79L59.48 160.15L59.52 162.39L59.54 159.7L59.6 160.66L59.66 160.06L59.72 159.75L59.78 159.75L59.84 159.45L59.85 161.73L59.9 160.81L59.96 160.09L60.02 159.54L60.08 160.36L60.14 160.35L60.17 162.38L60.2 160.17L60.26 159.72L60.32 160.63L60.38 159.53L60.41 161.15L60.44 159.94L60.5 160.2L60.56 160.32L60.62 159.59L60.68 160.91L60.74 160.85L60.77 161.7L60.8 160.39L60.86 160.76L60.92 160.54L60.98 160.75L61.04 159.69L61.09 161.36L61.1 160.04L61.16 160.29L61.22 160.53L61.28 160.84L61.34 160.35L61.39 160.66L61.4 160.76L61.46 159.74L61.52 160.08L61.58 161.05L61.64 159.64L61.7 160.5L61.76 161.15L61.82 159.95L61.88 159.81L61.94 160.37L62 160.32L62.06 160.08L62.12 159.48L62.18 160.22L62.24 159.51L62.3 160.17L62.36 160.65L62.42 160.25L62.48 159.8L62.54 160.69L62.6 160.65L62.66 160.8L62.72 160.86L62.78 160.37L62.84 160.41L62.9 160.15L62.96 160.2L63.02 159.74L63.08 160.88L63.14 159.89L63.2 159.83L63.26 160.8L63.32 160.64L63.38 160.75L63.44 160.21L63.5 164.25L63.5 160.08L63.56 160.62L63.62 160.09L63.68 160.7L63.74 160.1L63.8 160.01L63.86 160.69L63.9 163.75L63.92 160.86L63.98 160.07L64.04 160.81L64.1 159.84L64.16 160L64.22 160.53L64.28 159.96L64.34 160.49L64.4 160.13L64.46 160.49L64.52 159.67L64.58 160.21L64.64 160.1L64.7 160.02L64.76 160.68L64.82 159.8L64.88 161.31L64.94 160.18L65 159.8L65.06 159.82L65.12 159.59L65.18 159.91L65.24 159.69L65.3 159.86L65.36 160.14L65.42 160.43L65.48 160.78L65.54 159.85L65.6 160.44L65.66 159.85L65.72 160.88L65.78 160.9L65.84 160.06L65.9 160.25L65.96 160.35L66.02 160.42L66.08 160.82L66.14 160.39L66.2 160.61L66.26 160.43L66.32 160.01L66.38 160.22L66.44 160.29L66.5 160.38L66.56 160.99L66.62 161.14L66.68 160.2L66.74 160.53L66.8 160.41L66.86 160.69L66.92 160.3L66.98 160.14L67.04 160.95L67.1 160.2L67.16 161.01L67.22 161.02L67.28 159.9L67.34 160.77L67.4 160.98L67.46 160.44L67.52 161.01L67.58 160.57L67.64 161.07L67.7 159.95L67.76 160.48L67.82 160.62L67.88 160.43L67.94 159.86L68 160.93L68.06 161.11L68.12 160.3L68.18 160.59L68.24 160.51L68.3 160.35L68.36 159.72L68.42 159.91L68.48 159.85L68.54 160.8L68.6 160.46L68.66 159.99L68.72 161.22L68.78 160.04L68.84 160.05L68.9 160.5L68.96 159.99L69 163.75L69.02 160.32L69.08 160.75L69.14 159.96L69.2 160.02L69.26 161.17L69.32 159.73L69.38 161.37L69.44 160.25L69.5 160.39L69.56 160.16L69.62 159.47L69.68 160.76L69.74 160.67L69.8 163.45L69.8 159.92L69.86 160.59L69.92 161L69.98 160.53L70.04 161.02L70.1 160.63L70.16 159.89L70.22 159.91L70.28 159.94L70.34 161.16L70.4 160.09L70.46 160.55L70.52 160.31L70.58 160.53L70.64 160.99L70.7 159.84L70.76 160.17L70.82 160.21L70.88 160.61L70.94 160.83L71 160.49L71.06 159.71L71.12 159.88L71.18 160.99L71.24 160.07L71.3 160.11L71.36 160.57L71.42 160.52L71.48 159.56L71.54 160.26L71.6 159.99L71.66 160.74L71.72 160.44L71.78 160.51L71.84 160.5L71.9 160.7L71.96 160.28L72.02 160.97L72.08 160.42L72.14 160.5L72.2 160.08L72.26 160.75L72.32 160.54L72.38 160.59L72.44 159.66L72.5 160.8L72.56 160.66L72.62 159.69L72.68 160.36L72.74 159.91L72.8 160.72L72.86 160.74L72.92 159.99L72.98 160.79L73.04 160.86L73.1 160.53L73.16 160.07L73.22 160.69L73.28 160.89L73.34 160.18L73.4 160.19L73.46 160.06L73.52 160.16L73.58 160.6L73.64 159.6L73.7 160.39L73.76 159.41L73.82 160.04L73.88 160.14L73.94 160.18L74 160.86L74.06 160.22L74.12 160.72L74.18 159.55L74.24 160.17L74.3 160.05L74.36 159.8L74.42 159.65L74.48 160.5L74.54 159.51L74.6 159.74L74.66 160.74L74.72 160.3L74.78 160.24L74.84 160.21L74.9 159.87L74.96 160.65L75.02 159.88L75.08 159.89L75.14 160.33L75.2 160.93L75.26 160.54L75.32 160.33L75.38 159.7L75.44 160.37L75.5 160.6L75.56 160.91L75.62 159.86L75.68 160.29L75.74 160.14L75.8 159.75L75.86 160.05L75.92 160.73L75.98 160.7L76.04 160.14L76.1 159.86L76.16 160.61L76.22 160.57L76.28 160.69L76.34 161.01L76.4 159.88L76.46 160.39L76.52 160.23L76.58 159.72L76.64 161.18L76.7 160.71L76.76 161.08L76.82 161.12L76.88 160.45L76.94 160.66L77 160.08L77.06 160.78L77.12 160.54L77.18 160.06L77.24 161.03L77.3 160.34L77.36 161.1L77.42 159.82L77.48 159.84L77.54 161.11L77.6 159.67L77.66 160.3L77.72 160.23L77.78 159.95L77.84 160.48L77.9 160.57L77.96 160.75L78.02 160.33L78.08 161.08L78.14 160.2L78.2 160.24L78.26 160.23L78.32 160.15L78.38 160.92L78.44 160.15L78.5 160.73L78.56 159.75L78.62 160.8L78.68 160.87L78.74 160.33L78.8 161.25L78.86 160.13L78.92 159.77L78.98 160.41L79.04 160.94L79.1 160.78L79.16 161.05L79.22 160.33L79.28 159.86L79.34 161.03L79.4 161.39L79.46 160.68L79.52 160.26L79.58 161.22L79.64 160.85L79.7 160.5L79.76 160.5L79.82 161.07L79.88 160.43L79.94 161.15L80 160.96L80.06 160.48L80.12 159.84L80.18 160.86L80.24 160.97L80.3 160.75L80.36 161.15L80.42 160.91L80.48 160.72L80.54 160.75L80.6 160.51L80.66 161.18L80.72 160.08L80.78 160.27L80.84 160.31L80.9 160.77L80.96 160L81.02 160.74L81.08 160.6L81.14 160.02L81.2 160.46L81.26 160.72L81.32 160.33L81.38 160.09L81.44 160.58L81.5 160.4L81.56 160.39L81.62 160.88L81.68 160.98L81.74 159.76L81.8 159.67L81.86 160.8L81.92 159.79L81.98 160.64L82.04 160.4L82.1 160.57L82.16 160.48L82.22 160.61L82.28 160.63L82.34 159.77L82.4 160.19L82.46 160.76L82.52 160.43L82.58 160.21L82.64 159.66L82.7 160.87L82.76 160.26L82.82 159.86L82.88 159.74L82.94 160.74L83 160.19L83.06 159.75L83.12 160.38L83.18 159.79L83.24 160.34L83.3 160.5L83.36 160.88L83.42 159.83L83.48 160.13L83.54 161.1L83.6 160.58L83.66 160.49L83.72 160.45L83.78 159.35L83.84 159.5L83.9 159.84L83.96 159.78L84.02 159.5L84.08 160.78L84.14 160.08L84.2 159.7L84.26 159.57L84.32 159.95L84.38 160.76L84.44 160.37L84.5 160.79L84.56 159.59L84.62 159.79L84.68 160.18L84.74 160.61L84.8 159.35L84.86 159.66L84.92 159.57L84.98 159.87L85.04 159.47L85.1 160.69L85.16 161.06L85.22 159.71L85.28 159.78L85.34 160.37L85.4 159.85L85.46 161.07L85.52 160.93L85.58 159.47L85.64 159.56L85.7 160.75L85.76 160.06L85.82 160.27L85.88 159.92L85.94 160.42L86 159.97L86.06 160.97L86.12 159.78L86.18 160.05L86.24 160.16L86.3 160.67L86.36 160.66L86.42 160.08L86.48 160.66L86.54 159.94L86.6 161.11L86.66 160.68L86.72 160.78L86.78 161.51L86.84 160.29L86.9 159.85L86.96 160.65L87.02 160.9L87.08 160.03L87.14 160.91L87.2 159.76L87.26 160.42L87.32 160.2L87.38 160.82L87.44 160.33L87.5 160.58L87.56 160.36L87.62 159.89L87.68 160.38L87.74 160.51L87.8 160.68L87.86 160.99L87.92 160.7L87.98 159.79L88.04 160.27L88.1 160.3L88.16 159.69L88.22 160.84L88.28 160.67L88.34 160.69L88.4 160.41L88.46 160.7L88.52 160.26L88.58 161.06L88.64 160.37L88.7 159.91L88.76 159.98L88.82 160.12L88.88 160.53L88.94 160.89L89 160.58L89.06 160.46L89.12 159.89L89.18 160.01L89.24 160.87L89.3 160.22L89.36 159.92L89.42 160L89.48 160.47L89.54 160.5L89.6 159.67L89.66 159.81L89.72 160.59L89.78 159.43L89.84 159.49L89.9 159.58L89.96 159.6L90.02 160.76L90.08 160.19L90.14 159.53L90.2 159.7L90.26 159.68L90.32 160.26L90.38 160.64L90.44 159.73L90.5 160.44L90.56 160.51L90.62 159.62L90.68 160.39L90.74 159.71L90.8 160.57L90.86 160.77L90.92 160.5L90.98 159.69L91.04 160.49L91.1 159.37L91.16 160.16L91.22 160.88L91.28 160.59L91.34 159.55L91.4 160.64L91.46 160.54L91.52 160.18L91.58 160.71L91.64 160.49L91.7 159.77L91.76 159.54L91.82 159.94L91.88 160.02L91.94 160.61L92 160.29L92.06 159.91L92.12 159.99L92.18 159.5L92.24 160.15L92.3 159.33L92.36 160.12L92.4 164.65L92.42 160.03L92.48 159.6L92.54 159.22L92.6 160.53L92.66 159.69L92.72 159.28L92.78 159.92L92.84 159.34L92.9 159.42L92.96 160.31L93.02 160.15L93.08 160.21L93.14 159.68L93.2 164.25L93.2 160.76L93.26 159.9L93.32 160.53L93.38 160.7L93.44 159.68L93.5 160.26L93.56 159.91L93.62 159.3L93.68 160.45L93.74 160.05L93.8 159.51L93.86 160.09L93.92 159.53L93.98 160.24L94 163.85L94.04 160.11L94.1 159.3L94.16 159.93L94.22 159.71L94.28 159.44L94.34 159.97L94.4 159.75L94.46 159.83L94.52 160.09L94.58 160.63L94.64 159.54L94.7 160.02L94.76 159.86L94.82 160.4L94.88 159.83L94.94 159.67L95 159.43L95.06 159.91L95.12 159.24L95.18 160.29L95.24 159.62L95.3 160.29L95.36 159.61L95.42 160.66L95.48 160.59L95.5 162.11L95.54 159.16L95.6 159.86L95.66 160.79L95.72 160.69L95.78 160.75L95.8 162.94L95.84 159.43L95.9 159.92L95.96 159.45L96.02 159.79L96.08 159.41L96.1 162.83L96.14 160.32L96.2 159.43L96.26 160.26L96.32 159.74L96.38 160.24L96.4 162.54L96.44 160.14L96.5 159.31L96.56 160.65L96.62 160.47L96.68 160.37L96.7 161.75L96.74 160.39L96.8 159.42L96.86 159.48L96.9 175.05L96.92 159.19L96.98 160.29L97 162.17L97.04 159.65L97.1 160.04L97.16 159.73L97.22 159.93L97.28 159.36L97.3 161.64L97.34 159.76L97.4 160.8L97.46 159.81L97.52 160.02L97.58 159.58L97.6 163.49L97.6 174.75L97.64 160.12L97.7 160.2L97.76 160.26L97.82 160.34L97.88 159.95L97.9 161.83L97.94 159.95L98 159.69L98.06 160.6L98.12 159.54L98.18 160.58L98.2 163.5L98.24 159.83L98.3 176.55L98.3 160.11L98.36 159.33L98.42 159.43L98.48 159.6L98.5 162.25L98.54 160.51L98.6 159.81L98.66 159.51L98.72 159.78L98.78 159.78L98.8 162.02L98.84 159.85L98.9 160.51L98.96 160.19L99 176.05L99.02 159.51L99.08 159.66L99.1 161.92L99.14 159.65L99.2 160.01L99.26 160.54L99.32 160.41L99.38 160.38L99.4 161.61L99.44 159.62L99.5 160.11L99.56 159.47L99.62 160.02L99.68 159.6L99.7 162.86L99.7 174.25L99.74 159.46L99.8 160.68L99.86 159.97L99.92 160.14L99.98 159.41L100 163.41L100.04 159.39L100.1 160.61L100.16 160.11L100.22 159.94L100.28 160.19L100.3 162.77L100.34 160.21L100.4 160.07L100.46 160.82L100.52 160.18L100.58 160.68L100.6 162.52L100.64 160.52L100.7 159.63L100.76 160.73L100.82 160.02L100.88 159.57L100.9 163.46L100.94 160.6L101 160.44L101.06 160.39L101.12 159.36L101.18 160.15L101.2 161.73L101.24 160.47L101.3 159.24L101.36 159.83L101.42 159.59L101.48 160.53L101.5 161.79L101.54 160.05L101.6 159.63L101.66 160.12L101.7 176.55L101.72 160.39L101.78 160.56L101.8 162.79L101.84 160.1L101.9 160.41L101.96 160.18L102.02 160.58L102.08 160.81L102.1 162.63L102.14 159.87L102.2 159.26L102.26 160.45L102.32 159.99L102.38 160.15L102.4 162.42L102.44 159.71L102.5 176.25L102.5 159.88L102.56 160.14L102.62 160.79L102.68 160.85L102.7 162.51L102.74 160.05L102.8 160.65L102.86 160.44L102.92 160.51L102.98 159.92L103 161.7L103.04 160.64L103.1 159.8L103.16 159.65L103.2 174.25L103.22 159.85L103.28 160.35L103.3 162.46L103.34 160.78L103.4 159.52L103.46 160.06L103.52 159.68L103.58 160.28L103.6 163.44L103.64 160.5L103.7 160.79L103.76 160.39L103.82 160.95L103.88 159.67L103.9 163.1L103.94 159.24L104 159.93L104.06 159.44L104.12 160.93L104.18 160.22L104.2 162.89L104.2 168.75L104.24 160.08L104.3 160.07L104.36 160.91L104.42 159.69L104.48 159.3L104.5 162.82L104.54 160.41L104.6 160.34L104.66 159.82L104.72 160.32L104.78 160.01L104.8 162.29L104.84 159.44L104.9 159.67L104.96 160.69L105.02 160.44L105.08 159.76L105.1 162.81L105.14 159.58L105.2 160.44L105.26 160.74L105.32 159.95L105.38 160.64L105.4 163.22L105.44 160.6L105.5 171.25L105.5 160.38L105.56 160.87L105.62 159.85L105.68 159.79L105.7 162.28L105.74 160.34L105.8 160.08L105.86 160.68L105.92 160.54L105.98 160.5L106 163.28L106.04 160.65L106.1 160.31L106.16 160.5L106.22 161.08L106.28 160.17L106.3 162.4L106.34 160.01L106.4 160.34L106.46 160.18L106.5 171.95L106.52 160.43L106.58 160.97L106.6 162.92L106.64 159.38L106.7 159.46L106.76 160.35L106.82 160.13L106.88 160.33L106.9 161.75L106.94 159.58L107 159.83L107.06 159.68L107.12 160.17L107.18 159.93L107.2 161.7L107.24 159.84L107.3 159.71L107.36 160.74L107.42 159.78L107.48 160.09L107.5 162.8L107.54 159.51L107.6 160.59L107.66 160.19L107.72 160.45L107.78 160.05L107.8 163.17L107.84 160.8L107.9 177.05L107.9 159.79L107.96 160.67L108.02 160.45L108.08 161.14L108.1 161.97L108.14 159.88L108.2 160.06L108.26 160.03L108.32 159.82L108.38 159.74L108.4 161.64L108.44 160.32L108.5 160.89L108.56 161.09L108.62 159.97L108.68 160.94L108.7 162.09L108.74 160.19L108.8 160.78L108.86 160.15L108.92 160.76L108.98 161.03L109 161.76L109 166.75L109.04 160.23L109.1 161.01L109.16 161.08L109.22 160.45L109.28 161.14L109.3 162.49L109.34 160.42L109.4 161.66L109.46 160.72L109.52 160.42L109.58 160.68L109.6 161.7L109.64 161.42L109.7 161.68L109.76 160.85L109.82 161.03L109.88 160.75L109.9 161.67L109.94 160.27L110 161.11L110.06 160.62L110.12 160.65L110.18 161.37L110.2 162.79L110.24 160.81L110.3 161.8L110.36 160.94L110.42 161.68L110.48 161.32L110.5 163.37L110.54 161.42L110.6 173.95L110.6 161.09L110.66 162.12L110.72 161.27L110.78 161.36L110.8 163.21L110.84 162.01L110.9 162.06L110.96 161L111.02 161.74L111.08 161.45L111.1 162.87L111.14 161.3L111.2 162.13L111.26 162.33L111.32 162.58L111.38 162.64L111.4 162.03L111.44 161.55L111.5 162.75L111.56 162.75L111.62 162.01L111.68 162.91L111.7 162.05L111.74 162.5L111.8 161.88L111.86 161.78L111.92 161.98L111.98 162.21L112 162.6L112 169.85L112.04 162.83L112.1 163.02L112.16 162.22L112.22 162.67L112.28 163.42L112.3 162.69L112.34 163.07L112.4 162.48L112.46 163.11L112.52 162.73L112.58 163.39L112.6 162.79L112.64 163.7L112.7 163.82L112.76 164.13L112.82 163.9L112.88 162.69L112.9 161.72L112.9 173.95L112.94 163.02L113 163.42L113.06 163.98L113.12 163.26L113.18 163.35L113.2 162.89L113.24 164.08L113.3 163.97L113.36 163.61L113.42 163.08L113.48 163.55L113.5 162.1L113.54 163.72L113.6 163.71L113.66 164.27L113.72 165.07L113.78 164.68L113.8 162.24L113.8 173.25L113.84 163.97L113.9 164.56L113.96 164.1L114.02 163.95L114.08 164.23L114.1 163.22L114.14 165.05L114.2 164.96L114.26 164.05L114.32 165.44L114.38 164.69L114.4 162.08L114.44 164.81L114.5 165.29L114.56 165.54L114.62 164.54L114.68 165.15L114.74 165.51L114.8 165.97L114.86 165.78L114.92 166.15L114.98 166.33L115.04 166.13L115.1 166.43L115.16 165.75L115.2 176.75L115.22 166.69L115.28 166.65L115.34 166.76L115.4 165.58L115.46 166.78L115.52 166.05L115.58 165.97L115.64 166.82L115.7 166.06L115.76 167.36L115.82 166.63L115.88 166.98L115.94 166.8L116 179.75L116 166.49L116.06 167.88L116.12 167.99L116.18 167.4L116.24 167.99L116.3 167.39L116.36 168.34L116.42 168.13L116.48 167.75L116.54 167.57L116.6 168.04L116.66 167.79L116.72 168.79L116.78 168.74L116.8 181.25L116.84 168.86L116.9 169.4L116.96 169.09L117.02 168.89L117.08 169.78L117.14 170.11L117.2 170.02L117.26 169.86L117.32 169.87L117.38 169.4L117.44 170.86L117.5 183.25L117.5 171.12L117.56 170.77L117.62 170.55L117.68 170.59L117.74 171.03L117.8 170.52L117.86 171.88L117.92 171.93L117.98 171.83L118.04 171.19L118.1 171.89L118.16 172.72L118.22 173.19L118.28 172.94L118.34 172.37L118.4 172.68L118.46 172.81L118.52 173.93L118.58 174.72L118.64 174.48L118.7 174.71L118.76 174.02L118.82 174.93L118.88 174.5L118.94 175.46L119 175.9L119.06 175.87L119.12 175.64L119.18 175.57L119.24 175.99L119.3 176.2L119.36 177.07L119.42 176.46L119.48 177.12L119.54 176.88L119.6 177.58L119.66 178.26L119.72 178.46L119.78 178.76L119.84 179.42L119.9 180.59L119.96 180.19L120.02 179.97L120.08 180.81L120.14 181.58L120.2 181.4L120.26 182.75L120.32 183.2L120.38 183.02L120.44 183.57L120.5 183.96L120.56 184.81L120.62 185.31L120.68 186.16L120.74 186.55L120.8 187.43L120.86 188.94L120.9 188.82L120.92 187.71L120.98 187.48L121.04 187.35L121.1 186.08L121.16 185.93L121.22 184.78L121.28 185.11L121.34 183.05L121.4 183.03L121.46 182.72L121.52 182.74L121.58 182.59L121.64 181.41L121.7 181.88L121.76 179.76L121.82 179.6L121.88 180.44L121.94 179.1L122 178.4L122.06 179.21L122.12 178.42L122.18 178.74L122.24 177.74L122.3 176.99L122.36 177.58L122.42 177.39L122.48 176.98L122.54 176.9L122.6 176.16L122.66 175.93L122.72 175.3L122.78 175.92L122.84 175.64L122.9 174.25L122.96 174.27L123.02 174.42L123.08 174.25L123.14 174.71L123.2 173.63L123.26 173.44L123.32 173.42L123.38 172.53L123.44 173.3L123.5 172.6L123.56 172.97L123.62 171.87L123.68 172.06L123.74 171.26L123.8 171.77L123.86 170.98L123.92 171.39L123.98 171.96L124.04 171.02L124.1 170.89L124.16 170.36L124.22 171.25L124.28 170.37L124.34 169.74L124.4 170.89L124.46 170.13L124.52 169.77L124.58 169L124.64 169.57L124.7 168.67L124.76 168.6L124.82 169.01L124.88 168.43L124.94 168.94L125 169.16L125.06 168.18L125.12 167.91L125.18 167.47L125.24 168.57L125.3 168.52L125.36 167.84L125.42 168.23L125.48 168L125.54 167.19L125.6 167.56L125.66 167.17L125.72 166.54L125.78 167.07L125.84 167.15L125.9 167.49L125.96 166.69L126.02 167.68L126.08 167.37L126.14 165.46L126.2 166.72L126.26 165.97L126.32 166.2L126.38 166.86L126.44 165.69L126.5 165.85L126.56 166.71L126.62 165.27L126.68 166.33L126.74 165.64L126.8 165.72L126.86 165.4L126.92 164.86L126.98 165.96L127.04 164.88L127.1 164.76L127.16 165.59L127.22 166.3L127.28 165.68L127.3 166.25L127.34 165.99L127.4 165.31L127.46 164.22L127.52 165.56L127.58 164.97L127.64 165.52L127.7 165.12L127.76 164.18L127.82 163.71L127.88 163.45L127.94 164.92L128 163.53L128.06 163.58L128.12 164.39L128.18 164.39L128.2 165.75L128.24 164.02L128.3 163.26L128.36 163.08L128.42 163.63L128.48 163.84L128.54 163.78L128.6 163.76L128.66 163.71L128.72 163.02L128.78 163.2L128.84 163.54L128.9 163.06L128.96 162.94L129.02 163.78L129.08 163.37L129.14 162.7L129.2 162.54L129.26 163.78L129.3 165.25L129.32 163.59L129.38 162.18L129.44 162.1L129.5 162.99L129.56 162.47L129.62 162.44L129.68 162.46L129.74 162.18L129.8 162.52L129.86 162.44L129.92 162.52L129.98 161.74L130.04 162.61L130.1 161.88L130.16 162.61L130.22 162.65L130.28 162.04L130.34 162.4L130.4 163.75L130.4 162.33L130.46 161.37L130.52 161.48L130.58 162.26L130.64 161.9L130.7 161.67L130.76 161.61L130.82 161.76L130.88 161.98L130.94 161.18L131 161.77L131.06 161.18L131.12 160.9L131.18 162.07L131.24 161.29L131.3 163.25L131.3 161.15L131.36 161.88L131.42 160.57L131.48 161.65L131.54 161.07L131.6 161.47L131.66 161.35L131.72 161.82L131.78 160.71L131.84 160.75L131.9 160.65L131.96 160.44L132.02 160.56L132.08 161.01L132.14 161.67L132.2 160.31L132.26 160.86L132.32 160.69L132.38 160.86L132.44 160.69L132.5 160.61L132.56 160.91L132.62 161.03L132.68 161.14L132.74 161.08L132.8 161.67L132.86 161.07L132.92 160.31L132.98 160.26L133.04 161.02L133.1 160.61L133.16 160.96L133.22 160.54L133.28 160.03L133.34 160.06L133.4 160.89L133.46 160.32L133.52 160.87L133.58 161.13L133.64 160.97L133.7 161.34L133.76 160.98L133.82 160.07L133.88 160.68L133.94 161.1L134 159.9L134.06 160.11L134.12 160.27L134.18 160.6L134.24 160.19L134.3 161.08L134.36 160.81L134.42 160.39L134.48 160.27L134.54 160.67L134.6 160.14L134.66 160.73L134.72 161.14L134.78 161.02L134.84 160.1L134.9 160.23L134.96 160.25L135.02 159.96L135.08 160.59L135.14 159.89L135.2 159.62L135.26 160.9L135.32 160.76L135.38 159.76L135.44 160.26L135.5 160.59L135.56 159.48L135.62 159.59L135.68 160.53L135.74 160.01L135.8 160.04L135.86 160.44L135.92 160.5L135.98 160.38L136.04 159.66L136.1 160.64L136.16 160.3L136.22 161.07L136.28 160.1L136.34 160.88L136.4 160.33L136.46 159.67L136.52 160.12L136.58 160.36L136.64 160.07L136.7 160.8L136.76 160.3L136.82 159.15L136.88 160.55L136.94 159.74L137 159.69L137.06 159.69L137.12 159.46L137.18 160.82L137.24 160.22L137.3 160.41L137.36 160.54L137.42 160.41L137.48 160.26L137.54 159.42L137.6 160.36L137.66 159.66L137.72 159.85L137.78 159.43L137.84 160.31L137.9 159.95L137.96 160.5L138.02 159.49L138.08 160.4L138.14 159.82L138.2 159.57L138.26 160.04L138.32 160.3L138.38 159.49L138.44 160.72L138.5 159.62L138.56 160.26L138.62 159.86L138.68 160.37L138.74 159.49L138.8 160.2L138.86 160.56L138.92 159.46L138.98 160.35L139.04 160.96L139.1 159.46L139.16 160.54L139.22 160.69L139.28 160.56L139.34 160.15L139.4 159.77L139.46 160.6L139.52 159.27L139.58 160.3L139.64 159.98L139.7 159.84L139.76 159.44L139.82 160.29L139.88 160.18L139.94 160.24L140 160.61L140.06 159.49L140.12 160.53L140.18 159.78L140.24 159.73L140.3 160.61L140.36 160.4L140.42 160.14L140.48 159.4L140.54 159.56L140.6 160.09L140.66 160.4L140.72 160.76L140.78 160.51L140.84 160.27L140.9 160.1L140.96 160.28L141.02 160.37L141.08 160.07L141.14 159.78L141.2 159.77L141.26 160.73L141.32 160.11L141.38 160.27L141.44 159.42L141.5 160.28L141.56 160.95L141.62 159.76L141.68 159.97L141.74 160.77L141.8 159.92L141.86 160.59L141.92 159.44L141.98 159.29L142.04 160.19L142.1 159.9L142.16 160.33L142.22 160.46L142.28 159.61L142.34 159.68L142.4 160.44L142.46 159.97L142.52 160.19L142.58 159.84L142.64 160.4L142.7 159.72L142.76 160.18L142.82 160.31L142.88 160.39L142.94 161.12L143 160.07L143.06 160.78L143.12 160.97L143.18 160.25L143.24 159.71L143.3 160.53L143.36 160.7L143.42 160.19L143.48 160.11L143.54 160.66L143.6 160.43L143.66 160.26L143.72 160.03L143.78 160L143.84 159.58L143.9 159.2L143.96 159.89L144.02 160.09L144.08 160.65L144.14 160.28L144.2 160.69L144.26 159.86L144.32 160.39L144.38 159.74L144.44 160.36L144.5 160.49L144.56 160.83L144.62 160.22L144.68 160.12L144.74 160.35L144.8 160.62L144.86 160.54L144.92 160.73L144.98 160.92L145.04 159.8L145.1 160.12L145.16 159.57L145.22 159.55L145.28 160L145.34 160.05L145.4 159.66L145.46 160.68L145.52 160.24L145.58 160.99L145.64 160.21L145.7 159.66L145.76 160.2L145.82 159.67L145.88 159.66L145.94 160.51L146 160.49L146.06 160.14L146.12 159.41L146.18 160.25L146.24 159.44L146.3 159.96L146.36 160.57L146.42 160.47L146.48 159.69L146.54 159.57L146.6 159.79L146.66 159.51L146.72 159.74L146.78 159.69L146.84 160.32L146.9 160.13L146.96 160.4L147.02 160.61L147.08 160.68L147.14 160.51L147.2 159.7L147.26 159.89L147.32 159.57L147.38 160.58L147.44 159.83L147.5 160.31L147.56 160.06L147.62 161.22L147.68 160.19L147.74 160.3L147.8 160.8L147.86 159.92L147.92 160.4L147.98 160.52L148.04 160.66L148.1 159.75L148.16 160.52L148.22 159.55L148.28 161.04L148.34 159.5L148.4 159.25L148.46 160.29L148.52 159.57L148.58 160.49L148.64 160.79L148.7 159.93L148.76 159.96L148.82 159.81L148.88 160.23L148.94 159.38L149 160.19L149.06 160.11L149.12 159.93L149.18 159.71L149.24 160.31L149.3 160.84L149.36 159.83L149.42 160.57L149.48 160.46L149.54 160.13L149.6 160.72L149.66 160.81L149.72 159.84L149.78 160.68L149.84 161.02L149.9 160.35L149.96 160.34L150.02 160.92L150.08 159.99L150.14 160.89L150.2 160.54L150.26 160.6L150.32 159.4L150.38 160.75L150.44 160.69L150.5 160.51L150.56 159.67L150.62 160.23L150.68 159.85L150.74 160.87L150.8 159.88L150.86 159.99L150.92 159.6L150.98 160.87L151.04 160.61L151.1 159.81L151.16 159.59L151.22 160.45L151.28 159.54L151.34 159.83L151.4 160.13L151.46 160.25L151.52 160.91L151.58 159.99L151.64 159.86L151.7 160.1L151.76 159.98L151.82 160.36L151.88 160.71L151.94 159.74L152 160.99L152.06 160.42L152.12 160.95L152.18 159.86L152.24 160.43L152.3 160.09L152.36 160.34L152.42 160.16L152.48 160.78L152.54 160.21L152.6 160.24L152.66 160.14L152.72 160.47L152.78 160.63L152.84 159.81L152.9 160.11L152.96 159.6L153.02 160.81L153.08 159.94L153.14 161.23L153.2 160.1L153.26 160.76L153.32 160.2L153.38 160.18L153.44 160.29L153.5 160.15L153.56 160.22L153.62 160.89L153.68 160.56L153.74 160.06L153.8 159.73L153.86 160.46L153.92 160.05L153.98 160.56L154.04 160.75L154.1 159.88L154.16 159.56L154.22 160.15L154.28 159.64L154.34 160.88L154.4 159.7L154.46 160.79L154.52 161.19L154.58 160.86L154.64 160.56L154.7 160.04L154.76 160.64L154.82 159.67L154.88 160.21L154.94 159.51L155 160.01L155.06 160.67L155.12 160.64L155.18 159.73L155.24 160.2L155.3 160.36L155.36 160.53L155.42 160.64L155.48 160.1L155.54 159.18L155.6 160.74L155.66 160.95L155.72 159.53L155.78 159.53L155.84 160.89L155.9 160.68L155.96 160.13L156.02 159.4L156.08 160.94L156.14 159.53L156.2 160.08L156.26 160.34L156.32 160.63L156.38 159.97L156.44 160.6L156.5 160.45L156.56 159.76L156.62 160.66L156.68 159.58L156.74 160.36L156.8 160.12L156.86 161.15L156.92 160.3L156.98 160.29L157.04 159.65L157.1 160.24L157.16 160.16L157.22 160.67L157.28 159.75L157.34 159.8L157.4 160.27L157.46 160.1L157.52 160.34L157.58 160.46L157.64 160.26L157.7 160.18L157.76 160.54L157.82 159.67L157.88 159.93L157.94 160.82L158 159.64L158.06 160.16L158.12 160.14L158.18 159.92L158.24 161.14L158.3 160.98L158.36 159.55L158.42 161.18L158.48 160.42L158.54 159.74L158.6 160.76L158.66 159.67L158.72 160.63L158.78 159.97L158.84 161.02L158.9 160.34L158.96 159.59L159.02 159.92L159.08 160.17L159.14 160.23L159.2 159.87L159.26 160.19L159.32 161.15L159.38 160.14L159.44 159.87L159.5 159.98L159.56 160.83L159.62 160.58L159.68 161.07L159.74 160.63L159.8 160.49L159.86 160.02L159.92 160.03L159.98 161.01L160.04 160.08L160.1 160.05L160.16 160.88L160.22 160.27L160.28 160.79L160.34 160.98L160.4 160.83L160.46 160.14L160.52 161.08L160.58 160.84L160.64 160.6L160.7 160.59L160.76 160.95L160.82 160.58L160.88 159.71L160.94 160.28L161 159.79L161.06 160L161.12 160.97L161.18 160.63L161.24 160.59L161.3 159.9L161.36 160.06L161.42 160.07L161.48 160.13L161.54 160.81L161.6 160.98L161.66 160.27L161.72 160.26L161.78 160.06L161.84 159.97L161.9 161.14L161.96 161.03L162.02 160.8L162.08 160.23L162.14 160.72L162.2 160.06L162.26 160.34L162.32 160.67L162.38 160.67L162.44 160.39L162.5 160.14L162.56 160.06L162.62 160.97L162.68 161.11L162.74 159.87L162.8 160.16L162.86 160.07L162.92 160.48L162.98 161.41L163.04 160.71L163.1 159.7L163.16 160.45L163.22 160.12L163.28 161.21L163.34 160.72L163.4 160.88L163.46 161.23L163.52 161.01L163.58 160.78L163.64 160.68L163.7 160.56L163.76 160.7L163.82 160.57L163.88 160.71L163.94 160.32L164 160.01L164.06 159.99L164.12 160.04L164.18 159.92L164.24 160.22L164.3 160.48L164.36 160.9L164.42 160.63L164.48 160.32L164.54 160.82L164.6 161.17L164.66 160.89L164.72 160.19L164.78 160.34L164.84 159.83L164.9 161.39L164.96 160.46L165.02 159.66L165.08 161.08L165.14 159.88L165.2 161.16L165.26 160.13L165.32 160.25L165.38 160.79L165.44 160.68L165.5 161.35L165.56 159.86L165.62 161.09L165.68 159.86L165.74 159.98L165.8 159.97L165.86 160.87L165.92 159.92L165.98 159.71L166.04 160.66L166.1 160.64L166.16 160.19L166.22 161.09L166.28 160.77L166.34 159.87L166.4 159.97L166.46 159.78L166.52 160.08L166.58 160.73L166.64 159.88L166.7 161.03L166.76 160.4L166.82 160.33L166.88 160.21L166.94 160.15L167 160.69L167.06 159.58L167.12 161.01L167.18 159.94L167.24 161.62L167.3 159.62L167.36 159.94L167.42 160.64L167.48 160.46L167.54 160.44L167.6 159.77L167.66 160.91L167.72 161.22L167.78 161.12L167.84 160.71L167.9 160.89L167.96 160.15L168.02 160.5L168.08 161L168.14 160.95L168.2 160.29L168.26 160.56L168.32 161.02L168.38 160.42L168.44 161.19L168.5 160.76L168.56 160.96L168.62 160.43L168.68 160.05L168.74 160.37L168.8 160.23L168.86 161.13L168.92 160.9L168.98 160.4L169.04 160.9L169.1 160.71L169.16 160.33L169.22 161.03L169.28 159.8L169.34 160.44L169.4 160.49L169.46 160.03L169.52 159.82L169.58 160.43L169.64 161.27L169.7 160.78L169.76 160.41L169.82 160.07L169.88 160.11L169.94 160.79L170 160.04L170.06 160.81L170.12 160.28L170.18 160.14L170.24 160.59L170.3 160.48L170.36 160.32L170.42 160.01L170.48 160.27L170.54 160.61L170.6 160.08L170.66 160.52L170.72 161.11L170.78 160.35L170.84 160.73L170.9 160.06L170.96 160.99L171.02 160.61L171.08 160.88L171.14 160.05L171.2 160.29L171.26 160.25L171.32 161.06L171.38 160.58L171.44 160.31L171.5 160.6L171.56 160.64L171.62 160.03L171.68 160.09L171.74 160.62L171.8 159.86L171.86 159.96L171.92 159.78L171.98 160.29L172.04 159.57L172.1 160.08L172.16 160.7L172.22 161.23L172.28 159.89L172.34 160.49L172.4 159.61L172.46 159.78L172.52 159.91L172.58 160.2L172.64 160.34L172.7 160.06L172.76 160.53L172.82 160.62L172.88 159.67L172.94 161.23L173 160.07L173.06 161.11L173.12 160.91L173.18 159.98L173.24 161.12L173.3 160.07L173.36 160.94L173.42 159.96L173.48 160.07L173.54 160.96L173.6 160.09L173.66 160.12L173.72 159.82L173.78 161.08L173.84 159.83L173.9 159.92L173.96 160.66L174.02 160.37L174.08 160.53L174.14 160.13L174.2 160.85L174.26 159.82L174.32 160.14L174.38 160.39L174.44 160.04L174.5 160.62L174.56 160.44L174.62 160.44L174.68 160.34L174.74 160.63L174.8 160.02L174.86 160.62L174.92 159.89L174.98 160.7L175.04 160.43L175.1 160.34L175.16 160.78L175.22 160.35L175.28 159.94L175.34 160.4L175.4 160.29L175.46 161.22L175.52 160.43L175.58 160.3L175.64 160.59L175.7 160.12L175.76 159.74L175.82 160.39L175.88 160.97L175.94 160.14L176 160.56L176.06 160L176.12 160.01L176.18 160.57L176.24 159.93L176.3 160.26L176.36 159.87L176.42 160.84L176.48 160.77L176.54 160.11L176.6 160.99L176.66 160.17L176.72 159.72L176.78 160.01L176.84 160.84L176.9 161.18L176.96 160.61L177.02 161.31L177.08 159.97L177.14 160.26L177.2 160.51L177.26 159.77L177.32 160.56L177.38 160.94L177.44 161.09L177.5 159.91L177.56 160.75L177.62 161.04L177.68 160.09L177.74 160.3L177.8 159.86L177.86 159.75L177.92 159.98L177.98 159.82L178.04 161.03L178.1 159.73L178.16 160.61L178.22 161.29L178.28 159.62L178.34 160.86L178.4 160.93L178.46 160.33L178.52 159.81L178.58 160.65L178.64 159.9L178.7 159.55L178.76 159.97L178.82 160.82L178.88 160.73L178.94 160.9L179 160.59L179.06 160.65L179.12 160.68L179.18 160.33L179.24 160.72L179.3 159.89L179.36 159.68L179.42 160.49L179.48 160.41L179.54 160.32L179.6 159.98L179.66 159.8L179.72 159.95L179.78 161.01L179.84 160.58L179.9 161.19L179.96 160.2L180.02 160.45L180.08 160.38L180.14 160.71L180.2 160.73L180.26 159.9L180.32 160.75L180.38 160.96L180.44 160.48L180.5 160.64L180.56 159.78L180.62 160.66L180.68 159.42L180.74 159.31L180.8 160.76L180.86 159.66L180.92 160.61L180.98 160.09L181.04 159.3L181.1 160.18L181.16 160.47L181.22 159.91L181.28 160.08L181.34 160.55L181.4 159.99L181.46 160.28L181.52 159.99L181.58 159.93L181.64 159.82L181.7 159.71L181.76 160.28L181.82 159.9L181.88 159.87L181.94 159.57L182 160.01L182.06 159.6L182.12 160.35L182.18 159.69L182.24 160L182.3 160.81L182.36 159.86L182.42 160.78L182.48 159.66L182.54 159.69L182.6 160.59L182.66 159.73L182.72 160.65L182.78 160.62L182.84 160L182.9 159.46L182.96 159.5L183.02 159.73L183.08 159.88L183.14 160.06L183.2 160.32L183.26 160.26L183.32 159.48L183.38 160.83L183.44 160.7L183.5 159.47L183.56 161.13L183.62 159.89L183.68 159.39L183.74 160.2L183.8 159.82L183.86 160.74L183.92 159.64L183.98 159.92L184.04 159.97L184.1 160.37L184.16 159.92L184.22 159.87L184.28 159.65L184.34 160.79L184.4 159.45L184.46 160.01L184.52 160.18L184.58 159.83L184.64 159.76L184.7 159.69L184.76 159.63L184.82 159.42L184.88 159.56L184.94 160.34L185 160.03L185.06 159.43L185.12 160.19L185.18 160.68L185.24 159.46L185.3 160.29L185.36 159.27L185.42 159.54L185.48 159.38L185.54 160.55L185.6 159.57L185.66 160.38L185.72 160.63L185.78 159.64L185.84 159.65L185.9 159.35L185.96 160.77L186.02 160.02L186.08 159.8L186.14 160.31L186.2 159.73L186.26 160.41L186.32 159.64L186.38 159.92L186.44 160.32L186.5 160.33L186.56 160.67L186.62 160.17L186.68 160L186.74 160.4L186.8 161.01L186.86 159.95L186.92 160.28L186.98 159.47L187.04 160.99L187.1 159.94L187.16 160.43L187.22 159.56L187.28 160.55L187.34 160.63L187.4 159.94L187.46 160.5L187.52 160.01L187.58 160.06L187.64 159.68L187.7 159.87L187.76 160.33L187.82 160.03L187.88 161.15L187.94 160.75L188 160.32L188.06 160.12L188.12 159.58L188.18 160.84L188.24 160.3L188.3 160.88L188.36 159.93L188.42 159.78L188.48 160.2L188.54 160.58L188.6 159.58L188.66 160.54L188.72 160.17L188.78 159.62L188.84 160.26L188.9 160.73L188.96 160.71L189.02 159.61L189.08 160.95L189.14 159.75L189.2 159.69L189.26 160.59L189.32 160.96L189.38 160.05L189.44 160.6L189.5 160.24L189.56 160.32L189.62 160L189.68 159.85L189.74 160.26L189.8 160.35L189.86 159.7L189.92 160.7L189.98 160.36L190.04 160.59L190.1 160.74L190.16 160.39L190.22 161.06L190.28 159.39L190.34 160.69L190.4 159.02L190.46 159.46L190.52 160.09L190.58 160.34L190.64 160.05L190.7 160.53L190.76 159.76L190.82 160.54L190.88 159.66L190.94 160.04L191 159.67L191.06 160.08L191.12 160.22L191.18 160.44L191.24 159.62L191.3 161.03L191.36 161.21L191.42 160.58L191.48 159.77L191.54 160.39L191.6 160.74L191.66 160.66L191.72 159.96L191.78 159.79L191.84 160.81L191.9 160.49L191.96 160.1L192.02 160.58L192.08 160.4L192.14 160.9L192.2 160.62L192.26 159.93L192.32 159.93L192.38 160.07L192.44 160.49L192.5 160.59L192.56 160.84L192.62 160.5L192.68 159.67L192.74 160.49L192.8 160.51L192.86 160.5L192.92 160.25L192.98 159.53L193.04 159.55L193.1 159.94L193.16 160.1L193.22 159.74L193.28 159.43L193.34 160.82L193.4 160.41L193.46 159.75L193.52 159.39L193.58 159.91L193.64 159.6L193.7 160.63L193.76 161.06L193.82 159.6L193.88 160.45L193.94 160.43L194 159.71L194.06 159.96L194.12 159.42L194.18 160.52L194.24 160.43L194.3 160.86L194.36 159.8L194.42 159.76L194.48 159.82L194.54 160.59L194.6 160.41L194.66 159.55L194.72 159.56L194.78 160.22L194.84 160.24L194.9 159.54L194.96 159.8L195.02 160.89L195.08 160.52L195.14 160.25L195.2 159.91L195.26 160.47L195.32 159.67L195.38 159.96L195.44 160.22L195.5 160.28L195.56 160.6L195.62 160.04L195.68 160.87L195.74 160.39L195.8 160.55L195.86 160.75L195.92 159.48L195.98 160.75L196.04 160.38L196.1 159.66L196.16 160.63L196.22 160.11L196.28 160.28L196.34 159.97L196.4 160.09L196.46 160.11L196.52 159.79L196.58 160.08L196.64 160.68L196.7 160.21L196.76 160.72L196.82 160.58L196.88 159.6L196.94 161.19L197 160.38L197.06 160.86L197.12 159.98L197.18 160.86L197.24 160.11L197.3 160.43L197.36 159.88L197.42 161.15L197.48 160.98L197.54 159.79L197.6 160.78L197.66 160.06L197.72 159.69L197.78 160.53L197.84 160.96L197.9 159.77L197.96 159.71L198.02 159.72L198.08 159.54L198.14 160.25L198.2 160.71L198.26 160L198.32 160.29L198.38 160.88L198.44 160.05L198.5 161.16L198.56 159.48L198.62 160.67L198.68 159.76L198.74 159.5L198.8 160.24L198.86 160.66L198.92 160.21L198.98 160.53L199.04 159.63L199.1 160.26L199.16 160.19L199.22 160.97L199.28 159.75L199.34 160.15L199.4 160.27L199.46 160.1L199.52 159.28L199.55 210.86L199.58 160.05L199.64 159.29L199.7 160.16L199.76 160.46L199.82 159.65L199.88 160.05L199.89 210.76L199.94 159.87L200 159.83L200.06 160.66L200.12 160.96L200.16 210.65L200.18 160.24L200.24 160.44L200.3 160.66L200.31 210.66L200.36 160.74L200.42 161.16L200.48 159.68L200.54 160.96L200.6 160.88L200.62 210.9L200.66 159.97L200.72 160.5L200.78 161L200.84 160.03L200.86 210.99L200.9 160.2L200.96 160.52L201.02 160.09L201.08 160.53L201.1 210.97L201.14 160.23L201.2 159.59L201.26 160.31L201.32 159.85L201.38 210.77L201.38 160.02L201.44 160.45L201.5 160.43L201.56 160.91L201.6 210.57L201.62 160.66L201.68 160.4L201.74 160.02L201.8 159.67L201.86 160.03L201.9 210.67L201.92 160.63L201.98 160.82L202.04 160.01L202.1 160.31L202.16 159.96L202.17 210.94L202.22 160.4L202.28 161.15L202.34 160.15L202.4 160.73L202.46 159.84L202.47 210.84L202.52 161.07L202.58 160.47L202.64 160.82L202.65 210.6L202.7 160.31L202.76 161.17L202.82 159.79L202.88 160.19L202.94 160L202.98 210.99L203 160.71L203.06 160.51L203.1 210.59L203.12 160.55L203.18 161.04L203.24 160.35L203.3 160.31L203.36 160.33L203.39 211.02L203.42 160.84L203.48 161.28L203.54 160.38L203.6 160.11L203.61 210.8L203.66 160.66L203.72 160.69L203.78 160.58L203.84 160.87L203.9 160.15L203.95 210.71L203.96 160.51L204.02 159.97L204.08 160.52L204.14 160.98L204.2 161.15L204.24 210.68L204.26 160.05L204.32 160.53L204.38 160.5L204.4 210.83L204.44 160.15L204.5 159.98L204.56 160.24L204.62 160.47L204.68 210.55L204.68 160.3L204.74 161.04L204.8 161.08L204.86 159.98L204.92 160.3L204.96 210.88L204.98 160.68L205.04 160.01L205.1 161L205.16 160.45L205.2 210.72L205.22 160L205.28 160.31L205.34 160.34L205.38 210.87L205.4 161.2L205.46 160.03L205.52 160.88L205.58 160.45L205.64 160.07L205.67 210.93L205.7 160.43L205.76 160.58L205.82 160.04L205.88 160.65L205.94 210.62L205.94 160.07L206 160.25L206.06 160.31L206.12 160.19L206.15 210.63L206.18 159.73L206.24 160.11L206.3 160.24L206.36 160L206.37 211.02L206.42 161.09L206.48 160.93L206.54 160.73L206.6 160.49L206.66 159.83L206.72 159.79L206.76 210.96L206.78 160.55L206.84 160.1L206.89 210.79L206.9 160.54L206.96 159.95L207.02 161.01L207.08 159.44L207.14 160.53L207.2 159.57L207.21 211L207.26 160.88L207.32 161.28L207.38 161L207.38 210.57L207.44 161.23L207.5 161.13L207.56 159.88L207.62 160.74L207.67 210.83L207.68 160.35L207.74 160.88L207.8 160.37L207.86 160.49L207.92 161.35L207.94 210.96L207.98 160.69L208.04 160.98L208.1 160.64L208.16 160.29L208.22 211L208.22 159.81L208.28 160.41L208.34 159.93L208.4 160.04L208.46 210.56L208.46 159.75L208.52 160.13L208.58 159.82L208.64 161.08L208.66 210.84L208.7 159.99L208.76 160.88L208.82 160.8L208.88 160.93L208.94 160.93L208.99 210.95L209 160.14L209.06 160.82L209.12 160.12L209.18 160.63L209.24 160.16L209.26 210.64L209.3 160.44L209.36 160.83L209.4 211.03L209.42 160.02L209.48 160.38L209.54 160.44L209.6 160.22L209.66 160.28L209.67 209.9L209.72 160.43L209.78 160.23L209.84 160.94L209.9 159.77L209.92 209.18L209.96 160.42L210.02 160.1L210.08 160.13L210.14 159.71L210.2 160.68L210.26 208.23L210.26 160.87L210.32 161.29L210.38 160.45L210.44 161.27L210.49 207.77L210.5 160.49L210.56 161.13L210.62 160.05L210.68 207.14L210.68 160.28L210.74 160.78L210.8 159.96L210.86 160.62L210.92 160.34L210.96 206.05L210.98 159.87L211.04 160.88L211.1 160.68L211.16 159.93L211.17 205.59L211.22 160.11L211.28 161.24L211.34 159.91L211.4 159.89L211.46 160.37L211.48 204.79L211.52 161.13L211.58 160.59L211.64 160.69L211.7 160.81L211.76 160.36L211.78 203.48L211.82 160.5L211.88 160.03L211.93 203.33L211.94 160.81L212 159.69L212.06 160.8L212.12 161.16L212.18 159.68L212.24 161L212.24 202.6L212.3 160.93L212.36 159.37L212.42 160.93L212.48 159.64L212.49 201.97L212.54 161.18L212.6 160.2L212.66 160.13L212.72 200.72L212.72 160.8L212.78 160.75L212.84 161.11L212.9 160.17L212.96 160.26L213.02 159.81L213.02 200.16L213.08 160.43L213.14 160.14L213.19 199.48L213.2 160.13L213.26 160.59L213.32 160.77L213.38 160.01L213.44 160.52L213.5 159.68L213.51 198.69L213.56 159.94L213.62 159.91L213.66 198.32L213.68 159.89L213.74 160.72L213.8 159.58L213.86 159.69L213.92 160.61L213.98 160.35L214.01 196.81L214.04 160.7L214.1 160.48L214.16 160.5L214.22 159.85L214.26 196.58L214.28 160.65L214.34 160.42L214.4 159.64L214.46 160.74L214.5 195.46L214.52 160.34L214.58 160.04L214.64 160.05L214.7 160.71L214.71 194.7L214.76 159.89L214.82 160.71L214.88 159.8L214.94 160.67L215 160.75L215.03 192.09L215.06 160.74L215.12 160.67L215.18 159.59L215.24 159.78L215.3 160.86L215.33 189.25L215.36 159.4L215.4 165.5L215.42 159.7L215.48 160.67L215.54 160.15L215.6 160.18L215.65 186.41L215.66 160.17L215.7 165.5L215.72 160.83L215.78 159.4L215.84 160.2L215.9 159.72L215.96 160.3L216 165.35L216.02 159.87L216.08 160.44L216.14 159.87L216.15 186.29L216.2 160.39L216.26 159.73L216.3 163.55L216.32 160.45L216.38 161.03L216.44 160.19L216.5 159.9L216.56 160.35L216.6 166.14L216.62 159.77L216.68 159.9L216.74 160.59L216.8 160.21L216.86 159.22L216.9 164.92L216.92 160.08L216.98 159.49L217.04 160.22L217.1 160.3L217.16 159.27L217.2 164.19L217.22 160.33L217.28 160.76L217.34 159.82L217.4 159.85L217.46 160.07L217.5 163.62L217.52 159.58L217.58 160.15L217.64 160.47L217.7 160.7L217.76 159.52L217.8 165.03L217.82 159.73L217.85 194.31L217.88 159.64L217.94 160.01L218 160.08L218.06 161.1L218.1 164.33L218.12 160.2L218.18 160.06L218.24 160.55L218.3 160.86L218.35 193.97L218.36 159.37L218.4 163.15L218.42 160.78L218.48 160.3L218.54 159.79L218.6 159.93L218.66 159.79L218.7 165.83L218.72 160.7L218.78 159.74L218.84 159.56L218.9 160L218.96 160.06L219 165.99L219.02 159.64L219.08 160.22L219.14 159.59L219.2 160.5L219.26 160.86L219.3 164.25L219.32 160.79L219.38 159.72L219.44 160.28L219.5 160.17L219.56 160.04L219.6 164.28L219.62 160.34L219.68 159.97L219.74 160.22L219.8 160.87L219.85 191.49L219.86 160.46L219.9 162.79L219.92 160.12L219.98 160.52L220.04 160.7L220.1 160.81L220.16 159.53L220.2 163.78L220.22 160L220.28 160.46L220.34 160.18L220.35 191.49L220.4 160.73L220.46 159.52L220.5 163.61L220.52 160.45L220.58 160.07L220.64 161.02L220.7 160.42L220.76 160.9L220.8 164.64L220.82 160.44L220.88 160.65L220.94 160.14L221 160.78L221.06 159.67L221.1 164.01L221.12 159.81L221.18 160.81L221.24 160.6L221.3 159.82L221.36 160.33L221.4 164.11L221.42 160.46L221.48 160.53L221.54 160.74L221.55 194.26L221.6 159.62L221.66 160.13L221.7 163.55L221.72 160.53L221.78 159.44L221.84 160.27L221.9 159.47L221.96 159.74L222 163.89L222.02 160.21L222.05 194.5L222.08 159.93L222.14 160.39L222.2 159.65L222.26 160.68L222.3 165.24L222.32 160.95L222.38 160.6L222.44 159.74L222.5 159.81L222.56 160.43L222.6 165.18L222.62 161.14L222.68 160.2L222.74 160.07L222.8 161.04L222.86 160.8L222.9 163.72L222.92 160.35L222.98 160.37L223.04 160.55L223.1 160.74L223.16 159.99L223.2 165.36L223.22 159.75L223.28 159.38L223.34 160.98L223.4 160.96L223.46 159.68L223.5 164.01L223.52 159.81L223.58 160.06L223.64 160.71L223.65 177.7L223.7 159.59L223.76 160.53L223.8 163.21L223.82 160.88L223.88 160.42L223.94 160.54L224 159.87L224.06 160.43L224.1 165.51L224.12 160.61L224.15 177.17L224.18 160.74L224.24 160.21L224.3 159.48L224.36 160.31L224.4 163.03L224.42 160.97L224.48 159.69L224.54 159.53L224.6 160.23L224.66 159.82L224.7 165.13L224.72 160.66L224.78 160.13L224.84 160.69L224.9 160.53L224.96 159.33L225 165.25L225.02 160.61L225.08 159.94L225.14 159.91L225.2 160.58L225.26 159.23L225.3 165.59L225.32 160.25L225.38 160.6L225.44 159.76L225.5 160.18L225.56 160.51L225.6 162.94L225.62 160.37L225.68 160.15L225.74 160.22L225.8 160.33L225.86 160.78L225.9 164.87L225.92 160.59L225.98 160.18L226.04 159.6L226.1 160.5L226.16 160.27L226.2 164.59L226.22 160.28L226.28 160.45L226.34 159.32L226.4 159.67L226.46 159.56L226.5 164.22L226.52 160.59L226.58 160.43L226.64 159.59L226.7 159.92L226.76 160.48L226.8 164.69L226.82 159.62L226.88 159.46L226.94 159.28L227 159.94L227.06 160.23L227.1 163.75L227.12 160.39L227.18 160.04L227.24 159.83L227.3 159.79L227.36 160.51L227.4 162.72L227.42 159.95L227.48 159.52L227.54 160.65L227.6 161.02L227.66 160.41L227.7 164.25L227.72 159.91L227.78 159.25L227.84 160.06L227.9 159.53L227.95 172.2L227.96 159.78L228 164.95L228.02 160.72L228.08 159.38L228.14 160.06L228.2 159.66L228.26 159.8L228.3 164.04L228.32 160.19L228.38 159.86L228.44 160.25L228.45 171.48L228.5 160.45L228.56 159.74L228.6 164.99L228.62 160.01L228.68 160.53L228.74 159.49L228.8 159.48L228.86 160.7L228.9 164.48L228.92 159.86L228.98 159.32L229.04 159.59L229.1 160.7L229.16 160.85L229.2 164.23L229.22 160.25L229.28 159.45L229.34 159.48L229.4 160.99L229.46 159.64L229.5 165.38L229.52 159.97L229.58 160.05L229.64 160.62L229.7 160.2L229.76 159.72L229.8 163.26L229.82 160.08L229.88 159.6L229.94 160.02L230 160.29L230.05 188.1L230.06 160.5L230.1 163.97L230.12 160.5L230.18 160.51L230.24 160.09L230.3 160.17L230.36 159.5L230.4 163.24L230.42 160.71L230.48 160.73L230.54 160.42L230.55 188.7L230.6 160.77L230.66 159.98L230.7 164.28L230.72 160.66L230.78 160.05L230.84 159.78L230.9 160.14L230.96 160.71L231 162.68L231.02 159.9L231.08 159.73L231.14 159.94L231.2 160.36L231.26 160.12L231.3 164.13L231.32 160.69L231.38 159.87L231.44 160.76L231.5 160.08L231.56 160.63L231.6 164.08L231.62 160.31L231.68 159.4L231.74 160.42L231.8 159.53L231.86 160.81L231.9 165.2L231.92 159.9L231.98 160.75L232.04 160.08L232.05 184.93L232.1 159.28L232.16 160.61L232.2 163.89L232.22 160.32L232.28 159.46L232.34 159.99L232.4 160.08L232.46 159.93L232.5 164.2L232.52 159.46L232.55 185.49L232.58 159.17L232.64 159.21L232.7 160.67L232.76 160.52L232.8 164.13L232.82 159.66L232.88 160.63L232.94 159.74L233 160.62L233.06 160.23L233.1 164.62L233.12 160.19L233.18 160.2L233.24 159.83L233.3 160.39L233.36 159.89L233.4 164.82L233.42 159.1L233.48 160.8L233.54 159.47L233.6 159.76L233.66 160.38L233.7 164.32L233.72 159.89L233.78 160.68L233.84 159.99L233.9 160.54L233.96 159.12L234 164.62L234.02 159.59L234.08 159.9L234.14 160.09L234.2 160.36L234.26 159.95L234.3 164.13L234.32 159.83L234.35 184.84L234.38 159.49L234.44 160.4L234.5 159.21L234.56 160.51L234.6 164.82L234.62 159.45L234.68 160.5L234.74 160.01L234.8 159.58L234.85 183.82L234.86 160.49L234.9 162.87L234.92 160.93L234.98 159.64L235.04 159.68L235.1 159.86L235.16 159.88L235.2 164.76L235.22 159.37L235.28 160.74L235.34 159.74L235.4 159.85L235.46 159.94L235.5 163.67L235.52 160.4L235.58 160.35L235.64 160.2L235.7 159.62L235.76 159.68L235.8 163.44L235.82 160L235.88 160.4L235.94 159.59L236 160.73L236.06 160.53L236.1 164.71L236.12 160.23L236.18 160.01L236.24 161.2L236.25 179.62L236.3 160.33L236.36 160.58L236.4 164.73L236.42 161.05L236.48 159.26L236.54 159.41L236.6 160.22L236.66 159.68L236.7 162.8L236.72 160.45L236.75 180.33L236.78 159.35L236.84 159.74L236.9 160.16L236.96 160.35L237 163.83L237.02 160.4L237.08 159.9L237.14 159.48L237.2 160.54L237.26 159.49L237.3 164.95L237.32 160.26L237.38 159.77L237.44 160.52L237.5 159.47L237.56 159.62L237.6 164.64L237.62 160.45L237.68 160.47L237.74 160.31L237.8 159.54L237.86 159.89L237.9 162.79L237.92 160.14L237.98 160.58L238.04 159.66L238.1 160.29L238.15 188.7L238.16 160.48L238.2 164.49L238.22 159.96L238.28 160.18L238.34 159.38L238.4 161.18L238.46 159.69L238.5 163.81L238.52 159.65L238.58 160.19L238.64 159.56L238.65 188.58L238.7 159.62L238.76 159.67L238.8 162.79L238.82 160.54L238.88 160.55L238.94 160.21L239 159.53L239.06 159.18L239.1 164.57L239.12 160.15L239.18 159.99L239.24 160.57L239.3 160.04L239.36 160.83L239.4 164.78L239.42 159.77L239.48 159.58L239.54 159.95L239.6 161.02L239.66 160.51L239.7 163.37L239.72 159.46L239.78 160.56L239.84 159.81L239.9 159.64L239.95 178.63L239.96 160L240 163.73L240.02 160.79L240.08 160.04L240.14 159.78L240.2 160.02L240.26 159.56L240.3 163.1L240.32 159.68L240.38 160.32L240.44 160.11L240.45 177.61L240.5 159.91L240.56 159.43L240.6 164.86L240.62 161.15L240.68 160.87L240.74 159.92L240.8 159.98L240.86 159.94L240.9 164.02L240.92 160.9L240.98 160.71L241.04 159.8L241.1 160.71L241.16 161.02L241.2 162.98L241.22 159.54L241.28 160.36L241.34 160.67L241.4 160.28L241.46 159.91L241.5 163.4L241.52 160.04L241.55 185.26L241.58 160.75L241.64 159.79L241.7 160.53L241.76 160.79L241.8 162.61L241.82 160.19L241.88 160.74L241.94 159.93L242 159.77L242.05 185.8L242.06 159.73L242.1 162.63L242.12 159.82L242.18 160.63L242.24 160.64L242.3 160.66L242.36 160.26L242.4 162.74L242.42 159.94L242.48 160.93L242.54 160.81L242.6 159.96L242.66 160.81L242.7 163.35L242.72 160.09L242.78 159.93L242.84 160.71L242.9 159.76L242.96 160.14L243 164.57L243.02 160.85L243.08 159.83L243.14 159.94L243.2 160.84L243.26 159.65L243.3 164.28L243.32 161.01L243.38 160.06L243.44 160.09L243.5 159.46L243.56 159.63L243.6 162.86L243.62 159.59L243.68 159.4L243.74 160.67L243.8 161.05L243.86 160.81L243.9 163.54L243.92 159.9L243.95 182.11L243.98 160.56L244.04 160.7L244.1 160.9L244.16 160.11L244.2 163.04L244.22 159.92L244.28 160.46L244.34 160.69L244.4 159.25L244.45 181.79L244.46 160.06L244.5 163.58L244.52 160.37L244.58 159.81L244.64 159.45L244.7 160.29L244.76 160.85L244.8 163.73L244.82 160.17L244.88 159.91L244.94 160.43L245 160.69L245.06 160.63L245.1 163.55L245.12 159.95L245.18 159.6L245.24 159.58L245.3 159.52L245.36 159.5L245.4 163.95L245.42 159.48L245.48 159.66L245.54 159.9L245.6 160.58L245.66 159.67L245.7 163.14L245.72 160.48L245.78 160.8L245.84 159.73L245.9 160.1L245.96 161.09L246 164.42L246.02 160.5L246.08 159.81L246.14 160.15L246.15 174.6L246.2 160L246.26 160.52L246.3 162.99L246.32 159.74L246.38 160.66L246.44 160.35L246.5 160.15L246.56 160.26L246.6 163.28L246.62 160.34L246.65 173.97L246.68 160.29L246.74 160.44L246.8 159.5L246.86 160.41L246.9 163.16L246.92 159.4L246.98 159.78L247.04 160.34L247.1 159.75L247.16 160.87L247.2 162.57L247.22 160.14L247.28 160.26L247.34 160.14L247.4 160.24L247.45 172.12L247.46 160.47L247.5 163.04L247.52 159.7L247.58 160.88L247.64 160.26L247.7 160.48L247.76 161.3L247.8 164.47L247.82 159.75L247.88 159.92L247.94 160L247.95 171.93L248 160.95L248.06 159.8L248.1 163.23L248.12 160.22L248.18 160.51L248.24 160.16L248.3 159.8L248.36 159.94L248.4 163.73L248.42 160.52L248.48 160.16L248.54 160L248.6 160.21L248.66 159.84L248.7 162.8L248.72 160.54L248.78 160.81L248.84 160.56L248.9 160.68L248.96 160.08L249 163.25L249.02 159.96L249.08 161.14L249.14 160.47L249.2 160.78L249.26 159.56L249.3 163.01L249.32 161.11L249.35 169.48L249.38 159.77L249.44 160.84L249.5 159.91L249.56 160.56L249.6 162.93L249.62 159.96L249.68 160.08L249.74 159.57L249.8 160.61L249.85 168.64L249.86 159.65L249.9 163.98L249.92 160.42L249.98 160.63L250.04 160.99L250.1 160.32L250.16 160.2L250.2 163.5L250.22 160.79L250.28 160L250.34 160.51L250.4 160.1L250.46 159.94L250.5 162.54L250.52 160.19L250.58 160.06L250.64 160.37L250.7 160.94L250.76 160.65L250.8 163.04L250.82 161.07L250.88 159.96L250.94 160.25L251 160.49L251.06 159.99L251.1 163.05L251.12 160.33L251.18 160.54L251.24 160.69L251.3 159.96L251.36 160.43L251.4 164.3L251.42 160.61L251.48 161.18L251.54 160.83L251.6 159.88L251.66 161.13L251.7 163.91L251.72 159.94L251.75 167.04L251.78 160.1L251.84 160.68L251.9 160.85L251.96 159.93L252 163.53L252.02 160.44L252.08 160.22L252.14 159.92L252.2 161.08L252.25 166.08L252.26 160.26L252.3 162.5L252.32 160.6L252.38 160.2L252.44 161L252.5 160.04L252.56 160.68L252.6 164.18L252.62 160.97L252.68 161.09L252.74 160.35L252.8 160.9L252.86 160.19L252.9 163.3L252.92 161.08L252.98 160.64L253.04 159.6L253.1 160.63L253.16 161.02L253.2 163.52L253.22 160.96L253.28 159.83L253.34 161.08L253.4 160.68L253.46 160.12L253.5 163.5L253.52 160.55L253.58 161.05L253.64 160.7L253.7 160.64L253.76 160.86L253.8 163.45L253.82 160.52L253.88 160.19L253.94 161.12L254 160.38L254.06 161.19L254.1 163.63L254.12 159.89L254.18 160.32L254.24 161.14L254.25 165.37L254.3 160.03L254.36 160.88L254.4 163.12L254.42 161.34L254.48 159.84L254.54 160.37L254.6 160.61L254.66 160.04L254.7 163.06L254.72 159.51L254.75 164.53L254.78 160.74L254.84 160.23L254.9 159.69L254.96 160.01L255 163.93L255.02 160.87L255.08 160.94L255.14 160.62L255.2 160.3L255.26 160.64L255.3 163.99L255.32 160.23L255.38 161.38L255.44 159.93L255.5 160.68L255.56 161.23L255.6 163.73L255.62 160.45L255.68 159.84L255.74 160.86L255.8 160.61L255.86 160.62L255.9 163.11L255.92 160.71L255.98 160.86L256.04 160.73L256.1 159.94L256.16 160.08L256.2 162.81L256.22 160.67L256.28 159.6L256.34 160.63L256.4 160.3L256.45 164.91L256.46 159.86L256.5 163.23L256.52 159.91L256.58 159.9L256.64 159.76L256.7 160.6L256.76 160.63L256.8 163.76L256.82 159.87L256.88 160.39L256.94 160.39L256.95 166.12L257 160.82L257.06 160.54L257.1 163.36L257.12 160.92L257.18 159.77L257.24 160.68L257.3 160.4L257.36 160.59L257.4 163.98L257.42 161.3L257.48 159.47L257.54 160.77L257.6 159.96L257.66 159.7L257.7 163.73L257.72 160.44L257.78 160.27L257.84 160.79L257.9 160.34L257.96 160.53L258 162.87L258.02 160.33L258.08 160.59L258.14 160.28L258.2 160L258.26 160.55L258.3 162.94L258.32 160.5L258.38 160.53L258.44 160.82L258.5 159.48L258.56 159.84L258.6 162.79L258.62 160.87L258.68 160.83L258.74 159.93L258.8 160.14L258.86 160.53L258.9 162.79L258.92 160L258.98 160.44L259.04 160.14L259.1 160.08L259.16 159.78L259.2 163.46L259.22 160.18L259.28 161.16L259.34 160.26L259.4 159.97L259.46 160.47L259.5 163.55L259.52 160.71L259.55 164.32L259.58 160.06L259.64 160.16L259.7 160.34L259.76 160.28L259.8 163.42L259.82 160.1L259.88 160.36L259.94 160.71L260 160.36L260.05 165.19L260.06 160.41L260.1 163.54L260.12 160.19L260.18 159.85L260.24 160.24L260.3 159.6L260.36 159.82L260.4 162.71L260.42 159.61L260.48 159.83L260.54 159.38L260.6 160.42L260.66 160.2L260.7 163.65L260.72 160.5L260.78 160.3L260.84 159.42L260.9 160.33L260.96 160.13L261 163.3L261.02 160.77L261.08 159.85L261.14 160.42L261.2 160.49L261.26 160.53L261.3 163.77L261.32 160.13L261.38 160.57L261.44 160.27L261.5 160.38L261.56 159.96L261.6 163.41L261.62 159.81L261.68 160.23L261.74 159.96L261.8 160.09L261.86 160.69L261.9 163.71L261.92 159.7L261.98 160.3L262.04 159.57L262.1 160.73L262.16 159.9L262.22 160.41L262.25 163.65L262.28 160.62L262.34 159.58L262.4 159.84L262.46 159.74L262.52 159.98L262.58 160.44L262.64 160.03L262.7 161.04L262.75 164.24L262.76 160L262.82 159.94L262.88 159.97L262.94 159.88L263 160.49L263.06 159.36L263.12 159.98L263.18 160.58L263.24 159.7L263.3 160.17L263.36 159.47L263.42 160.1L263.48 160.48L263.54 160.93L263.6 160.59L263.66 160.36L263.72 159.9L263.78 160.67L263.84 160.76L263.9 159.55L263.96 160.57L264.02 160.73L264.08 160.83L264.14 159.99L264.2 159.92L264.25 167.08L264.26 159.35L264.32 160.74L264.38 159.68L264.44 160.79L264.5 159.42L264.56 160.29L264.62 160.83L264.68 160.75L264.74 159.47L264.75 167.15L264.8 160.24L264.86 159.4L264.92 160.51L264.98 160.21L265.04 159.71L265.1 160.82L265.16 160.14L265.22 159.23L265.28 160.55L265.34 160.53L265.4 160.34L265.46 160.21L265.52 160.48L265.58 159.99L265.64 159.38L265.7 160.54L265.76 159.46L265.82 159.76L265.88 160.07L265.94 160.31L266 159.74L266.06 160.41L266.12 161L266.18 160.21L266.24 160.75L266.3 160.41L266.36 160.25L266.42 160.02L266.48 160.17L266.54 159.45L266.6 159.51L266.66 159.73L266.72 160.46L266.78 159.98L266.84 159.31L266.9 160.37L266.96 159.48L267.02 159.96L267.08 159.42L267.14 159.57L267.2 160.21L267.26 159.5L267.32 159.68L267.38 159.36L267.44 159.14L267.5 160.4L267.56 159.87L267.62 159.39L267.68 160.35L267.74 160.25L267.8 159.09L267.86 159.57L267.92 159.42L267.98 159.67L268.04 159.24L268.1 160.37L268.16 159.86L268.22 160.06L268.28 159.96L268.34 159.29L268.4 159.34L268.45 166.24L268.46 159.79L268.52 160.48L268.58 159.87L268.64 159.42L268.7 159.73L268.76 160.49L268.82 160.44L268.88 160.12L268.94 160.72L268.95 165.69L269 159.4L269.06 159.65L269.12 159.85L269.18 159.35L269.24 160.07L269.3 159.56L269.36 159.6L269.42 159.54L269.48 160.25L269.54 158.99L269.6 159.92L269.66 159.68L269.72 159.99L269.78 160.55L269.84 160.44L269.9 160.29L269.96 159.08L270.02 160.79L270.08 160.59L270.14 159.44L270.2 160.5L270.26 159.56L270.32 159.4L270.35 169.75L270.38 159.29L270.44 159.7L270.5 160.3L270.56 159.34L270.62 159.33L270.68 160.28L270.74 160.06L270.8 159.72L270.85 169.2L270.86 160.16L270.92 159.19L270.98 160.37L271.04 160.42L271.1 159.7L271.16 160.67L271.22 160.35L271.28 160.31L271.34 160.12L271.4 159.97L271.46 159.58L271.52 159.3L271.58 160.53L271.64 160.37L271.7 159.91L271.75 171.71L271.76 160.13L271.82 159.47L271.88 160.53L271.94 160.57L272 160.36L272.06 159.41L272.12 160.22L272.18 160.59L272.24 159.42L272.25 172.37L272.3 159.53L272.36 159.67L272.42 160.33L272.48 160.83L272.54 160.07L272.6 160.15L272.66 159.61L272.72 160.8L272.78 160.55L272.84 159.38L272.9 159.54L272.96 160.4L273.02 159.81L273.08 160.05L273.14 160.71L273.2 159.92L273.26 160.28L273.32 160.6L273.38 160.18L273.44 160.5L273.5 159.75L273.56 181.44L273.56 160.7L273.62 160.69L273.68 160.81L273.74 159.77L273.8 160.39L273.86 181.34L273.86 160.96L273.92 159.7L273.98 160.96L274.04 161.06L274.1 159.96L274.16 159.45L274.19 181.55L274.22 159.79L274.28 159.75L274.34 160.69L274.4 160.49L274.43 181.55L274.46 160.96L274.52 159.97L274.58 159.81L274.64 161.3L274.7 160.61L274.72 182.55L274.76 159.8L274.82 160.4L274.88 160.03L274.94 160.55L275 159.64L275.05 183.6L275.06 160.54L275.12 160.11L275.18 159.39L275.24 160.07L275.25 174.05L275.29 184.33L275.3 159.84L275.36 160.77L275.42 160.08L275.48 160.34L275.54 161.02L275.6 159.78L275.62 184.78L275.66 160.8L275.72 160.87L275.75 173.65L275.78 160.64L275.84 159.81L275.9 159.59L275.96 160.93L275.97 186.12L276.02 160.22L276.08 160.88L276.14 161.02L276.2 160.94L276.26 159.9L276.3 185.4L276.32 160.6L276.38 160.79L276.44 160.81L276.48 185.99L276.5 161.18L276.56 161L276.62 160.34L276.68 160.11L276.74 159.65L276.8 195.77L276.8 160.63L276.86 161.04L276.92 160.86L276.98 161.06L277.04 160L277.05 195.64L277.1 160.42L277.16 160.71L277.22 159.72L277.28 159.69L277.3 195.69L277.34 159.76L277.4 160.57L277.46 160.74L277.52 160.99L277.55 194.7L277.58 159.74L277.64 161.09L277.7 159.8L277.76 159.87L277.8 196.72L277.82 159.83L277.88 159.87L277.94 160.45L278 159.95L278.05 195.72L278.06 160.84L278.12 159.62L278.18 160.93L278.24 159.77L278.3 194.75L278.3 160.72L278.36 160.13L278.42 161.08L278.48 161.1L278.54 161.11L278.55 194.71L278.6 160.9L278.66 160.81L278.72 160.16L278.78 160.65L278.8 196.11L278.84 160.26L278.9 160.85L278.96 161.22L279.02 160.05L279.05 200.4L279.08 160.29L279.14 159.89L279.2 160.29L279.26 160.34L279.3 200.08L279.32 160.9L279.38 161.08L279.44 160.23L279.5 160.76L279.55 200.22L279.56 160.04L279.62 160.49L279.68 160.71L279.74 160.51L279.8 202.36L279.8 160.24L279.86 160.28L279.92 159.98L279.98 160.65L280.04 160.35L280.05 203.24L280.1 160.09L280.16 160.96L280.22 160.78L280.28 159.94L280.3 210.33L280.34 160.51L280.4 160.38L280.46 159.96L280.52 160.13L280.55 210.19L280.58 161L280.64 160.72L280.7 160.39L280.76 160.09L280.8 209.92L280.82 159.97L280.88 160.85L280.94 161.18L281 160.66L281.05 210.02L281.06 160.51L281.12 160.21L281.18 160.64L281.24 161.08L281.3 209.9L281.3 160.74L281.36 160.82L281.42 160.02L281.48 160.68L281.54 159.91L281.55 210.11L281.6 160.86L281.66 159.79L281.72 160.72L281.78 160.29L281.8 209.93L281.84 160.14L281.9 160.1L281.96 159.84L282.02 160.79L282.05 210.05L282.08 160.35L282.14 159.89L282.2 160L282.26 160.08L282.3 210.06L282.32 161.07L282.38 161L282.44 159.44L282.5 160.72L282.55 210.01L282.56 160.13L282.62 160.44L282.68 159.79L282.74 160.68L282.8 210.3L282.8 160.54L282.86 160.21L282.92 159.64L282.98 160.54L283.04 160.77L283.05 209.98L283.1 160.86L283.16 160.18L283.22 160.77L283.28 160.36L283.3 209.99L283.34 159.61L283.4 159.89L283.46 160.88L283.52 161.07L283.55 209.96L283.58 161.18L283.64 159.97L283.7 159.76L283.76 160.92L283.8 203.6L283.82 159.97L283.88 160.83L283.94 160.53L284 160.4L284.05 198.65L284.06 159.43L284.12 161.26L284.18 159.94L284.24 159.64L284.3 197.34L284.3 160.74L284.36 159.93L284.42 160.68L284.48 160.96L284.54 160.42L284.55 197.22L284.6 160.32L284.66 160L284.72 160.55L284.78 161.06L284.8 198.39L284.84 160.72L284.9 160.74L284.96 160.48L285.02 160.35L285.05 196.5L285.08 160.67L285.14 159.83L285.2 159.82L285.26 159.58L285.3 198.6L285.32 159.75L285.38 159.77L285.44 160.22L285.5 160.58L285.55 198L285.56 160.39L285.62 160.78L285.68 160.79L285.74 159.3L285.8 198.03L285.8 159.51L285.86 159.53L285.92 159.83L285.98 159.45L286.04 160.03L286.05 198.57L286.1 160.85L286.16 160.19L286.22 159.28L286.28 160.68L286.3 203.15L286.34 159.91L286.4 160.56L286.46 159.79L286.52 159.72L286.55 209.97L286.58 160.76L286.64 160.07L286.7 159.23L286.76 160.38L286.8 209.95L286.82 160.19L286.88 160.13L286.94 160.33L287 160.01L287.05 210.37L287.06 160.36L287.12 160.14L287.18 160.35L287.24 159.71L287.3 209.87L287.3 160.08L287.36 159.53L287.42 159.98L287.48 159.6L287.54 159.72L287.55 201.9L287.6 159.46L287.66 160.2L287.72 160.01L287.78 160.93L287.8 194.54L287.84 159.24L287.9 159.7L287.96 160.61L288.02 159.88L288.05 194.36L288.08 160.06L288.14 160.88L288.2 160.71L288.26 160.74L288.3 192.97L288.32 159.98L288.38 159.76L288.44 160.9L288.5 161.13L288.55 193.11L288.56 161.01L288.62 160.32L288.68 159.8L288.74 159.62L288.8 193.47L288.8 159.97L288.86 160.65L288.92 159.85L288.98 161.05L289.04 160.11L289.05 194.9L289.1 160.02L289.16 159.9L289.22 160.68L289.28 159.28L289.3 193.2L289.34 160.6L289.4 159.46L289.46 160.19L289.52 160.47L289.55 193.32L289.58 160.4L289.64 160.23L289.7 160.49L289.76 160.96L289.8 195.06L289.82 161.14L289.88 160.18L289.94 159.81L290 160.81L290.05 194.09L290.06 160.88L290.12 160.43L290.18 160.8L290.2 199.25L290.24 160.47L290.3 193.77L290.3 159.79L290.36 160.57L290.42 160.02L290.48 159.93L290.54 160.15L290.55 194.27L290.6 160.74L290.66 160.02L290.72 160.71L290.78 160.08L290.8 193.24L290.84 160.11L290.9 160.4L290.96 160.82L291.02 160.88L291.05 192.77L291.08 159.75L291.14 160.32L291.2 160.83L291.26 160.31L291.3 203.73L291.32 161.2L291.38 160.92L291.44 160.38L291.5 160.49L291.55 210.35L291.56 160.3L291.62 161.39L291.68 160.85L291.74 161.09L291.8 210.18L291.8 160.04L291.86 161.13L291.92 160.9L291.98 160.97L292.04 161.11L292.05 209.91L292.1 161.01L292.16 161.18L292.22 160.49L292.28 160.42L292.3 202.3L292.34 160.29L292.4 159.93L292.46 160.45L292.52 159.95L292.55 193.85L292.58 160.13L292.64 159.86L292.7 160.37L292.76 161L292.8 193.84L292.82 159.81L292.88 160.27L292.94 160.01L293 159.95L293.05 193.03L293.06 161.12L293.12 160.8L293.18 160.25L293.24 159.98L293.3 193.07L293.3 160.9L293.36 160.32L293.42 161.02L293.48 160.61L293.54 160.67L293.55 193.27L293.6 160.68L293.66 159.63L293.72 160.21L293.78 159.89L293.8 193.07L293.84 160.84L293.9 160.23L293.96 159.89L294.02 159.65L294.05 194.5L294.08 160.8L294.14 160.81L294.2 160.63L294.26 159.62L294.3 202.89L294.32 161.14L294.38 160.37L294.44 160.71L294.5 160.75L294.55 210.15L294.56 160.08L294.62 160.26L294.68 160.55L294.74 159.62L294.8 209.99L294.8 160.2L294.86 159.58L294.92 160.67L294.98 159.52L295.04 160.96L295.05 203.4L295.1 159.94L295.16 160.4L295.22 159.82L295.28 160.53L295.3 197.25L295.34 159.86L295.4 160.6L295.46 161.2L295.52 160.12L295.55 198.38L295.58 160.95L295.64 159.96L295.7 159.78L295.76 160.72L295.8 198.37L295.82 160.85L295.88 159.87L295.94 159.75L296 159.8L296.05 198.68L296.06 159.97L296.12 160.71L296.18 160L296.24 160.57L296.3 197.45L296.3 160.29L296.36 160.85L296.42 160.21L296.48 159.61L296.54 160.51L296.55 198.92L296.6 160.73L296.66 160.47L296.72 160.99L296.78 160.73L296.8 198.36L296.84 160.3L296.9 160.4L296.96 161.24L297 203.25L297.02 159.77L297.05 197.52L297.08 159.87L297.14 160.15L297.2 160.74L297.26 160.22L297.3 198.24L297.32 159.76L297.38 160.02L297.44 159.47L297.5 160.27L297.55 197.76L297.56 160.54L297.62 160.86L297.68 160.72L297.74 159.92L297.8 186.29L297.8 160.3L297.86 160.12L297.92 160.34L297.98 160.95L298.04 160.78L298.05 186.9L298.1 159.76L298.16 160.56L298.22 160.8L298.28 160.47L298.3 186.87L298.34 160.96L298.4 160.1L298.46 160.49L298.52 160.05L298.55 187.15L298.58 160.91L298.64 160.92L298.7 160.25L298.76 160.17L298.8 195.22L298.82 159.93L298.88 159.73L298.94 159.65L299 161.26L299.05 196.14L299.06 159.94L299.12 160.04L299.18 160.34L299.24 160.59L299.3 195.71L299.3 160.34L299.36 160.56L299.42 160.83L299.48 160.12L299.54 160.88L299.55 203.64L299.6 160.52L299.66 160.25L299.72 160.76L299.78 159.97L299.8 203.97L299.84 161.19L299.9 159.86L299.96 160.21L300.02 160.93L300.05 209.98L300.08 160.5L300.14 160.11L300.2 159.64L300.26 160.66L300.3 203.45L300.32 160.28L300.38 160.56L300.44 160.24L300.5 160.08L300.55 202.54L300.56 160.3L300.62 160.93L300.68 161.07L300.74 159.71L300.8 194.36L300.8 160.59L300.86 160.03L300.92 159.64L300.98 160.02L301.04 160.75L301.05 193.25L301.1 159.64L301.16 160.49L301.22 159.66L301.28 161.05L301.3 193.08L301.34 159.73L301.4 160.06L301.46 160.31L301.52 160.26L301.55 194.1L301.58 159.93L301.64 160.79L301.7 160.69L301.76 160.81L301.8 193.3L301.82 159.81L301.88 160.41L301.94 160.11L302 200.25L302 160.91L302.05 193.39L302.06 161.18L302.12 161.02L302.18 159.89L302.24 160.53L302.3 192.91L302.3 160.88L302.36 161.19L302.42 159.89L302.48 160.78L302.54 160.27L302.55 193.46L302.6 160.85L302.66 159.63L302.72 160.62L302.78 159.61L302.8 194.12L302.84 160.76L302.9 160.86L302.96 161.06L303.02 159.91L303.05 195.08L303.08 160.38L303.14 160.29L303.2 160.71L303.26 160.54L303.3 204L303.32 160.41L303.38 160.01L303.44 159.72L303.5 160.54L303.55 209.93L303.56 160.66L303.62 160.81L303.68 160.37L303.74 159.8L303.8 210.22L303.8 160.26L303.86 160.62L303.92 160.88L303.98 160.95L304.04 159.81L304.05 202.91L304.1 159.76L304.16 160.42L304.22 159.87L304.28 160.08L304.3 193.2L304.34 160.05L304.4 159.7L304.46 160.28L304.52 160.31L304.55 192.78L304.58 159.53L304.64 159.52L304.7 160.2L304.76 160.27L304.8 190.84L304.82 160.83L304.88 160.16L304.94 160.91L305 160.56L305.05 190.92L305.06 160.51L305.12 159.5L305.18 160.6L305.24 160.26L305.3 192.91L305.3 160.97L305.36 160.34L305.42 159.51L305.48 160.58L305.54 160.99L305.55 191.21L305.6 160L305.66 159.77L305.72 160.79L305.78 160.5L305.8 203.17L305.84 161.03L305.9 159.72L305.96 160.36L306.02 159.86L306.05 210.28L306.08 159.48L306.14 160.15L306.2 159.87L306.26 160.17L306.3 210.42L306.32 160.84L306.38 160.04L306.44 160.49L306.5 159.9L306.55 203.32L306.56 160.45L306.62 161.08L306.68 160.06L306.74 160.07L306.8 183.89L306.8 160.94L306.86 159.57L306.92 160.64L306.98 160.31L307.04 160.01L307.05 184.46L307.1 160.31L307.16 159.99L307.22 160.04L307.28 161.13L307.3 184.99L307.34 160.26L307.4 161.2L307.46 160L307.52 160.14L307.55 184.58L307.58 160.21L307.64 160.63L307.7 160.49L307.76 159.83L307.8 185.31L307.82 160.99L307.88 160.66L307.94 160.34L308 160.59L308.05 183.86L308.06 160.63L308.12 160.6L308.18 160.57L308.24 160.28L308.3 185.16L308.3 160.61L308.36 160.17L308.42 159.93L308.48 160.52L308.54 159.75L308.55 203.42L308.6 160.32L308.66 160.54L308.72 159.86L308.78 159.69L308.8 202.82L308.84 160.64L308.9 159.86L308.96 160.57L309.02 160.11L309.05 210.18L309.08 160.36L309.14 160.01L309.2 160.89L309.26 161.12L309.3 209.92L309.32 160.98L309.38 160.94L309.44 160.85L309.5 160.53L309.55 203.17L309.56 160.61L309.62 160.04L309.68 159.65L309.74 160.73L309.8 187.36L309.8 160.45L309.86 160.33L309.92 160.15L309.98 160.95L310.04 159.8L310.05 185.58L310.1 160.37L310.16 160.4L310.22 159.98L310.28 159.68L310.3 186.79L310.34 160.6L310.4 160.34L310.46 159.82L310.52 159.62L310.55 187.81L310.58 159.91L310.64 159.9L310.7 160.79L310.76 160.14L310.8 187.83L310.82 160.73L310.88 160.05L310.94 159.99L311 197.25L311 160.62L311.05 186.4L311.06 159.68L311.12 159.85L311.18 160.86L311.24 159.7L311.3 185.88L311.3 159.83L311.36 159.7L311.42 160.87L311.48 160.36L311.54 159.79L311.55 187.75L311.6 159.58L311.66 160.34L311.72 159.91L311.78 160.18L311.8 186.36L311.84 160.13L311.9 160.31L311.96 160.49L312.02 159.44L312.05 187.33L312.08 159.61L312.14 161.15L312.2 161.01L312.26 160.64L312.3 202.62L312.32 160.69L312.38 160.88L312.44 160.57L312.5 160.35L312.55 203.48L312.56 160.25L312.62 159.86L312.68 160.07L312.74 160.81L312.8 190.61L312.8 160L312.86 160.02L312.92 160.51L312.98 159.23L313.04 160.62L313.05 191.74L313.1 160.4L313.16 160.15L313.22 160.86L313.28 160.72L313.3 192.83L313.34 160.9L313.4 159.55L313.46 159.68L313.52 159.59L313.55 191.41L313.58 160.77L313.64 160.27L313.7 160.28L313.76 160.94L313.8 191.58L313.82 160.79L313.88 160.28L313.94 160.81L314 160.3L314.05 191.91L314.06 160.21L314.12 160.95L314.18 159.84L314.24 160.38L314.3 192.76L314.3 159.9L314.36 159.79L314.42 159.71L314.48 160.88L314.54 160.46L314.55 190.7L314.6 159.98L314.66 159.55L314.72 160.41L314.78 160.52L314.8 196.12L314.84 160.95L314.9 160.88L314.96 159.35L315.02 159.82L315.08 159.9L315.09 195.69L315.14 160.86L315.2 159.92L315.26 159.86L315.32 160.54L315.38 159.87L315.38 194.54L315.44 159.55L315.5 160.49L315.56 160.72L315.57 194.59L315.62 160.52L315.68 160.02L315.74 159.46L315.8 159.51L315.86 159.68L315.91 193.82L315.92 160.11L315.98 160.74L316.04 160.45L316.1 164.91L316.1 160.71L316.16 159.97L316.22 161L316.28 159.79L316.34 160.06L316.4 164.35L316.4 160L316.46 160.03L316.52 160.21L316.58 160.61L316.6 191.38L316.64 159.74L316.7 165.9L316.7 159.49L316.76 161.01L316.82 160.59L316.88 160.96L316.94 159.98L317 166.39L317 160.42L317.06 160.81L317.12 159.78L317.18 160.7L317.24 159.86L317.3 165.1L317.3 159.66L317.36 160.95L317.4 191.34L317.42 160.29L317.48 160.12L317.54 160.52L317.6 164.1L317.6 160.54L317.66 159.56L317.72 160.64L317.78 159.79L317.84 160.12L317.9 164.66L317.9 159.89L317.96 160.74L318.02 159.92L318.08 160.54L318.14 160.64L318.2 164.83L318.2 160.96L318.26 160.15L318.32 160.83L318.38 159.86L318.44 160.26L318.5 164.72L318.5 160.54L318.56 159.63L318.62 159.95L318.68 160.62L318.7 183.2L318.74 160.89L318.8 165.53L318.8 160.12L318.86 160.55L318.92 159.59L318.98 160.23L319.04 160.81L319.1 166.75L319.1 160.27L319.16 161.01L319.22 160.85L319.28 160.77L319.34 159.75L319.4 166.7L319.4 160.5L319.46 159.98L319.5 182.29L319.52 159.63L319.58 160.23L319.64 160.58L319.7 163.83L319.7 161.02L319.76 159.6L319.82 160.81L319.88 159.83L319.94 161.29L320 165.81L320 159.47L320.06 160.16L320.12 160.06L320.18 160.29L320.24 160.64L320.3 164.63L320.3 160.55L320.36 159.9L320.42 160.47L320.48 160.12L320.54 160.86L320.6 166.22L320.6 159.64L320.66 160.24L320.72 160.33L320.78 160.85L320.8 181.54L320.84 161L320.9 165.65L320.9 159.56L320.96 159.78L321.02 161.12L321.08 160.24L321.14 159.71L321.2 165.63L321.2 160.29L321.26 159.71L321.32 159.22L321.38 160.32L321.44 160.87L321.5 165.5L321.5 160.56L321.56 159.43L321.6 181.48L321.62 160.49L321.68 160.62L321.74 160.37L321.8 166.45L321.8 159.69L321.86 160.05L321.92 161L321.98 160.65L322.04 160.24L322.1 165.75L322.1 159.79L322.16 160.17L322.22 160.86L322.28 160.84L322.34 160.48L322.4 165.34L322.4 159.89L322.46 159.91L322.52 160.32L322.58 160.13L322.64 160.45L322.7 165.47L322.7 160.7L322.76 160.23L322.8 175.89L322.82 159.91L322.88 160.55L322.94 159.27L323 165.32L323 160.05L323.06 160.53L323.12 159.92L323.18 160.77L323.24 160.68L323.3 165.37L323.3 160.51L323.36 160.62L323.42 160.61L323.48 159.42L323.54 160.79L323.6 175.67L323.6 165.89L323.6 160.2L323.66 159.79L323.72 160.69L323.78 160.06L323.84 160.16L323.9 164.24L323.9 159.85L323.96 159.78L324.02 159.78L324.08 160.05L324.14 160.2L324.2 165.28L324.2 160.69L324.26 159.58L324.32 160.15L324.38 160.12L324.44 159.89L324.5 166.29L324.5 159.58L324.56 159.46L324.62 160.11L324.68 160.42L324.74 160.4L324.8 164.54L324.8 159.86L324.86 159.77L324.92 160.02L324.98 159.95L325.04 160.83L325.1 164.14L325.1 160.8L325.16 160.11L325.22 159.61L325.28 160.73L325.3 177.08L325.34 159.62L325.4 164.76L325.4 160.1L325.46 160.45L325.52 160.08L325.58 159.37L325.64 159.38L325.7 166.2L325.7 159.22L325.76 160.04L325.82 159.6L325.88 160.19L325.94 159.54L326 166.69L326 159.94L326.06 159.99L326.1 176.43L326.12 161.11L326.18 160.48L326.24 160.06L326.3 166L326.3 160.75L326.36 160.16L326.42 160.45L326.48 160.32L326.54 160.12L326.6 165.94L326.6 160.55L326.66 159.99L326.72 159.77L326.78 160.29L326.84 160.79L326.9 165.93L326.9 160.29L326.96 160.74L327.02 159.94L327.08 159.6L327.14 160.87L327.2 165.89L327.2 160.31L327.26 160.14L327.32 160.83L327.38 159.61L327.44 160.44L327.5 164.71L327.5 160.44L327.56 160.53L327.62 160.15L327.68 159.93L327.74 160.27L327.8 166.05L327.8 160.43L327.86 160.81L327.9 173.8L327.92 159.73L327.98 160.81L328.04 160.24L328.1 165.36L328.1 159.89L328.16 160.97L328.22 160.79L328.28 160.27L328.34 160.46L328.4 164.23L328.4 160.72L328.46 159.27L328.52 161.07L328.58 160.61L328.64 160.79L328.7 173.69L328.7 165.8L328.7 160.69L328.76 159.57L328.82 160.37L328.88 160.18L328.94 159.84L329 166.67L329 159.95L329.06 159.61L329.12 160.5L329.18 160.26L329.24 161.09L329.3 165.21L329.3 160.04L329.36 160.5L329.42 160.96L329.48 159.92L329.54 159.63L329.6 164.83L329.6 160.1L329.66 159.96L329.72 159.59L329.78 160.38L329.84 159.69L329.9 165.4L329.9 160.45L329.96 160.22L330.02 160.8L330.08 160.94L330.1 176.12L330.14 160.44L330.2 166.54L330.2 160.35L330.26 160.73L330.32 159.84L330.38 159.97L330.44 160.89L330.5 163.88L330.5 161.01L330.56 161.08L330.62 160.93L330.68 159.88L330.74 160.58L330.8 166.33L330.8 160.36L330.86 160.22L330.9 176.51L330.92 159.74L330.98 160.41L331.04 160.61L331.1 165.35L331.1 160.29L331.16 160.55L331.22 161.07L331.28 159.62L331.34 160.32L331.4 166.1L331.4 161.36L331.46 159.75L331.5 177.13L331.52 159.87L331.58 160.7L331.64 159.65L331.7 165.02L331.7 160.27L331.76 159.87L331.82 160.51L331.88 160.96L331.94 159.91L332 165.88L332 161.04L332.06 161.29L332.12 160.46L332.18 160.61L332.24 159.77L332.3 177.79L332.3 163.96L332.3 159.65L332.36 160.61L332.42 160.83L332.48 160.29L332.54 160.71L332.6 165.82L332.6 159.55L332.66 160.53L332.72 160.29L332.78 159.84L332.84 159.57L332.9 165.77L332.9 161.13L332.96 160.57L333.02 160.25L333.08 159.88L333.14 159.79L333.2 165.21L333.2 160L333.26 160.05L333.32 159.91L333.38 160.03L333.44 160.76L333.5 165.89L333.5 159.66L333.56 160.88L333.62 161.47L333.68 160.71L333.74 160.23L333.8 166.17L333.8 160.49L333.86 160.2L333.92 160.05L333.98 160.56L334.04 160.75L334.1 172.2L334.1 165.71L334.1 160.16L334.16 160.85L334.22 159.7L334.28 159.9L334.34 160.54L334.4 164.98L334.4 160.48L334.46 160.13L334.52 159.79L334.58 159.8L334.64 160.12L334.7 163.75L334.7 160.44L334.76 160.89L334.82 159.36L334.88 160.48L334.9 171.68L334.94 160.45L335 164.48L335 159.92L335.06 159.74L335.12 160.44L335.18 160.19L335.24 159.69L335.3 164.06L335.3 160.39L335.36 161.01L335.42 159.58L335.48 159.43L335.54 160.1L335.6 163.79L335.6 161.02L335.66 160.85L335.72 160.97L335.78 160.24L335.8 170.65L335.84 159.67L335.9 166.59L335.9 160.01L335.96 160.93L336.02 161.12L336.08 159.91L336.14 160.48L336.2 165.01L336.2 159.67L336.26 160.24L336.32 160.51L336.38 160.4L336.44 159.8L336.5 165.02L336.5 159.71L336.56 160.95L336.6 169.49L336.62 159.73L336.68 159.97L336.74 160.76L336.8 164.7L336.8 160.91L336.86 160.89L336.92 159.89L336.98 160.24L337.04 161.16L337.1 163.99L337.1 160.61L337.16 159.99L337.22 160.9L337.28 160.62L337.34 160.72L337.4 165.67L337.4 160.77L337.46 160.93L337.52 160.2L337.58 160.77L337.6 169.73L337.64 160.46L337.7 163.99L337.7 160.92L337.76 160.4L337.82 160.72L337.88 160.74L337.94 159.83L338 166.31L338 161.05L338.06 160.76L338.12 160.4L338.18 160.39L338.24 161.11L338.3 164.71L338.3 160.51L338.36 159.7L338.4 170.83L338.42 160.88L338.48 160.45L338.54 161.27L338.6 166.73L338.6 160.31L338.66 161.07L338.72 160.53L338.78 161.12L338.84 160.13L338.9 164.47L338.9 160.78L338.96 160.78L339.02 160.25L339.08 161.28L339.14 160.48L339.2 164.26L339.2 160.9L339.26 160.83L339.32 160.05L339.38 161.08L339.44 160.95L339.5 164.73L339.5 160.91L339.56 159.95L339.62 160.89L339.68 161.26L339.74 161.05L339.8 164.23L339.8 160.38L339.86 160.1L339.92 160.48L339.98 161.21L340.04 160.96L340.1 166.55L340.1 160.49L340.16 160.08L340.22 159.98L340.28 161.07L340.3 166.23L340.34 160.03L340.4 163.91L340.4 160.23L340.46 160.49L340.52 160.4L340.58 160.44L340.64 160.83L340.7 165.77L340.7 161.23L340.76 160.96L340.82 161.61L340.88 160.04L340.94 160.88L341 165.82L341 159.98L341.06 160.41L341.1 165.63L341.12 160.39L341.18 160.61L341.24 159.99L341.3 166.74L341.3 160.54L341.36 161.26L341.42 160.42L341.48 160.16L341.54 160.38L341.6 164.21L341.6 160.22L341.66 160.28L341.72 160.53L341.78 161.14L341.84 160.81L341.9 166.29L341.9 160.18L341.96 160.65L342.02 159.94L342.08 160.17L342.14 159.96L342.2 160.06L342.26 159.9L342.32 160.81L342.38 161.06L342.44 160.01L342.5 160.89L342.56 160.03L342.62 160.24L342.68 159.78L342.74 161.41L342.8 160.8L342.86 160.17L342.92 161.34L342.98 160.02L343.04 160.31L343.1 160.41L343.16 161.37L343.22 160.01L343.28 161.12L343.34 160.17L343.4 160.39L343.46 161.08L343.52 159.99L343.58 161.07L343.64 160.46L343.7 160.2L343.76 159.79L343.82 159.79L343.88 159.64L343.94 161.16L344 159.73L344.06 159.99L344.12 160.03L344.18 160.64L344.24 160.79L344.3 160.08L344.36 160.62L344.42 160.49L344.48 159.86L344.54 160.88L344.6 160.75L344.66 160.78L344.72 159.96L344.78 159.71L344.84 161.03L344.9 161.15L344.96 159.94" fill="none" stroke="#000" stroke-width="1.5000" stroke-linejoin="round" stroke-linecap="square"/><path d="M35 160.44L35.06 161.08L35.12 160.42L35.18 160.95L35.24 160.11L35.3 160.62L35.36 159.84L35.42 160.99L35.48 160.58L35.54 159.66L35.6 160.01L35.66 160.9L35.72 161.14L35.78 160.05L35.84 159.78L35.9 160.7L35.96 159.95L36.02 160.4L36.08 159.76L36.14 160.47L36.2 161.08L36.26 161.1L36.32 159.76L36.38 161.03L36.44 160.34L36.5 160.11L36.56 160L36.62 160.32L36.68 160.81L36.74 159.83L36.8 160.32L36.86 159.6L36.92 160.07L36.98 160.13L37.04 160.25L37.1 160.94L37.16 160.16L37.22 160.39L37.28 161.11L37.34 159.99L37.4 159.66L37.46 159.99L37.52 160.95L37.58 160.51L37.64 160.45L37.7 160.75L37.76 160.1L37.82 159.91L37.88 160.52L37.94 160.47L38 160.58L38.06 160.63L38.12 160.17L38.18 159.85L38.24 160.07L38.3 159.72L38.36 160.05L38.42 159.93L38.48 159.86L38.54 160.41L38.6 159.9L38.66 159.62L38.72 160.7L38.78 160.45L38.84 161.08L38.9 159.72L38.96 159.65L39.02 161.08L39.08 160.48L39.14 160.65L39.2 160.82L39.26 160.57L39.32 159.49L39.38 160.49L39.44 160.2L39.5 159.73L39.56 160.14L39.62 160.67L39.68 160.52L39.74 159.9L39.8 160.59L39.86 160.27L39.92 159.83L39.98 160.73L40.04 160.57L40.1 159.94L40.16 160.87L40.22 160.44L40.28 161.09L40.34 160.91L40.4 160.07L40.46 160.46L40.52 160.11L40.58 160.51L40.64 159.86L40.7 160.6L40.76 160.83L40.82 160.94L40.88 159.5L40.94 160.68L41 160.63L41.06 160.39L41.12 160.67L41.18 159.54L41.24 160.53L41.3 161.01L41.36 160.13L41.42 159.82L41.48 160.59L41.54 160.38L41.6 160.72L41.66 159.63L41.72 159.49L41.78 161.01L41.84 160.71L41.9 160.57L41.96 160.14L42.02 159.93L42.08 159.83L42.14 159.96L42.2 160.19L42.26 159.78L42.32 160.18L42.38 159.74L42.44 160.35L42.5 159.91L42.56 160.05L42.62 160.64L42.68 160.99L42.74 159.68L42.8 160.96L42.86 159.8L42.92 159.91L42.98 160.76L43.04 159.89L43.1 160.21L43.16 159.73L43.22 159.45L43.28 161L43.34 160.53L43.4 159.59L43.46 160.05L43.52 160.87L43.58 159.96L43.64 160.75L43.7 160.17L43.76 161.18L43.82 160.2L43.88 159.74L43.94 160.48L44 160.79L44.06 159.82L44.12 159.95L44.18 159.74L44.24 159.56L44.3 160.4L44.36 159.64L44.42 160.6L44.48 160.63L44.54 159.98L44.6 160.37L44.66 160.31L44.72 159.31L44.78 160.33L44.84 159.59L44.9 160.06L44.96 159.86L45.02 159.64L45.08 160.83L45.14 160.39L45.2 159.71L45.26 160.17L45.32 160.56L45.38 160.03L45.44 159.46L45.5 159.89L45.56 159.46L45.62 160.43L45.68 159.38L45.74 159.44L45.8 159.75L45.86 159.84L45.92 159.77L45.98 160.14L46.04 160.52L46.1 159.54L46.16 160.57L46.22 159.86L46.28 160.04L46.34 159.32L46.4 159.38L46.46 160.11L46.52 160.05L46.58 160.4L46.64 160.17L46.7 159.41L46.76 160.42L46.82 159.88L46.88 159.36L46.94 160.28L47 159.89L47.06 159.22L47.12 160.2L47.18 160L47.24 159.62L47.3 159.54L47.36 159.69L47.42 159.45L47.48 160.48L47.54 160.53L47.6 160.02L47.66 159.36L47.72 160.39L47.78 159.84L47.84 160.41L47.9 159.45L47.96 159.27L48.02 159.27L48.08 159.14L48.14 159.84L48.2 159.47L48.26 159.32L48.32 160.58L48.38 160.72L48.44 159.74L48.5 159.88L48.56 160.41L48.62 159.84L48.68 159.67L48.74 160.12L48.8 160.81L48.86 159.02L48.92 159.96L48.98 160.49L49.04 159.37L49.1 159.77L49.16 160.22L49.22 159.54L49.28 160.57L49.34 159.72L49.4 159.29L49.46 160.02L49.52 160.64L49.58 160.23L49.64 160.24L49.7 160.36L49.76 159.49L49.82 159.72L49.88 160.16L49.94 159.87L50 160.97L50.06 160.61L50.12 160.83L50.18 160.37L50.24 160.64L50.3 160.23L50.36 160.47L50.42 161.11L50.48 160.75L50.54 160.26L50.6 160.28L50.66 160.53L50.72 160.3L50.78 159.25L50.84 160.41L50.9 160.33L50.96 160.46L51.02 159.82L51.08 161.01L51.14 160.6L51.2 159.71L51.26 160.24L51.32 160.48L51.38 160.71L51.44 161.04L51.5 160.31L51.56 159.53L51.62 159.77L51.68 161.15L51.74 159.85L51.8 159.89L51.86 160.61L51.92 160.7L51.98 159.46L52.04 160.7L52.1 159.71L52.16 160.56L52.22 160.19L52.28 159.9L52.34 159.69L52.4 159.61L52.46 160.85L52.52 159.65L52.58 159.59L52.64 161.04L52.7 160.57L52.76 159.75L52.82 160.33L52.88 160.84L52.94 159.54L53 159.49L53.06 160.77L53.12 159.81L53.18 160.28L53.24 159.97L53.3 160.8L53.36 159.65L53.42 159.47L53.48 160.89L53.54 159.52L53.6 160.41L53.66 160.82L53.72 159.9L53.78 160.03L53.84 160L53.9 160.79L53.96 159.69L54.02 160.27L54.08 159.89L54.14 160.4L54.2 159.57L54.26 159.82L54.32 159.52L54.38 159.41L54.44 159.87L54.5 159.6L54.56 160.6L54.62 160.6L54.68 159.72L54.74 159.93L54.8 159.69L54.86 160.34L54.92 160.52L54.98 160.23L55.04 159.41L55.1 159.97L55.16 160.21L55.22 160.06L55.28 159.76L55.34 160.56L55.4 159.64L55.46 160.23L55.52 159.64L55.58 159.41L55.64 159.74L55.7 160.66L55.76 160.07L55.82 160.67L55.88 160.04L55.94 160.26L56 160.25L56.06 160.68L56.12 160.82L56.18 159.57L56.24 159.38L56.3 159.61L56.36 159.73L56.42 160.1L56.48 160.84L56.54 160.56L56.6 159.69L56.66 159.14L56.72 159.88L56.78 160.13L56.84 159.52L56.9 160.33L56.96 160.12L57.02 159.14L57.08 160.73L57.14 159.96L57.2 160.43L57.26 160.46L57.32 159.26L57.38 159.66L57.44 159.85L57.5 160.55L57.56 159.75L57.62 160.11L57.68 160.79L57.74 160.18L57.8 160.25L57.86 159.55L57.92 160.15L57.98 160.34L58.04 160.48L58.1 160.17L58.16 160.73L58.22 159.77L58.28 160.58L58.34 159.74L58.4 159.32L58.46 159.65L58.52 160.19L58.58 160L58.64 160.1L58.7 160.29L58.76 160.2L58.82 159.22L58.88 160.09L58.94 160.31L59 160.33L59.06 160.17L59.12 160.29L59.18 160.33L59.24 160.14L59.3 159.91L59.36 159.63L59.42 159.79L59.48 160.15L59.54 159.7L59.6 160.66L59.66 160.06L59.72 159.75L59.78 159.75L59.84 159.45L59.9 160.81L59.96 160.09L60.02 159.54L60.08 160.36L60.14 160.35L60.2 160.17L60.26 159.72L60.32 160.63L60.38 159.53L60.44 159.94L60.5 160.2L60.56 160.32L60.62 159.59L60.68 160.91L60.74 160.85L60.8 160.39L60.86 160.76L60.92 160.54L60.98 160.75L61.04 159.69L61.1 160.04L61.16 160.29L61.22 160.53L61.28 160.84L61.34 160.35L61.4 160.76L61.46 159.74L61.52 160.08L61.58 161.05L61.64 159.64L61.7 160.5L61.76 161.15L61.82 159.95L61.88 159.81L61.94 160.37L62 160.32L62.06 160.08L62.12 159.48L62.18 160.22L62.24 159.51L62.3 160.17L62.36 160.65L62.42 160.25L62.48 159.8L62.54 160.69L62.6 160.65L62.66 160.8L62.72 160.86L62.78 160.37L62.84 160.41L62.9 160.15L62.96 160.2L63.02 159.74L63.08 160.88L63.14 159.89L63.2 159.83L63.26 160.8L63.32 160.64L63.38 160.75L63.44 160.21L63.5 160.08L63.56 160.62L63.62 160.09L63.68 160.7L63.74 160.1L63.8 160.01L63.86 160.69L63.92 160.86L63.98 160.07L64.04 160.81L64.1 159.84L64.16 160L64.22 160.53L64.28 159.96L64.34 160.49L64.4 160.13L64.46 160.49L64.52 159.67L64.58 160.21L64.64 160.1L64.7 160.02L64.76 160.68L64.82 159.8L64.88 161.31L64.94 160.18L65 159.8L65.06 159.82L65.12 159.59L65.18 159.91L65.24 159.69L65.3 159.86L65.36 160.14L65.42 160.43L65.48 160.78L65.54 159.85L65.6 160.44L65.66 159.85L65.72 160.88L65.78 160.9L65.84 160.06L65.9 160.25L65.96 160.35L66.02 160.42L66.08 160.82L66.14 160.39L66.2 160.61L66.26 160.43L66.32 160.01L66.38 160.22L66.44 160.29L66.5 160.38L66.56 160.99L66.62 161.14L66.68 160.2L66.74 160.53L66.8 160.41L66.86 160.69L66.92 160.3L66.98 160.14L67.04 160.95L67.1 160.2L67.16 161.01L67.22 161.02L67.28 159.9L67.34 160.77L67.4 160.98L67.46 160.44L67.52 161.01L67.58 160.57L67.64 161.07L67.7 159.95L67.76 160.48L67.82 160.62L67.88 160.43L67.94 159.86L68 160.93L68.06 161.11L68.12 160.3L68.18 160.59L68.24 160.51L68.3 160.35L68.36 159.72L68.42 159.91L68.48 159.85L68.54 160.8L68.6 160.46L68.66 159.99L68.72 161.22L68.78 160.04L68.84 160.05L68.9 160.5L68.96 159.99L69.02 160.32L69.08 160.75L69.14 159.96L69.2 160.02L69.26 161.17L69.32 159.73L69.38 161.37L69.44 160.25L69.5 160.39L69.56 160.16L69.62 159.47L69.68 160.76L69.74 160.67L69.8 159.92L69.86 160.59L69.92 161L69.98 160.53L70.04 161.02L70.1 160.63L70.16 159.89L70.22 159.91L70.28 159.94L70.34 161.16L70.4 160.09L70.46 160.55L70.52 160.31L70.58 160.53L70.64 160.99L70.7 159.84L70.76 160.17L70.82 160.21L70.88 160.61L70.94 160.83L71 160.49L71.06 159.71L71.12 159.88L71.18 160.99L71.24 160.07L71.3 160.11L71.36 160.57L71.42 160.52L71.48 159.56L71.54 160.26L71.6 159.99L71.66 160.74L71.72 160.44L71.78 160.51L71.84 160.5L71.9 160.7L71.96 160.28L72.02 160.97L72.08 160.42L72.14 160.5L72.2 160.08L72.26 160.75L72.32 160.54L72.38 160.59L72.44 159.66L72.5 160.8L72.56 160.66L72.62 159.69L72.68 160.36L72.74 159.91L72.8 160.72L72.86 160.74L72.92 159.99L72.98 160.79L73.04 160.86L73.1 160.53L73.16 160.07L73.22 160.69L73.28 160.89L73.34 160.18L73.4 160.19L73.46 160.06L73.52 160.16L73.58 160.6L73.64 159.6L73.7 160.39L73.76 159.41L73.82 160.04L73.88 160.14L73.94 160.18L74 160.86L74.06 160.22L74.12 160.72L74.18 159.55L74.24 160.17L74.3 160.05L74.36 159.8L74.42 159.65L74.48 160.5L74.54 159.51L74.6 159.74L74.66 160.74L74.72 160.3L74.78 160.24L74.84 160.21L74.9 159.87L74.96 160.65L75.02 159.88L75.08 159.89L75.14 160.33L75.2 160.93L75.26 160.54L75.32 160.33L75.38 159.7L75.44 160.37L75.5 160.6L75.56 160.91L75.62 159.86L75.68 160.29L75.74 160.14L75.8 159.75L75.86 160.05L75.92 160.73L75.98 160.7L76.04 160.14L76.1 159.86L76.16 160.61L76.22 160.57L76.28 160.69L76.34 161.01L76.4 159.88L76.46 160.39L76.52 160.23L76.58 159.72L76.64 161.18L76.7 160.71L76.76 161.08L76.82 161.12L76.88 160.45L76.94 160.66L77 160.08L77.06 160.78L77.12 160.54L77.18 160.06L77.24 161.03L77.3 160.34L77.36 161.1L77.42 159.82L77.48 159.84L77.54 161.11L77.6 159.67L77.66 160.3L77.72 160.23L77.78 159.95L77.84 160.48L77.9 160.57L77.96 160.75L78.02 160.33L78.08 161.08L78.14 160.2L78.2 160.24L78.26 160.23L78.32 160.15L78.38 160.92L78.44 160.15L78.5 160.73L78.56 159.75L78.62 160.8L78.68 160.87L78.74 160.33L78.8 161.25L78.86 160.13L78.92 159.77L78.98 160.41L79.04 160.94L79.1 160.78L79.16 161.05L79.22 160.33L79.28 159.86L79.34 161.03L79.4 161.39L79.46 160.68L79.52 160.26L79.58 161.22L79.64 160.85L79.7 160.5L79.76 160.5L79.82 161.07L79.88 160.43L79.94 161.15L80 160.96L80.06 160.48L80.12 159.84L80.18 160.86L80.24 160.97L80.3 160.75L80.36 161.15L80.42 160.91L80.48 160.72L80.54 160.75L80.6 160.51L80.66 161.18L80.72 160.08L80.78 160.27L80.84 160.31L80.9 160.77L80.96 160L81.02 160.74L81.08 160.6L81.14 160.02L81.2 160.46L81.26 160.72L81.32 160.33L81.38 160.09L81.44 160.58L81.5 160.4L81.56 160.39L81.62 160.88L81.68 160.98L81.74 159.76L81.8 159.67L81.86 160.8L81.92 159.79L81.98 160.64L82.04 160.4L82.1 160.57L82.16 160.48L82.22 160.61L82.28 160.63L82.34 159.77L82.4 160.19L82.46 160.76L82.52 160.43L82.58 160.21L82.64 159.66L82.7 160.87L82.76 160.26L82.82 159.86L82.88 159.74L82.94 160.74L83 160.19L83.06 159.75L83.12 160.38L83.18 159.79L83.24 160.34L83.3 160.5L83.36 160.88L83.42 159.83L83.48 160.13L83.54 161.1L83.6 160.58L83.66 160.49L83.72 160.45L83.78 159.35L83.84 159.5L83.9 159.84L83.96 159.78L84.02 159.5L84.08 160.78L84.14 160.08L84.2 159.7L84.26 159.57L84.32 159.95L84.38 160.76L84.44 160.37L84.5 160.79L84.56 159.59L84.62 159.79L84.68 160.18L84.74 160.61L84.8 159.35L84.86 159.66L84.92 159.57L84.98 159.87L85.04 159.47L85.1 160.69L85.16 161.06L85.22 159.71L85.28 159.78L85.34 160.37L85.4 159.85L85.46 161.07L85.52 160.93L85.58 159.47L85.64 159.56L85.7 160.75L85.76 160.06L85.82 160.27L85.88 159.92L85.94 160.42L86 159.97L86.06 160.97L86.12 159.78L86.18 160.05L86.24 160.16L86.3 160.67L86.36 160.66L86.42 160.08L86.48 160.66L86.54 159.94L86.6 161.11L86.66 160.68L86.72 160.78L86.78 161.51L86.84 160.29L86.9 159.85L86.96 160.65L87.02 160.9L87.08 160.03L87.14 160.91L87.2 159.76L87.26 160.42L87.32 160.2L87.38 160.82L87.44 160.33L87.5 160.58L87.56 160.36L87.62 159.89L87.68 160.38L87.74 160.51L87.8 160.68L87.86 160.99L87.92 160.7L87.98 159.79L88.04 160.27L88.1 160.3L88.16 159.69L88.22 160.84L88.28 160.67L88.34 160.69L88.4 160.41L88.46 160.7L88.52 160.26L88.58 161.06L88.64 160.37L88.7 159.91L88.76 159.98L88.82 160.12L88.88 160.53L88.94 160.89L89 160.58L89.06 160.46L89.12 159.89L89.18 160.01L89.24 160.87L89.3 160.22L89.36 159.92L89.42 160L89.48 160.47L89.54 160.5L89.6 159.67L89.66 159.81L89.72 160.59L89.78 159.43L89.84 159.49L89.9 159.58L89.96 159.6L90.02 160.76L90.08 160.19L90.14 159.53L90.2 159.7L90.26 159.68L90.32 160.26L90.38 160.64L90.44 159.73L90.5 160.44L90.56 160.51L90.62 159.62L90.68 160.39L90.74 159.71L90.8 160.57L90.86 160.77L90.92 160.5L90.98 159.69L91.04 160.49L91.1 159.37L91.16 160.16L91.22 160.88L91.28 160.59L91.34 159.55L91.4 160.64L91.46 160.54L91.52 160.18L91.58 160.71L91.64 160.49L91.7 159.77L91.76 159.54L91.82 159.94L91.88 160.02L91.94 160.61L92 160.29L92.06 159.91L92.12 159.99L92.18 159.5L92.24 160.15L92.3 159.33L92.36 160.12L92.42 160.03L92.48 159.6L92.54 159.22L92.6 160.53L92.66 159.69L92.72 159.28L92.78 159.92L92.84 159.34L92.9 159.42L92.96 160.31L93.02 160.15L93.08 160.21L93.14 159.68L93.2 160.76L93.26 159.9L93.32 160.53L93.38 160.7L93.44 159.68L93.5 160.26L93.56 159.91L93.62 159.3L93.68 160.45L93.74 160.05L93.8 159.51L93.86 160.09L93.92 159.53L93.98 160.24L94.04 160.11L94.1 159.3L94.16 159.93L94.22 159.71L94.28 159.44L94.34 159.97L94.4 159.75L94.46 159.83L94.52 160.09L94.58 160.63L94.64 159.54L94.7 160.02L94.76 159.86L94.82 160.4L94.88 159.83L94.94 159.67L95 159.43L95.06 159.91L95.12 159.24L95.18 160.29L95.24 159.62L95.3 160.29L95.36 159.61L95.42 160.66L95.48 160.59L95.54 159.16L95.6 159.86L95.66 160.79L95.72 160.69L95.78 160.75L95.84 159.43L95.9 159.92L95.96 159.45L96.02 159.79L96.08 159.41L96.14 160.32L96.2 159.43L96.26 160.26L96.32 159.74L96.38 160.24L96.44 160.14L96.5 159.31L96.56 160.65L96.62 160.47L96.68 160.37L96.74 160.39L96.8 159.42L96.86 159.48L96.92 159.19L96.98 160.29L97.04 159.65L97.1 160.04L97.16 159.73L97.22 159.93L97.28 159.36L97.34 159.76L97.4 160.8L97.46 159.81L97.52 160.02L97.58 159.58L97.64 160.12L97.7 160.2L97.76 160.26L97.82 160.34L97.88 159.95L97.94 159.95L98 159.69L98.06 160.6L98.12 159.54L98.18 160.58L98.24 159.83L98.3 160.11L98.36 159.33L98.42 159.43L98.48 159.6L98.54 160.51L98.55 155.98L98.6 159.81L98.66 159.51L98.72 159.78L98.78 159.78L98.84 159.85L98.9 160.51L98.96 160.19L99.02 159.51L99.08 159.66L99.14 159.65L99.2 160.01L99.26 160.54L99.32 160.41L99.38 160.38L99.44 159.62L99.5 160.11L99.56 159.47L99.62 160.02L99.68 159.6L99.74 159.46L99.8 160.68L99.86 159.97L99.92 160.14L99.98 159.41L100.04 159.39L100.1 160.61L100.16 160.11L100.22 159.94L100.28 160.19L100.34 160.21L100.4 160.07L100.46 160.82L100.52 160.18L100.58 160.68L100.64 160.52L100.7 159.63L100.76 160.73L100.82 160.02L100.88 159.57L100.94 160.6L101 160.44L101.06 160.39L101.12 159.36L101.18 160.15L101.24 160.47L101.3 159.24L101.36 159.83L101.42 159.59L101.48 160.53L101.54 160.05L101.6 159.63L101.66 160.12L101.72 160.39L101.78 160.56L101.84 160.1L101.9 160.41L101.96 160.18L102.02 160.58L102.08 160.81L102.14 159.87L102.2 159.26L102.26 160.45L102.32 159.99L102.38 160.15L102.44 159.71L102.5 159.88L102.56 160.14L102.62 160.79L102.68 160.85L102.74 160.05L102.8 160.65L102.86 160.44L102.92 160.51L102.98 159.92L103.04 160.64L103.1 159.8L103.16 159.65L103.22 159.85L103.28 160.35L103.34 160.78L103.4 159.52L103.46 160.06L103.52 159.68L103.58 160.28L103.64 160.5L103.7 160.79L103.76 160.39L103.82 160.95L103.88 159.67L103.94 159.24L104 159.93L104.06 159.44L104.12 160.93L104.18 160.22L104.24 160.08L104.3 160.07L104.36 160.91L104.42 159.69L104.48 159.3L104.54 160.41L104.6 160.34L104.66 159.82L104.72 160.32L104.78 160.01L104.84 159.44L104.9 159.67L104.96 160.69L105.02 160.44L105.08 159.76L105.14 159.58L105.2 160.44L105.26 160.74L105.32 159.95L105.38 160.64L105.44 160.6L105.5 160.38L105.56 160.87L105.62 159.85L105.68 159.79L105.74 160.34L105.8 160.08L105.86 160.68L105.92 160.54L105.98 160.5L106.04 160.65L106.1 160.31L106.16 160.5L106.22 161.08L106.28 160.17L106.34 160.01L106.4 160.34L106.46 160.18L106.52 160.43L106.58 160.97L106.64 159.38L106.7 159.46L106.76 160.35L106.82 160.13L106.88 160.33L106.94 159.58L107 159.83L107.06 159.68L107.12 160.17L107.18 159.93L107.24 159.84L107.3 159.71L107.36 160.74L107.42 159.78L107.48 160.09L107.54 159.51L107.6 160.59L107.66 160.19L107.72 160.45L107.78 160.05L107.84 160.8L107.9 159.79L107.96 160.67L108.02 160.45L108.08 161.14L108.14 159.88L108.2 160.06L108.26 160.03L108.32 159.82L108.38 159.74L108.44 160.32L108.5 160.89L108.56 161.09L108.62 159.97L108.68 160.94L108.74 160.19L108.8 160.78L108.86 160.15L108.92 160.76L108.98 161.03L109.04 160.23L109.1 161.01L109.16 161.08L109.22 160.45L109.28 161.14L109.34 160.42L109.4 161.66L109.46 160.72L109.52 160.42L109.58 160.68L109.64 161.42L109.7 161.68L109.76 160.85L109.82 161.03L109.88 160.75L109.94 160.27L110 161.11L110.06 160.62L110.12 160.65L110.18 161.37L110.24 160.81L110.3 161.8L110.36 160.94L110.42 161.68L110.48 161.32L110.54 161.42L110.6 161.09L110.66 162.12L110.72 161.27L110.78 161.36L110.84 162.01L110.9 162.06L110.96 161L111.02 161.74L111.08 161.45L111.14 161.3L111.2 162.13L111.26 162.33L111.32 162.58L111.38 162.64L111.44 161.55L111.5 162.75L111.56 162.75L111.62 162.01L111.68 162.91L111.74 162.5L111.8 161.88L111.86 161.78L111.92 161.98L111.98 162.21L112.04 162.83L112.1 163.02L112.16 162.22L112.22 162.67L112.28 163.42L112.34 163.07L112.4 162.48L112.46 163.11L112.52 162.73L112.58 163.39L112.64 163.7L112.7 163.82L112.76 164.13L112.82 163.9L112.88 162.69L112.94 163.02L113 163.42L113.06 163.98L113.12 163.26L113.18 163.35L113.24 164.08L113.3 163.97L113.36 163.61L113.42 163.08L113.48 163.55L113.54 163.72L113.6 163.71L113.66 164.27L113.72 165.07L113.78 164.68L113.84 163.97L113.9 164.56L113.96 164.1L114.02 163.95L114.08 164.23L114.14 165.05L114.2 164.96L114.26 164.05L114.32 165.44L114.38 164.69L114.44 164.81L114.5 165.29L114.56 165.54L114.62 164.54L114.68 165.15L114.74 165.51L114.8 165.97L114.86 165.78L114.92 166.15L114.98 166.33L115.04 166.13L115.1 166.43L115.16 165.75L115.22 166.69L115.28 166.65L115.34 166.76L115.4 165.58L115.46 166.78L115.52 166.05L115.58 165.97L115.64 166.82L115.7 166.06L115.76 167.36L115.82 166.63L115.88 166.98L115.94 166.8L116 166.49L116.06 167.88L116.12 167.99L116.18 167.4L116.24 167.99L116.3 167.39L116.36 168.34L116.42 168.13L116.48 167.75L116.54 167.57L116.6 168.04L116.66 167.79L116.72 168.79L116.78 168.74L116.84 168.86L116.9 169.4L116.96 169.09L117.02 168.89L117.08 169.78L117.14 170.11L117.2 170.02L117.26 169.86L117.32 169.87L117.38 169.4L117.44 170.86L117.5 171.12L117.56 170.77L117.62 170.55L117.68 170.59L117.74 171.03L117.8 170.52L117.86 171.88L117.92 171.93L117.98 171.83L118.04 171.19L118.1 171.89L118.16 172.72L118.22 173.19L118.28 172.94L118.34 172.37L118.4 172.68L118.46 172.81L118.52 173.93L118.58 174.72L118.64 174.48L118.7 174.71L118.76 174.02L118.82 174.93L118.88 174.5L118.94 175.46L119 175.9L119.06 175.87L119.12 175.64L119.18 175.57L119.24 175.99L119.3 176.2L119.36 177.07L119.42 176.46L119.48 177.12L119.54 176.88L119.6 177.58L119.66 178.26L119.72 178.46L119.78 178.76L119.84 179.42L119.9 180.59L119.96 180.19L120.02 179.97L120.08 180.81L120.14 181.58L120.2 181.4L120.26 182.75L120.32 183.2L120.38 183.02L120.44 183.57L120.5 183.96L120.56 184.81L120.62 185.31L120.68 186.16L120.74 186.55L120.8 187.43L120.86 188.94L120.9 188.82L120.92 187.71L120.98 187.48L121.04 187.35L121.1 186.08L121.16 185.93L121.22 184.78L121.28 185.11L121.34 183.05L121.4 183.03L121.46 182.72L121.52 182.74L121.58 182.59L121.64 181.41L121.7 181.88L121.76 179.76L121.82 179.6L121.88 180.44L121.94 179.1L122 178.4L122.06 179.21L122.12 178.42L122.18 178.74L122.24 177.74L122.3 176.99L122.36 177.58L122.42 177.39L122.48 176.98L122.54 176.9L122.6 176.16L122.66 175.93L122.72 175.3L122.78 175.92L122.84 175.64L122.9 174.25L122.96 174.27L123.02 174.42L123.08 174.25L123.14 174.71L123.2 173.63L123.26 173.44L123.32 173.42L123.38 172.53L123.44 173.3L123.5 172.6L123.56 172.97L123.62 171.87L123.68 172.06L123.74 171.26L123.8 171.77L123.86 170.98L123.92 171.39L123.98 171.96L124.04 171.02L124.1 170.89L124.16 170.36L124.22 171.25L124.28 170.37L124.34 169.74L124.4 170.89L124.46 170.13L124.52 169.77L124.58 169L124.64 169.57L124.7 168.67L124.76 168.6L124.82 169.01L124.88 168.43L124.94 168.94L125 169.16L125.06 168.18L125.12 167.91L125.18 167.47L125.24 168.57L125.3 168.52L125.36 167.84L125.42 168.23L125.48 168L125.54 167.19L125.6 167.56L125.66 167.17L125.72 166.54L125.78 167.07L125.84 167.15L125.9 167.49L125.96 166.69L126.02 167.68L126.08 167.37L126.14 165.46L126.2 166.72L126.26 165.97L126.32 166.2L126.38 166.86L126.44 165.69L126.5 165.85L126.56 166.71L126.62 165.27L126.68 166.33L126.74 165.64L126.8 165.72L126.86 165.4L126.92 164.86L126.98 165.96L127.04 164.88L127.1 164.76L127.16 165.59L127.22 166.3L127.28 165.68L127.34 165.99L127.4 165.31L127.46 164.22L127.52 165.56L127.58 164.97L127.64 165.52L127.7 165.12L127.76 164.18L127.82 163.71L127.88 163.45L127.94 164.92L128 163.53L128.06 163.58L128.12 164.39L128.18 164.39L128.24 164.02L128.3 163.26L128.36 163.08L128.42 163.63L128.48 163.84L128.54 163.78L128.6 163.76L128.66 163.71L128.72 163.02L128.78 163.2L128.84 163.54L128.9 163.06L128.96 162.94L129.02 163.78L129.08 163.37L129.14 162.7L129.2 162.54L129.26 163.78L129.32 163.59L129.38 162.18L129.44 162.1L129.5 162.99L129.56 162.47L129.62 162.44L129.68 162.46L129.74 162.18L129.8 162.52L129.86 162.44L129.92 162.52L129.98 161.74L130.04 162.61L130.1 161.88L130.16 162.61L130.22 162.65L130.28 162.04L130.34 162.4L130.4 162.33L130.46 161.37L130.52 161.48L130.58 162.26L130.64 161.9L130.7 161.67L130.76 161.61L130.82 161.76L130.88 161.98L130.94 161.18L131 161.77L131.06 161.18L131.12 160.9L131.18 162.07L131.24 161.29L131.3 161.15L131.36 161.88L131.42 160.57L131.48 161.65L131.54 161.07L131.6 161.47L131.66 161.35L131.72 161.82L131.78 160.71L131.84 160.75L131.9 160.65L131.96 160.44L132.02 160.56L132.08 161.01L132.14 161.67L132.2 160.31L132.26 160.86L132.32 160.69L132.38 160.86L132.44 160.69L132.5 160.61L132.56 160.91L132.62 161.03L132.68 161.14L132.74 161.08L132.8 161.67L132.86 161.07L132.92 160.31L132.98 160.26L133.04 161.02L133.1 160.61L133.16 160.96L133.22 160.54L133.28 160.03L133.34 160.06L133.4 160.89L133.46 160.32L133.52 160.87L133.58 161.13L133.64 160.97L133.7 161.34L133.76 160.98L133.82 160.07L133.88 160.68L133.94 161.1L134 159.9L134.06 160.11L134.12 160.27L134.18 160.6L134.24 160.19L134.3 161.08L134.36 160.81L134.42 160.39L134.48 160.27L134.54 160.67L134.6 160.14L134.66 160.73L134.72 161.14L134.78 161.02L134.84 160.1L134.9 160.23L134.96 160.25L135.02 159.96L135.08 160.59L135.14 159.89L135.2 159.62L135.26 160.9L135.32 160.76L135.38 159.76L135.44 160.26L135.5 160.59L135.56 159.48L135.62 159.59L135.68 160.53L135.74 160.01L135.8 160.04L135.86 160.44L135.92 160.5L135.98 160.38L136.04 159.66L136.1 160.64L136.16 160.3L136.22 161.07L136.28 160.1L136.34 160.88L136.4 160.33L136.46 159.67L136.52 160.12L136.58 160.36L136.64 160.07L136.7 160.8L136.76 160.3L136.82 159.15L136.88 160.55L136.94 159.74L137 159.69L137.06 159.69L137.12 159.46L137.18 160.82L137.24 160.22L137.3 160.41L137.36 160.54L137.42 160.41L137.48 160.26L137.54 159.42L137.6 160.36L137.66 159.66L137.72 159.85L137.78 159.43L137.84 160.31L137.9 159.95L137.96 160.5L138.02 159.49L138.08 160.4L138.14 159.82L138.2 159.57L138.26 160.04L138.32 160.3L138.38 159.49L138.44 160.72L138.5 159.62L138.56 160.26L138.62 159.86L138.68 160.37L138.74 159.49L138.8 160.2L138.86 160.56L138.92 159.46L138.98 160.35L139.04 160.96L139.1 159.46L139.16 160.54L139.22 160.69L139.28 160.56L139.34 160.15L139.4 159.77L139.46 160.6L139.52 159.27L139.58 160.3L139.64 159.98L139.7 159.84L139.76 159.44L139.82 160.29L139.88 160.18L139.94 160.24L140 160.61L140.06 159.49L140.12 160.53L140.18 159.78L140.24 159.73L140.3 160.61L140.36 160.4L140.42 160.14L140.48 159.4L140.54 159.56L140.6 160.09L140.66 160.4L140.72 160.76L140.78 160.51L140.84 160.27L140.9 160.1L140.96 160.28L141.02 160.37L141.08 160.07L141.14 159.78L141.2 159.77L141.26 160.73L141.32 160.11L141.38 160.27L141.44 159.42L141.5 160.28L141.56 160.95L141.62 159.76L141.68 159.97L141.74 160.77L141.8 159.92L141.86 160.59L141.92 159.44L141.98 159.29L142.04 160.19L142.1 159.9L142.16 160.33L142.22 160.46L142.28 159.61L142.34 159.68L142.4 160.44L142.46 159.97L142.52 160.19L142.58 159.84L142.64 160.4L142.7 159.72L142.76 160.18L142.82 160.31L142.88 160.39L142.94 161.12L143 160.07L143.06 160.78L143.12 160.97L143.18 160.25L143.24 159.71L143.3 160.53L143.36 160.7L143.42 160.19L143.48 160.11L143.54 160.66L143.6 160.43L143.66 160.26L143.72 160.03L143.78 160L143.84 159.58L143.9 159.2L143.96 159.89L144.02 160.09L144.08 160.65L144.14 160.28L144.2 160.69L144.26 159.86L144.32 160.39L144.38 159.74L144.44 160.36L144.5 160.49L144.56 160.83L144.62 160.22L144.68 160.12L144.74 160.35L144.8 160.62L144.86 160.54L144.92 160.73L144.98 160.92L145.04 159.8L145.1 160.12L145.16 159.57L145.22 159.55L145.28 160L145.34 160.05L145.4 159.66L145.46 160.68L145.52 160.24L145.58 160.99L145.64 160.21L145.7 159.66L145.76 160.2L145.82 159.67L145.88 159.66L145.94 160.51L146 160.49L146.06 160.14L146.12 159.41L146.18 160.25L146.24 159.44L146.3 159.96L146.36 160.57L146.42 160.47L146.48 159.69L146.54 159.57L146.6 159.79L146.66 159.51L146.72 159.74L146.78 159.69L146.84 160.32L146.9 160.13L146.96 160.4L147.02 160.61L147.08 160.68L147.14 160.51L147.2 159.7L147.26 159.89L147.32 159.57L147.38 160.58L147.44 159.83L147.5 160.31L147.56 160.06L147.62 161.22L147.68 160.19L147.74 160.3L147.8 160.8L147.86 159.92L147.92 160.4L147.98 160.52L148.04 160.66L148.1 159.75L148.16 160.52L148.22 159.55L148.28 161.04L148.34 159.5L148.4 159.25L148.46 160.29L148.52 159.57L148.58 160.49L148.64 160.79L148.7 159.93L148.76 159.96L148.82 159.81L148.88 160.23L148.94 159.38L149 160.19L149.06 160.11L149.12 159.93L149.18 159.71L149.24 160.31L149.3 160.84L149.36 159.83L149.42 160.57L149.48 160.46L149.54 160.13L149.6 160.72L149.66 160.81L149.72 159.84L149.78 160.68L149.84 161.02L149.9 160.35L149.96 160.34L150.02 160.92L150.08 159.99L150.14 160.89L150.2 160.54L150.26 160.6L150.32 159.4L150.38 160.75L150.44 160.69L150.5 160.51L150.56 159.67L150.62 160.23L150.68 159.85L150.74 160.87L150.8 159.88L150.86 159.99L150.92 159.6L150.98 160.87L151.04 160.61L151.1 159.81L151.16 159.59L151.22 160.45L151.28 159.54L151.34 159.83L151.4 160.13L151.46 160.25L151.52 160.91L151.58 159.99L151.64 159.86L151.7 160.1L151.76 159.98L151.82 160.36L151.88 160.71L151.94 159.74L152 160.99L152.06 160.42L152.12 160.95L152.18 159.86L152.24 160.43L152.3 160.09L152.36 160.34L152.42 160.16L152.48 160.78L152.54 160.21L152.6 160.24L152.66 160.14L152.72 160.47L152.78 160.63L152.84 159.81L152.9 160.11L152.96 159.6L153.02 160.81L153.08 159.94L153.14 161.23L153.2 160.1L153.26 160.76L153.32 160.2L153.38 160.18L153.44 160.29L153.5 160.15L153.56 160.22L153.62 160.89L153.68 160.56L153.74 160.06L153.8 159.73L153.86 160.46L153.92 160.05L153.98 160.56L154.04 160.75L154.1 159.88L154.16 159.56L154.22 160.15L154.28 159.64L154.34 160.88L154.4 159.7L154.46 160.79L154.52 161.19L154.58 160.86L154.64 160.56L154.7 160.04L154.76 160.64L154.82 159.67L154.88 160.21L154.94 159.51L155 160.01L155.06 160.67L155.12 160.64L155.18 159.73L155.24 160.2L155.3 160.36L155.36 160.53L155.42 160.64L155.48 160.1L155.54 159.18L155.6 160.74L155.66 160.95L155.72 159.53L155.78 159.53L155.84 160.89L155.9 160.68L155.96 160.13L156.02 159.4L156.08 160.94L156.14 159.53L156.2 160.08L156.26 160.34L156.32 160.63L156.38 159.97L156.44 160.6L156.5 160.45L156.56 159.76L156.62 160.66L156.68 159.58L156.74 160.36L156.8 160.12L156.86 161.15L156.92 160.3L156.98 160.29L157.04 159.65L157.1 160.24L157.16 160.16L157.22 160.67L157.28 159.75L157.34 159.8L157.4 160.27L157.46 160.1L157.52 160.34L157.58 160.46L157.64 160.26L157.7 160.18L157.76 160.54L157.82 159.67L157.88 159.93L157.94 160.82L158 159.64L158.06 160.16L158.12 160.14L158.18 159.92L158.24 161.14L158.3 160.98L158.36 159.55L158.42 161.18L158.48 160.42L158.54 159.74L158.6 160.76L158.66 159.67L158.72 160.63L158.78 159.97L158.84 161.02L158.9 160.34L158.96 159.59L159.02 159.92L159.08 160.17L159.14 160.23L159.2 159.87L159.26 160.19L159.32 161.15L159.38 160.14L159.44 159.87L159.5 159.98L159.56 160.83L159.62 160.58L159.68 161.07L159.74 160.63L159.8 160.49L159.86 160.02L159.92 160.03L159.98 161.01L160.04 160.08L160.1 160.05L160.16 160.88L160.22 160.27L160.28 160.79L160.34 160.98L160.4 160.83L160.46 160.14L160.52 161.08L160.58 160.84L160.64 160.6L160.7 160.59L160.76 160.95L160.82 160.58L160.88 159.71L160.94 160.28L161 159.79L161.06 160L161.12 160.97L161.18 160.63L161.24 160.59L161.3 159.9L161.36 160.06L161.42 160.07L161.48 160.13L161.54 160.81L161.6 160.98L161.66 160.27L161.72 160.26L161.78 160.06L161.84 159.97L161.9 161.14L161.96 161.03L162.02 160.8L162.08 160.23L162.14 160.72L162.2 160.06L162.26 160.34L162.32 160.67L162.38 160.67L162.44 160.39L162.5 160.14L162.56 160.06L162.62 160.97L162.68 161.11L162.74 159.87L162.8 160.16L162.86 160.07L162.92 160.48L162.98 161.41L163.04 160.71L163.1 159.7L163.16 160.45L163.22 160.12L163.28 161.21L163.34 160.72L163.4 160.88L163.46 161.23L163.52 161.01L163.58 160.78L163.64 160.68L163.7 160.56L163.76 160.7L163.82 160.57L163.88 160.71L163.94 160.32L164 160.01L164.06 159.99L164.12 160.04L164.18 159.92L164.24 160.22L164.3 160.48L164.36 160.9L164.42 160.63L164.48 160.32L164.54 160.82L164.6 161.17L164.66 160.89L164.72 160.19L164.78 160.34L164.84 159.83L164.9 161.39L164.96 160.46L165.02 159.66L165.08 161.08L165.14 159.88L165.2 161.16L165.26 160.13L165.32 160.25L165.38 160.79L165.44 160.68L165.5 161.35L165.56 159.86L165.62 161.09L165.68 159.86L165.74 159.98L165.8 159.97L165.86 160.87L165.92 159.92L165.98 159.71L166.04 160.66L166.1 160.64L166.16 160.19L166.22 161.09L166.28 160.77L166.34 159.87L166.4 159.97L166.46 159.78L166.52 160.08L166.58 160.73L166.64 159.88L166.7 161.03L166.76 160.4L166.82 160.33L166.88 160.21L166.94 160.15L167 160.69L167.06 159.58L167.12 161.01L167.18 159.94L167.24 161.62L167.3 159.62L167.36 159.94L167.42 160.64L167.48 160.46L167.54 160.44L167.6 159.77L167.66 160.91L167.72 161.22L167.78 161.12L167.84 160.71L167.9 160.89L167.96 160.15L168.02 160.5L168.08 161L168.14 160.95L168.2 160.29L168.26 160.56L168.32 161.02L168.38 160.42L168.44 161.19L168.5 160.76L168.56 160.96L168.62 160.43L168.68 160.05L168.74 160.37L168.8 160.23L168.86 161.13L168.92 160.9L168.98 160.4L169.04 160.9L169.1 160.71L169.16 160.33L169.22 161.03L169.28 159.8L169.34 160.44L169.4 160.49L169.46 160.03L169.52 159.82L169.58 160.43L169.64 161.27L169.7 160.78L169.76 160.41L169.82 160.07L169.88 160.11L169.94 160.79L170 160.04L170.06 160.81L170.12 160.28L170.18 160.14L170.24 160.59L170.3 160.48L170.36 160.32L170.42 160.01L170.48 160.27L170.54 160.61L170.6 160.08L170.66 160.52L170.72 161.11L170.78 160.35L170.84 160.73L170.9 160.06L170.96 160.99L171.02 160.61L171.08 160.88L171.14 160.05L171.2 160.29L171.26 160.25L171.32 161.06L171.38 160.58L171.44 160.31L171.5 160.6L171.56 160.64L171.62 160.03L171.68 160.09L171.74 160.62L171.8 159.86L171.86 159.96L171.92 159.78L171.98 160.29L172.04 159.57L172.1 160.08L172.16 160.7L172.22 161.23L172.28 159.89L172.34 160.49L172.4 159.61L172.46 159.78L172.52 159.91L172.58 160.2L172.64 160.34L172.7 160.06L172.76 160.53L172.82 160.62L172.88 159.67L172.94 161.23L173 160.07L173.06 161.11L173.12 160.91L173.18 159.98L173.24 161.12L173.3 160.07L173.36 160.94L173.42 159.96L173.48 160.07L173.54 160.96L173.6 160.09L173.66 160.12L173.72 159.82L173.78 161.08L173.84 159.83L173.9 159.92L173.96 160.66L174.02 160.37L174.08 160.53L174.14 160.13L174.2 160.85L174.26 159.82L174.32 160.14L174.38 160.39L174.44 160.04L174.5 160.62L174.56 160.44L174.62 160.44L174.68 160.34L174.74 160.63L174.8 160.02L174.86 160.62L174.92 159.89L174.98 160.7L175.04 160.43L175.1 160.34L175.16 160.78L175.22 160.35L175.28 159.94L175.34 160.4L175.4 160.29L175.46 161.22L175.52 160.43L175.58 160.3L175.64 160.59L175.7 160.12L175.76 159.74L175.82 160.39L175.88 160.97L175.94 160.14L176 160.56L176.06 160L176.12 160.01L176.18 160.57L176.24 159.93L176.3 160.26L176.36 159.87L176.42 160.84L176.48 160.77L176.54 160.11L176.6 160.99L176.66 160.17L176.72 159.72L176.78 160.01L176.84 160.84L176.9 161.18L176.96 160.61L177.02 161.31L177.08 159.97L177.14 160.26L177.2 160.51L177.26 159.77L177.32 160.56L177.38 160.94L177.44 161.09L177.5 159.91L177.56 160.75L177.62 161.04L177.68 160.09L177.74 160.3L177.8 159.86L177.86 159.75L177.92 159.98L177.98 159.82L178.04 161.03L178.1 159.73L178.16 160.61L178.22 161.29L178.28 159.62L178.34 160.86L178.4 160.93L178.46 160.33L178.52 159.81L178.58 160.65L178.64 159.9L178.7 159.55L178.76 159.97L178.82 160.82L178.88 160.73L178.94 160.9L179 160.59L179.06 160.65L179.12 160.68L179.18 160.33L179.24 160.72L179.3 159.89L179.36 159.68L179.42 160.49L179.48 160.41L179.54 160.32L179.6 159.98L179.66 159.8L179.72 159.95L179.78 161.01L179.84 160.58L179.9 161.19L179.96 160.2L180.02 160.45L180.08 160.38L180.14 160.71L180.2 160.73L180.26 159.9L180.32 160.75L180.38 160.96L180.44 160.48L180.5 160.64L180.56 159.78L180.62 160.66L180.68 159.42L180.74 159.31L180.8 160.76L180.86 159.66L180.92 160.61L180.98 160.09L181.04 159.3L181.1 160.18L181.16 160.47L181.22 159.91L181.28 160.08L181.34 160.55L181.4 159.99L181.46 160.28L181.52 159.99L181.58 159.93L181.64 159.82L181.7 159.71L181.76 160.28L181.82 159.9L181.88 159.87L181.94 159.57L182 160.01L182.06 159.6L182.12 160.35L182.18 159.69L182.24 160L182.3 160.81L182.36 159.86L182.42 160.78L182.48 159.66L182.54 159.69L182.6 160.59L182.66 159.73L182.72 160.65L182.78 160.62L182.84 160L182.9 159.46L182.96 159.5L183.02 159.73L183.08 159.88L183.14 160.06L183.2 160.32L183.26 160.26L183.32 159.48L183.38 160.83L183.44 160.7L183.5 159.47L183.56 161.13L183.62 159.89L183.68 159.39L183.74 160.2L183.8 159.82L183.86 160.74L183.92 159.64L183.98 159.92L184.04 159.97L184.1 160.37L184.16 159.92L184.22 159.87L184.28 159.65L184.34 160.79L184.4 159.45L184.46 160.01L184.52 160.18L184.58 159.83L184.64 159.76L184.7 159.69L184.76 159.63L184.82 159.42L184.88 159.56L184.94 160.34L185 160.03L185.06 159.43L185.12 160.19L185.18 160.68L185.24 159.46L185.3 160.29L185.36 159.27L185.42 159.54L185.48 159.38L185.54 160.55L185.6 159.57L185.66 160.38L185.72 160.63L185.78 159.64L185.84 159.65L185.9 159.35L185.96 160.77L186.02 160.02L186.08 159.8L186.14 160.31L186.2 159.73L186.26 160.41L186.32 159.64L186.38 159.92L186.44 160.32L186.5 160.33L186.56 160.67L186.62 160.17L186.68 160L186.74 160.4L186.8 161.01L186.86 159.95L186.92 160.28L186.98 159.47L187.04 160.99L187.1 159.94L187.16 160.43L187.22 159.56L187.28 160.55L187.34 160.63L187.4 159.94L187.46 160.5L187.52 160.01L187.58 160.06L187.64 159.68L187.7 159.87L187.76 160.33L187.82 160.03L187.88 161.15L187.94 160.75L188 160.32L188.06 160.12L188.12 159.58L188.18 160.84L188.24 160.3L188.3 160.88L188.36 159.93L188.42 159.78L188.48 160.2L188.54 160.58L188.6 159.58L188.66 160.54L188.72 160.17L188.78 159.62L188.84 160.26L188.9 160.73L188.96 160.71L189.02 159.61L189.08 160.95L189.14 159.75L189.2 159.69L189.26 160.59L189.32 160.96L189.38 160.05L189.44 160.6L189.5 160.24L189.56 160.32L189.62 160L189.68 159.85L189.74 160.26L189.8 160.35L189.86 159.7L189.92 160.7L189.98 160.36L190.04 160.59L190.1 160.74L190.16 160.39L190.22 161.06L190.28 159.39L190.34 160.69L190.4 159.02L190.46 159.46L190.52 160.09L190.58 160.34L190.64 160.05L190.7 160.53L190.76 159.76L190.82 160.54L190.88 159.66L190.94 160.04L191 159.67L191.06 160.08L191.12 160.22L191.18 160.44L191.24 159.62L191.3 161.03L191.36 161.21L191.42 160.58L191.48 159.77L191.54 160.39L191.6 160.74L191.66 160.66L191.72 159.96L191.78 159.79L191.84 160.81L191.9 160.49L191.96 160.1L192.02 160.58L192.08 160.4L192.14 160.9L192.2 160.62L192.26 159.93L192.32 159.93L192.38 160.07L192.44 160.49L192.5 160.59L192.56 160.84L192.62 160.5L192.68 159.67L192.74 160.49L192.8 160.51L192.86 160.5L192.92 160.25L192.98 159.53L193.04 159.55L193.1 159.94L193.16 160.1L193.22 159.74L193.28 159.43L193.34 160.82L193.4 160.41L193.46 159.75L193.52 159.39L193.58 159.91L193.64 159.6L193.7 160.63L193.76 161.06L193.82 159.6L193.88 160.45L193.94 160.43L194 159.71L194.06 159.96L194.12 159.42L194.18 160.52L194.24 160.43L194.3 160.86L194.36 159.8L194.42 159.76L194.48 159.82L194.54 160.59L194.6 160.41L194.66 159.55L194.72 159.56L194.78 160.22L194.84 160.24L194.9 159.54L194.96 159.8L195.02 160.89L195.08 160.52L195.14 160.25L195.2 159.91L195.26 160.47L195.32 159.67L195.38 159.96L195.44 160.22L195.5 160.28L195.56 160.6L195.62 160.04L195.68 160.87L195.74 160.39L195.8 160.55L195.86 160.75L195.92 159.48L195.98 160.75L196.04 160.38L196.1 159.66L196.16 160.63L196.22 160.11L196.28 160.28L196.34 159.97L196.4 160.09L196.46 160.11L196.52 159.79L196.58 160.08L196.64 160.68L196.7 160.21L196.76 160.72L196.82 160.58L196.88 159.6L196.94 161.19L197 160.38L197.06 160.86L197.12 159.98L197.18 160.86L197.24 160.11L197.3 160.43L197.36 159.88L197.42 161.15L197.48 160.98L197.54 159.79L197.6 160.78L197.66 160.06L197.72 159.69L197.78 160.53L197.84 160.96L197.9 159.77L197.96 159.71L198.02 159.72L198.08 159.54L198.14 160.25L198.2 160.71L198.26 160L198.32 160.29L198.38 160.88L198.44 160.05L198.5 161.16L198.56 159.48L198.62 160.67L198.68 159.76L198.74 159.5L198.8 160.24L198.86 160.66L198.92 160.21L198.98 160.53L199.04 159.63L199.1 160.26L199.16 160.19L199.22 160.97L199.28 159.75L199.34 160.15L199.4 160.27L199.46 160.1L199.52 159.28L199.58 160.05L199.6 171.1L199.64 159.29L199.7 160.16L199.76 160.46L199.79 121.69L199.82 159.65L199.88 160.05L199.94 159.87L199.95 170.04L200 159.83L200.06 160.66L200.12 160.96L200.18 121.64L200.18 160.24L200.24 160.44L200.3 170.62L200.3 160.66L200.36 160.74L200.42 161.16L200.48 159.68L200.54 160.96L200.56 121.58L200.6 160.88L200.65 171.76L200.66 159.97L200.72 160.5L200.78 161L200.84 160.03L200.9 160.2L200.95 121.54L200.96 160.52L201 170.45L201.02 160.09L201.08 160.53L201.14 160.23L201.2 159.59L201.26 160.31L201.32 159.85L201.34 121.37L201.35 170.55L201.38 160.02L201.44 160.45L201.5 160.43L201.56 160.91L201.62 160.66L201.68 160.4L201.7 171.61L201.72 121.42L201.74 160.02L201.8 159.67L201.86 160.03L201.92 160.63L201.98 160.82L202.04 160.01L202.05 164.8L202.1 160.31L202.11 121.05L202.16 159.96L202.22 160.4L202.28 161.15L202.34 160.15L202.4 163.55L202.4 160.73L202.46 159.84L202.52 161.07L202.58 160.47L202.64 160.82L202.7 160.31L202.75 165.26L202.75 147.05L202.76 161.17L202.82 159.79L202.88 160.19L202.94 160L203 160.71L203.06 160.51L203.1 164.48L203.12 160.55L203.18 161.04L203.24 160.35L203.3 160.31L203.36 160.33L203.4 121.71L203.42 160.84L203.45 164.94L203.48 161.28L203.54 160.38L203.6 160.11L203.66 160.66L203.72 160.69L203.78 160.58L203.8 163.52L203.8 121.41L203.84 160.87L203.9 160.15L203.96 160.51L204.02 159.97L204.08 160.52L204.14 160.98L204.15 163.96L204.2 121.88L204.2 161.15L204.26 160.05L204.32 160.53L204.38 160.5L204.44 160.15L204.5 165.13L204.5 159.98L204.56 160.24L204.6 121.92L204.62 160.47L204.68 160.3L204.74 161.04L204.8 161.08L204.85 164.44L204.86 159.98L204.92 160.3L204.98 160.68L205 121.43L205.04 160.01L205.1 161L205.16 160.45L205.2 163.63L205.22 160L205.28 160.31L205.34 160.34L205.4 121.31L205.4 161.2L205.46 160.03L205.52 160.88L205.55 164.54L205.58 160.45L205.64 160.07L205.7 160.43L205.76 160.58L205.8 121.17L205.82 160.04L205.88 160.65L205.9 165.13L205.94 160.07L206 160.25L206.06 160.31L206.12 160.19L206.18 159.73L206.2 121.75L206.24 160.11L206.25 163.84L206.3 160.24L206.36 160L206.42 161.09L206.48 160.93L206.54 160.73L206.6 161.21L206.6 121.47L206.6 160.49L206.66 159.83L206.72 159.79L206.78 160.55L206.84 160.1L206.9 186.5L206.9 160.54L206.95 162.23L206.96 159.95L207 121.45L207.02 161.01L207.08 159.44L207.14 160.53L207.2 159.57L207.26 160.88L207.3 161.65L207.32 161.28L207.38 161L207.4 121.72L207.4 185.5L207.44 161.23L207.5 161.13L207.56 159.88L207.62 160.74L207.65 160.83L207.68 160.35L207.74 160.88L207.8 160.37L207.86 160.49L207.92 161.35L207.98 160.69L208 161.44L208.04 160.98L208.1 160.64L208.16 160.29L208.22 159.81L208.28 160.41L208.34 159.93L208.35 160.57L208.4 160.04L208.46 159.75L208.52 160.13L208.58 159.82L208.64 161.08L208.7 160.79L208.7 159.99L208.76 160.88L208.82 160.8L208.88 160.93L208.94 160.93L209 160.14L209.05 161.87L209.06 160.82L209.12 160.12L209.18 160.63L209.24 160.16L209.3 160.44L209.36 160.83L209.4 161.19L209.42 160.02L209.48 160.38L209.54 160.44L209.6 160.22L209.66 160.28L209.72 160.43L209.75 162.14L209.75 157.65L209.78 160.23L209.84 160.94L209.9 159.77L209.96 160.42L210.02 160.1L210.08 160.13L210.1 158.12L210.14 159.71L210.2 160.68L210.26 160.87L210.32 161.29L210.38 160.45L210.44 161.27L210.5 160.49L210.56 161.13L210.62 160.05L210.68 160.28L210.74 160.78L210.8 159.96L210.86 160.62L210.92 160.34L210.98 159.87L211.04 160.88L211.1 160.68L211.15 156.61L211.16 159.93L211.22 160.11L211.28 161.24L211.34 159.91L211.4 159.89L211.46 160.37L211.5 157.78L211.52 161.13L211.58 160.59L211.64 160.69L211.7 160.81L211.76 160.36L211.82 160.5L211.88 160.03L211.94 160.81L212 159.69L212.06 160.8L212.12 161.16L212.18 159.68L212.24 161L212.3 160.93L212.36 159.37L212.42 160.93L212.48 159.64L212.54 161.18L212.6 160.2L212.66 160.13L212.72 160.8L212.78 160.75L212.84 161.11L212.9 160.17L212.96 160.26L213.02 159.81L213.08 160.43L213.14 160.14L213.2 160.13L213.25 157.96L213.26 160.59L213.32 160.77L213.38 160.01L213.44 160.52L213.5 159.68L213.56 159.94L213.6 156.88L213.62 159.91L213.68 159.89L213.74 160.72L213.8 159.58L213.86 159.69L213.92 160.61L213.95 156.8L213.98 160.35L214.04 160.7L214.1 160.48L214.16 160.5L214.22 159.85L214.28 160.65L214.3 156.79L214.34 160.42L214.4 159.64L214.46 160.74L214.52 160.34L214.58 160.04L214.64 160.05L214.65 156.76L214.7 160.71L214.76 159.89L214.82 160.71L214.88 159.8L214.94 160.67L215 157.5L215 160.75L215.06 160.74L215.12 160.67L215.18 159.59L215.24 159.78L215.3 160.86L215.36 159.4L215.42 159.7L215.48 160.67L215.54 160.15L215.6 160.18L215.66 160.17L215.7 157.51L215.72 160.83L215.78 159.4L215.84 160.2L215.9 159.72L215.96 160.3L216.02 159.87L216.08 160.44L216.14 159.87L216.2 160.39L216.26 159.73L216.32 160.45L216.38 161.03L216.44 160.19L216.5 159.9L216.56 160.35L216.62 159.77L216.68 159.9L216.74 160.59L216.8 160.21L216.86 159.22L216.92 160.08L216.98 159.49L217.04 160.22L217.1 160.3L217.16 159.27L217.22 160.33L217.28 160.76L217.34 159.82L217.4 159.85L217.46 160.07L217.52 159.58L217.58 160.15L217.64 160.47L217.7 160.7L217.76 159.52L217.82 159.73L217.88 159.64L217.94 160.01L218 160.08L218.06 161.1L218.12 160.2L218.18 160.06L218.24 160.55L218.3 160.86L218.36 159.37L218.42 160.78L218.48 160.3L218.54 159.79L218.6 159.93L218.66 159.79L218.72 160.7L218.78 159.74L218.84 159.56L218.9 160L218.96 160.06L219.02 159.64L219.08 160.22L219.14 159.59L219.2 160.5L219.26 160.86L219.32 160.79L219.38 159.72L219.44 160.28L219.5 160.17L219.56 160.04L219.62 160.34L219.68 159.97L219.74 160.22L219.8 160.87L219.86 160.46L219.92 160.12L219.98 160.52L220.04 160.7L220.1 160.81L220.16 159.53L220.22 160L220.28 160.46L220.34 160.18L220.4 160.73L220.46 159.52L220.52 160.45L220.58 160.07L220.64 161.02L220.7 160.42L220.76 160.9L220.82 160.44L220.88 160.65L220.94 160.14L221 160.78L221.06 159.67L221.12 159.81L221.18 160.81L221.24 160.6L221.3 159.82L221.36 160.33L221.42 160.46L221.48 160.53L221.54 160.74L221.6 159.62L221.66 160.13L221.72 160.53L221.78 159.44L221.84 160.27L221.9 159.47L221.96 159.74L222.02 160.21L222.08 159.93L222.14 160.39L222.2 159.65L222.26 160.68L222.32 160.95L222.38 160.6L222.44 159.74L222.5 159.81L222.56 160.43L222.62 161.14L222.68 160.2L222.74 160.07L222.8 161.04L222.86 160.8L222.92 160.35L222.98 160.37L223.04 160.55L223.1 160.74L223.16 159.99L223.22 159.75L223.28 159.38L223.34 160.98L223.4 160.96L223.46 159.68L223.52 159.81L223.58 160.06L223.64 160.71L223.7 159.59L223.76 160.53L223.82 160.88L223.88 160.42L223.94 160.54L224 159.87L224.06 160.43L224.12 160.61L224.18 160.74L224.24 160.21L224.3 159.48L224.36 160.31L224.42 160.97L224.48 159.69L224.54 159.53L224.6 160.23L224.66 159.82L224.72 160.66L224.78 160.13L224.84 160.69L224.9 160.53L224.96 159.33L225.02 160.61L225.08 159.94L225.14 159.91L225.2 160.58L225.26 159.23L225.32 160.25L225.38 160.6L225.44 159.76L225.5 160.18L225.56 160.51L225.62 160.37L225.68 160.15L225.74 160.22L225.8 160.33L225.86 160.78L225.92 160.59L225.98 160.18L226.04 159.6L226.1 160.5L226.16 160.27L226.22 160.28L226.28 160.45L226.34 159.32L226.4 159.67L226.46 159.56L226.52 160.59L226.58 160.43L226.64 159.59L226.7 159.92L226.76 160.48L226.82 159.62L226.88 159.46L226.94 159.28L227 159.94L227.06 160.23L227.12 160.39L227.18 160.04L227.24 159.83L227.3 159.79L227.36 160.51L227.42 159.95L227.48 159.52L227.54 160.65L227.6 161.02L227.66 160.41L227.72 159.91L227.78 159.25L227.84 160.06L227.9 159.53L227.96 159.78L228.02 160.72L228.08 159.38L228.14 160.06L228.2 159.66L228.26 159.8L228.32 160.19L228.38 159.86L228.44 160.25L228.5 160.45L228.56 159.74L228.62 160.01L228.68 160.53L228.74 159.49L228.8 159.48L228.86 160.7L228.92 159.86L228.98 159.32L229.04 159.59L229.1 160.7L229.16 160.85L229.22 160.25L229.28 159.45L229.34 159.48L229.4 160.99L229.46 159.64L229.52 159.97L229.58 160.05L229.64 160.62L229.7 160.2L229.76 159.72L229.82 160.08L229.88 159.6L229.94 160.02L230 160.29L230.06 160.5L230.12 160.5L230.18 160.51L230.24 160.09L230.3 160.17L230.36 159.5L230.42 160.71L230.48 160.73L230.54 160.42L230.6 160.77L230.66 159.98L230.72 160.66L230.78 160.05L230.84 159.78L230.9 160.14L230.96 160.71L231.02 159.9L231.08 159.73L231.14 159.94L231.2 160.36L231.26 160.12L231.32 160.69L231.38 159.87L231.44 160.76L231.5 160.08L231.56 160.63L231.62 160.31L231.68 159.4L231.74 160.42L231.8 159.53L231.86 160.81L231.92 159.9L231.98 160.75L232.04 160.08L232.1 159.28L232.16 160.61L232.22 160.32L232.28 159.46L232.34 159.99L232.4 160.08L232.46 159.93L232.52 159.46L232.58 159.17L232.64 159.21L232.7 160.67L232.76 160.52L232.82 159.66L232.88 160.63L232.94 159.74L233 160.62L233.06 160.23L233.12 160.19L233.18 160.2L233.24 159.83L233.3 160.39L233.36 159.89L233.42 159.1L233.48 160.8L233.54 159.47L233.6 159.76L233.66 160.38L233.72 159.89L233.78 160.68L233.84 159.99L233.9 160.54L233.96 159.12L234.02 159.59L234.08 159.9L234.14 160.09L234.2 160.36L234.26 159.95L234.32 159.83L234.38 159.49L234.44 160.4L234.5 159.21L234.56 160.51L234.62 159.45L234.68 160.5L234.74 160.01L234.8 159.58L234.86 160.49L234.92 160.93L234.98 159.64L235.04 159.68L235.1 159.86L235.16 159.88L235.22 159.37L235.28 160.74L235.34 159.74L235.4 159.85L235.46 159.94L235.52 160.4L235.58 160.35L235.64 160.2L235.7 159.62L235.76 159.68L235.82 160L235.88 160.4L235.94 159.59L236 160.73L236.06 160.53L236.12 160.23L236.18 160.01L236.24 161.2L236.3 160.33L236.36 160.58L236.42 161.05L236.48 159.26L236.54 159.41L236.6 160.22L236.66 159.68L236.72 160.45L236.78 159.35L236.84 159.74L236.9 160.16L236.96 160.35L237.02 160.4L237.08 159.9L237.14 159.48L237.2 160.54L237.26 159.49L237.32 160.26L237.38 159.77L237.44 160.52L237.5 159.47L237.56 159.62L237.62 160.45L237.68 160.47L237.74 160.31L237.8 159.54L237.86 159.89L237.92 160.14L237.98 160.58L238.04 159.66L238.1 160.29L238.16 160.48L238.22 159.96L238.28 160.18L238.34 159.38L238.4 161.18L238.46 159.69L238.52 159.65L238.58 160.19L238.64 159.56L238.7 159.62L238.76 159.67L238.82 160.54L238.88 160.55L238.94 160.21L239 159.53L239.06 159.18L239.12 160.15L239.18 159.99L239.24 160.57L239.3 160.04L239.36 160.83L239.42 159.77L239.48 159.58L239.54 159.95L239.6 161.02L239.66 160.51L239.72 159.46L239.78 160.56L239.84 159.81L239.9 159.64L239.96 160L240.02 160.79L240.08 160.04L240.14 159.78L240.2 160.02L240.26 159.56L240.32 159.68L240.38 160.32L240.44 160.11L240.5 159.91L240.56 159.43L240.62 161.15L240.68 160.87L240.74 159.92L240.8 159.98L240.86 159.94L240.92 160.9L240.98 160.71L241.04 159.8L241.1 160.71L241.16 161.02L241.22 159.54L241.28 160.36L241.34 160.67L241.4 160.28L241.46 159.91L241.52 160.04L241.58 160.75L241.64 159.79L241.7 160.53L241.76 160.79L241.82 160.19L241.88 160.74L241.94 159.93L242 159.77L242.06 159.73L242.12 159.82L242.18 160.63L242.24 160.64L242.3 160.66L242.36 160.26L242.42 159.94L242.48 160.93L242.54 160.81L242.6 159.96L242.66 160.81L242.72 160.09L242.78 159.93L242.84 160.71L242.9 159.76L242.96 160.14L243.02 160.85L243.08 159.83L243.14 159.94L243.2 160.84L243.26 159.65L243.32 161.01L243.38 160.06L243.44 160.09L243.5 159.46L243.56 159.63L243.62 159.59L243.68 159.4L243.74 160.67L243.8 161.05L243.86 160.81L243.92 159.9L243.98 160.56L244.04 160.7L244.1 160.9L244.16 160.11L244.22 159.92L244.28 160.46L244.34 160.69L244.4 159.25L244.46 160.06L244.52 160.37L244.58 159.81L244.64 159.45L244.7 160.29L244.76 160.85L244.82 160.17L244.88 159.91L244.94 160.43L245 160.69L245.06 160.63L245.12 159.95L245.18 159.6L245.24 159.58L245.3 159.52L245.36 159.5L245.42 159.48L245.48 159.66L245.54 159.9L245.6 160.58L245.66 159.67L245.72 160.48L245.78 160.8L245.84 159.73L245.9 160.1L245.96 161.09L246.02 160.5L246.08 159.81L246.14 160.15L246.2 160L246.26 160.52L246.32 159.74L246.38 160.66L246.44 160.35L246.5 160.15L246.56 160.26L246.62 160.34L246.68 160.29L246.74 160.44L246.8 159.5L246.86 160.41L246.92 159.4L246.98 159.78L247.04 160.34L247.1 159.75L247.16 160.87L247.22 160.14L247.28 160.26L247.34 160.14L247.4 160.24L247.46 160.47L247.52 159.7L247.58 160.88L247.64 160.26L247.7 160.48L247.76 161.3L247.82 159.75L247.88 159.92L247.94 160L248 160.95L248.06 159.8L248.12 160.22L248.18 160.51L248.24 160.16L248.3 159.8L248.36 159.94L248.42 160.52L248.48 160.16L248.54 160L248.6 160.21L248.66 159.84L248.72 160.54L248.78 160.81L248.84 160.56L248.9 160.68L248.96 160.08L249.02 159.96L249.08 161.14L249.14 160.47L249.2 160.78L249.26 159.56L249.32 161.11L249.38 159.77L249.44 160.84L249.5 159.91L249.56 160.56L249.62 159.96L249.68 160.08L249.74 159.57L249.8 160.61L249.86 159.65L249.92 160.42L249.98 160.63L250.04 160.99L250.1 160.32L250.16 160.2L250.22 160.79L250.28 160L250.34 160.51L250.4 160.1L250.46 159.94L250.52 160.19L250.58 160.06L250.64 160.37L250.7 160.94L250.76 160.65L250.82 161.07L250.88 159.96L250.94 160.25L251 160.49L251.06 159.99L251.12 160.33L251.18 160.54L251.24 160.69L251.3 159.96L251.36 160.43L251.42 160.61L251.48 161.18L251.54 160.83L251.6 159.88L251.66 161.13L251.72 159.94L251.78 160.1L251.84 160.68L251.9 160.85L251.96 159.93L252.02 160.44L252.08 160.22L252.14 159.92L252.2 161.08L252.26 160.26L252.32 160.6L252.38 160.2L252.44 161L252.5 160.04L252.56 160.68L252.62 160.97L252.68 161.09L252.74 160.35L252.8 160.9L252.86 160.19L252.92 161.08L252.98 160.64L253.04 159.6L253.1 160.63L253.16 161.02L253.22 160.96L253.28 159.83L253.34 161.08L253.4 160.68L253.46 160.12L253.52 160.55L253.58 161.05L253.64 160.7L253.7 160.64L253.76 160.86L253.82 160.52L253.88 160.19L253.94 161.12L254 160.38L254.06 161.19L254.12 159.89L254.18 160.32L254.24 161.14L254.3 160.03L254.36 160.88L254.42 161.34L254.48 159.84L254.54 160.37L254.6 160.61L254.66 160.04L254.72 159.51L254.78 160.74L254.84 160.23L254.9 159.69L254.96 160.01L255.02 160.87L255.08 160.94L255.14 160.62L255.2 160.3L255.26 160.64L255.32 160.23L255.38 161.38L255.44 159.93L255.5 160.68L255.56 161.23L255.62 160.45L255.68 159.84L255.74 160.86L255.8 160.61L255.86 160.62L255.92 160.71L255.98 160.86L256.04 160.73L256.1 159.94L256.16 160.08L256.22 160.67L256.28 159.6L256.34 160.63L256.4 160.3L256.46 159.86L256.52 159.91L256.58 159.9L256.64 159.76L256.7 160.6L256.76 160.63L256.82 159.87L256.88 160.39L256.94 160.39L257 160.82L257.06 160.54L257.12 160.92L257.18 159.77L257.24 160.68L257.3 160.4L257.36 160.59L257.42 161.3L257.48 159.47L257.54 160.77L257.6 159.96L257.66 159.7L257.72 160.44L257.78 160.27L257.84 160.79L257.9 160.34L257.96 160.53L258.02 160.33L258.08 160.59L258.14 160.28L258.2 160L258.26 160.55L258.32 160.5L258.38 160.53L258.44 160.82L258.5 159.48L258.56 159.84L258.62 160.87L258.68 160.83L258.74 159.93L258.8 160.14L258.86 160.53L258.92 160L258.98 160.44L259.04 160.14L259.1 160.08L259.16 159.78L259.22 160.18L259.28 161.16L259.34 160.26L259.4 159.97L259.46 160.47L259.52 160.71L259.58 160.06L259.64 160.16L259.7 160.34L259.76 160.28L259.82 160.1L259.88 160.36L259.94 160.71L260 160.36L260.06 160.41L260.12 160.19L260.18 159.85L260.24 160.24L260.3 159.6L260.36 159.82L260.42 159.61L260.48 159.83L260.54 159.38L260.6 160.42L260.66 160.2L260.72 160.5L260.78 160.3L260.84 159.42L260.9 160.33L260.96 160.13L261.02 160.77L261.08 159.85L261.14 160.42L261.2 160.49L261.26 160.53L261.32 160.13L261.38 160.57L261.44 160.27L261.5 160.38L261.56 159.96L261.62 159.81L261.68 160.23L261.74 159.96L261.8 160.09L261.86 160.69L261.92 159.7L261.98 160.3L262.04 159.57L262.1 160.73L262.16 159.9L262.22 160.41L262.28 160.62L262.34 159.58L262.4 159.84L262.46 159.74L262.52 159.98L262.58 160.44L262.64 160.03L262.7 161.04L262.76 160L262.82 159.94L262.88 159.97L262.94 159.88L263 160.49L263.06 159.36L263.12 159.98L263.18 160.58L263.24 159.7L263.3 160.17L263.36 159.47L263.42 160.1L263.48 160.48L263.54 160.93L263.6 160.59L263.66 160.36L263.72 159.9L263.78 160.67L263.84 160.76L263.9 159.55L263.96 160.57L264.02 160.73L264.08 160.83L264.14 159.99L264.2 159.92L264.26 159.35L264.32 160.74L264.38 159.68L264.44 160.79L264.5 159.42L264.56 160.29L264.62 160.83L264.68 160.75L264.74 159.47L264.8 160.24L264.86 159.4L264.92 160.51L264.98 160.21L265.04 159.71L265.1 160.82L265.16 160.14L265.22 159.23L265.28 160.55L265.34 160.53L265.4 160.34L265.46 160.21L265.52 160.48L265.58 159.99L265.64 159.38L265.7 160.54L265.76 159.46L265.82 159.76L265.88 160.07L265.94 160.31L266 159.74L266.06 160.41L266.12 161L266.18 160.21L266.24 160.75L266.3 160.41L266.36 160.25L266.42 160.02L266.48 160.17L266.54 159.45L266.6 159.51L266.66 159.73L266.72 160.46L266.78 159.98L266.84 159.31L266.9 160.37L266.96 159.48L267.02 159.96L267.08 159.42L267.14 159.57L267.2 160.21L267.26 159.5L267.32 159.68L267.38 159.36L267.44 159.14L267.5 160.4L267.56 159.87L267.62 159.39L267.68 160.35L267.74 160.25L267.8 159.09L267.86 159.57L267.92 159.42L267.98 159.67L268.04 159.24L268.1 160.37L268.16 159.86L268.22 160.06L268.28 159.96L268.34 159.29L268.4 159.34L268.46 159.79L268.52 160.48L268.58 159.87L268.64 159.42L268.7 159.73L268.76 160.49L268.82 160.44L268.88 160.12L268.94 160.72L269 159.4L269.06 159.65L269.12 159.85L269.18 159.35L269.24 160.07L269.3 159.56L269.36 159.6L269.42 159.54L269.48 160.25L269.54 158.99L269.6 159.92L269.66 159.68L269.72 159.99L269.78 160.55L269.84 160.44L269.9 160.29L269.96 159.08L270.02 160.79L270.08 160.59L270.14 159.44L270.2 160.5L270.26 159.56L270.32 159.4L270.38 159.29L270.44 159.7L270.5 160.3L270.56 159.34L270.62 159.33L270.68 160.28L270.74 160.06L270.8 159.72L270.86 160.16L270.92 159.19L270.98 160.37L271.04 160.42L271.1 159.7L271.16 160.67L271.22 160.35L271.28 160.31L271.34 160.12L271.4 159.97L271.46 159.58L271.52 159.3L271.58 160.53L271.64 160.37L271.7 159.91L271.76 160.13L271.82 159.47L271.88 160.53L271.94 160.57L272 160.36L272.06 159.41L272.12 160.22L272.18 160.59L272.24 159.42L272.3 159.53L272.36 159.67L272.42 160.33L272.48 160.83L272.54 160.07L272.6 160.15L272.66 159.61L272.7 155.58L272.72 160.8L272.78 160.55L272.84 159.38L272.9 159.54L272.96 160.4L273.02 159.81L273.05 156.56L273.08 160.05L273.14 160.71L273.2 159.92L273.26 160.28L273.32 160.6L273.38 160.18L273.4 157.8L273.44 160.5L273.5 159.75L273.56 160.7L273.62 160.69L273.68 160.81L273.74 159.77L273.75 156.51L273.8 160.39L273.86 160.96L273.92 159.7L273.98 160.96L274.04 161.06L274.1 159.96L274.16 159.45L274.22 159.79L274.28 159.75L274.34 160.69L274.4 160.49L274.45 155.95L274.46 160.96L274.52 159.97L274.58 159.81L274.64 161.3L274.7 160.61L274.76 159.8L274.82 160.4L274.88 160.03L274.94 160.55L275 159.64L275.06 160.54L275.12 160.11L275.15 157.51L275.18 159.39L275.24 160.07L275.3 159.84L275.36 160.77L275.42 160.08L275.48 160.34L275.5 156.63L275.54 161.02L275.6 159.78L275.66 160.8L275.72 160.87L275.78 160.64L275.84 159.81L275.9 159.59L275.96 160.93L276.02 160.22L276.08 160.88L276.14 161.02L276.2 156.56L276.2 160.94L276.26 159.9L276.32 160.6L276.38 160.79L276.44 160.81L276.5 161.18L276.55 156.87L276.56 161L276.62 160.34L276.68 160.11L276.74 159.65L276.8 160.63L276.86 161.04L276.92 160.86L276.98 161.06L277.04 160L277.1 160.42L277.16 160.71L277.22 159.72L277.25 157.26L277.28 159.69L277.34 159.76L277.4 160.57L277.46 160.74L277.52 160.99L277.58 159.74L277.64 161.09L277.7 159.8L277.75 157.02L277.76 159.87L277.82 159.83L277.88 159.87L277.94 160.45L278 154L278 159.95L278.06 160.84L278.12 159.62L278.18 160.93L278.24 159.77L278.3 160.72L278.36 160.13L278.42 161.08L278.48 161.1L278.54 161.11L278.6 160.9L278.66 160.81L278.7 151L278.72 160.16L278.78 160.65L278.8 156.84L278.84 160.26L278.9 160.85L278.96 161.22L279.02 160.05L279.08 160.29L279.14 159.89L279.15 157.17L279.2 160.29L279.26 160.34L279.3 148.3L279.32 160.9L279.38 161.08L279.44 160.23L279.5 160.76L279.56 160.04L279.62 160.49L279.68 160.71L279.74 160.51L279.8 160.24L279.86 160.28L279.92 159.98L279.98 160.65L280 145L280.04 160.35L280.1 160.09L280.16 160.96L280.2 156.23L280.22 160.78L280.28 159.94L280.34 160.51L280.4 160.38L280.46 159.96L280.52 160.13L280.58 161L280.6 141.9L280.64 160.72L280.7 160.39L280.76 160.09L280.82 159.97L280.88 160.85L280.94 161.18L281 160.66L281.06 160.51L281.12 160.21L281.18 160.64L281.24 161.08L281.25 155.43L281.3 121L281.3 160.74L281.36 160.82L281.42 160.02L281.48 160.68L281.54 159.91L281.6 160.86L281.66 159.79L281.72 160.72L281.78 160.29L281.84 160.14L281.9 160.1L281.96 159.84L282.02 160.79L282.08 160.35L282.14 159.89L282.2 160L282.26 160.08L282.32 161.07L282.38 161L282.44 159.44L282.5 160.72L282.56 160.13L282.62 160.44L282.65 157.2L282.68 159.79L282.74 160.68L282.8 160.54L282.86 160.21L282.92 159.64L282.98 160.54L283 155.39L283.04 160.77L283.1 121L283.1 160.86L283.16 160.18L283.22 160.77L283.28 160.36L283.34 159.61L283.35 155.18L283.4 159.89L283.46 160.88L283.52 161.07L283.58 161.18L283.64 159.97L283.7 157.55L283.7 159.76L283.76 160.92L283.82 159.97L283.88 160.83L283.94 160.53L284 160.4L284.06 159.43L284.12 161.26L284.18 159.94L284.24 159.64L284.3 148L284.3 160.74L284.36 159.93L284.42 160.68L284.48 160.96L284.54 160.42L284.6 160.32L284.66 160L284.72 160.55L284.75 155.5L284.78 161.06L284.84 160.72L284.9 160.74L284.96 160.48L285.02 160.35L285.08 160.67L285.1 155.07L285.14 159.83L285.2 159.82L285.26 159.58L285.32 159.75L285.38 159.77L285.44 160.22L285.5 160.58L285.56 160.39L285.62 160.78L285.68 160.79L285.74 159.3L285.8 155.78L285.8 159.51L285.86 159.53L285.9 121L285.92 159.83L285.98 159.45L286.04 160.03L286.1 160.85L286.16 160.19L286.22 159.28L286.28 160.68L286.34 159.91L286.4 160.56L286.46 159.79L286.5 157.04L286.52 159.72L286.58 160.76L286.64 160.07L286.7 159.23L286.76 160.38L286.82 160.19L286.85 158.07L286.88 160.13L286.94 160.33L287 160.01L287.06 160.36L287.12 160.14L287.18 160.35L287.24 159.71L287.3 160.08L287.36 159.53L287.42 159.98L287.48 159.6L287.54 159.72L287.6 159.46L287.66 160.2L287.72 160.01L287.78 160.93L287.84 159.24L287.9 156.53L287.9 159.7L287.96 160.61L288.02 159.88L288.08 160.06L288.1 121L288.14 160.88L288.2 160.71L288.26 160.74L288.32 159.98L288.38 159.76L288.44 160.9L288.5 161.13L288.56 161.01L288.6 158L288.62 160.32L288.68 159.8L288.74 159.62L288.8 159.97L288.86 160.65L288.92 159.85L288.98 161.05L289.04 160.11L289.1 160.02L289.16 159.9L289.22 160.68L289.28 159.28L289.3 156.9L289.34 160.6L289.4 159.46L289.46 160.19L289.5 153L289.52 160.47L289.58 160.4L289.64 160.23L289.7 160.49L289.76 160.96L289.82 161.14L289.88 160.18L289.94 159.81L290 157.32L290 160.81L290.06 160.88L290.12 160.43L290.18 160.8L290.24 160.47L290.3 159.79L290.36 160.57L290.42 160.02L290.48 159.93L290.5 151L290.54 160.15L290.6 160.74L290.66 160.02L290.72 160.71L290.78 160.08L290.84 160.11L290.9 160.4L290.96 160.82L291.02 160.88L291.08 159.75L291.14 160.32L291.2 160.83L291.26 160.31L291.32 161.2L291.38 160.92L291.44 160.38L291.5 160.49L291.56 160.3L291.62 161.39L291.68 160.85L291.74 161.09L291.75 157.99L291.8 154L291.8 160.04L291.86 161.13L291.92 160.9L291.98 160.97L292.04 161.11L292.1 161.01L292.16 161.18L292.22 160.49L292.28 160.42L292.34 160.29L292.4 159.93L292.45 157.53L292.46 160.45L292.52 159.95L292.58 160.13L292.64 159.86L292.7 160.37L292.76 161L292.8 155L292.8 157.16L292.82 159.81L292.88 160.27L292.94 160.01L293 159.95L293.06 161.12L293.12 160.8L293.15 156.39L293.18 160.25L293.24 159.98L293.3 160.9L293.36 160.32L293.42 161.02L293.48 160.61L293.54 160.67L293.6 160.68L293.66 159.63L293.72 160.21L293.78 159.89L293.84 160.84L293.9 160.23L293.96 159.89L294.02 159.65L294.08 160.8L294.14 160.81L294.2 156.94L294.2 160.63L294.26 159.62L294.32 161.14L294.38 160.37L294.44 160.71L294.5 160.75L294.56 160.08L294.62 160.26L294.68 160.55L294.74 159.62L294.8 160.2L294.86 159.58L294.9 156.66L294.92 160.67L294.98 159.52L295.04 160.96L295.1 159.94L295.16 160.4L295.2 121L295.22 159.82L295.28 160.53L295.34 159.86L295.4 160.6L295.46 161.2L295.52 160.12L295.58 160.95L295.6 155.16L295.64 159.96L295.7 159.78L295.76 160.72L295.82 160.85L295.88 159.87L295.94 159.75L296 159.8L296.06 159.97L296.12 160.71L296.18 160L296.24 160.57L296.3 160.29L296.36 160.85L296.42 160.21L296.48 159.61L296.54 160.51L296.6 160.73L296.66 160.47L296.72 160.99L296.78 160.73L296.84 160.3L296.9 160.4L296.96 161.24L297 156.23L297.02 159.77L297.08 159.87L297.1 139L297.14 160.15L297.2 160.74L297.26 160.22L297.32 159.76L297.35 156.7L297.38 160.02L297.44 159.47L297.5 160.27L297.56 160.54L297.62 160.86L297.68 160.72L297.74 159.92L297.8 160.3L297.86 160.12L297.92 160.34L297.98 160.95L298.04 160.78L298.05 156.21L298.1 159.76L298.16 160.56L298.22 160.8L298.28 160.47L298.34 160.96L298.4 160.1L298.46 160.49L298.52 160.05L298.58 160.91L298.64 160.92L298.7 146.9L298.7 160.25L298.76 160.17L298.82 159.93L298.88 159.73L298.94 159.65L299 161.26L299.06 159.94L299.1 158.32L299.12 160.04L299.18 160.34L299.24 160.59L299.3 160.34L299.36 160.56L299.42 160.83L299.48 160.12L299.54 160.88L299.6 160.52L299.66 160.25L299.72 160.76L299.78 159.97L299.84 161.19L299.9 159.86L299.96 160.21L300.02 160.93L300.08 160.5L300.1 148.3L300.14 160.11L300.15 157.31L300.2 159.64L300.26 160.66L300.32 160.28L300.38 160.56L300.44 160.24L300.5 160.08L300.56 160.3L300.62 160.93L300.68 161.07L300.74 159.71L300.8 160.59L300.85 155.51L300.86 160.03L300.92 159.64L300.98 160.02L301.04 160.75L301.1 159.64L301.16 160.49L301.2 157.09L301.22 159.66L301.28 161.05L301.34 159.73L301.4 160.06L301.46 160.31L301.52 160.26L301.58 159.93L301.6 147.6L301.64 160.79L301.7 160.69L301.76 160.81L301.82 159.81L301.88 160.41L301.9 155.69L301.94 160.11L302 160.91L302.06 161.18L302.12 161.02L302.18 159.89L302.24 160.53L302.25 155.77L302.3 160.88L302.36 161.19L302.42 159.89L302.48 160.78L302.54 160.27L302.6 160.85L302.66 159.63L302.72 160.62L302.78 159.61L302.84 160.76L302.9 160.86L302.95 155.12L302.96 161.06L303.02 159.91L303.08 160.38L303.14 160.29L303.2 121L303.2 160.71L303.26 160.54L303.3 156.99L303.32 160.41L303.38 160.01L303.44 159.72L303.5 160.54L303.56 160.66L303.62 160.81L303.68 160.37L303.74 159.8L303.8 160.26L303.86 160.62L303.92 160.88L303.98 160.95L304.04 159.81L304.1 159.76L304.16 160.42L304.22 159.87L304.28 160.08L304.34 160.05L304.35 158.05L304.4 159.7L304.46 160.28L304.52 160.31L304.58 159.53L304.64 159.52L304.7 160.2L304.76 160.27L304.82 160.83L304.88 160.16L304.94 160.91L305 160.56L305.05 155.91L305.06 160.51L305.1 141.9L305.12 159.5L305.18 160.6L305.24 160.26L305.3 160.97L305.36 160.34L305.4 155.3L305.42 159.51L305.48 160.58L305.54 160.99L305.6 160L305.66 159.77L305.72 160.79L305.78 160.5L305.84 161.03L305.9 159.72L305.96 160.36L306.02 159.86L306.08 159.48L306.1 157.4L306.14 160.15L306.2 159.87L306.26 160.17L306.32 160.84L306.38 160.04L306.44 160.49L306.45 158.13L306.5 159.9L306.56 160.45L306.6 145.4L306.62 161.08L306.68 160.06L306.74 160.07L306.8 156.55L306.8 160.94L306.86 159.57L306.92 160.64L306.98 160.31L307.04 160.01L307.1 160.31L307.16 159.99L307.22 160.04L307.28 161.13L307.34 160.26L307.4 161.2L307.46 160L307.5 155.79L307.52 160.14L307.58 160.21L307.64 160.63L307.7 160.49L307.76 159.83L307.82 160.99L307.88 160.66L307.94 160.34L308 160.59L308.06 160.63L308.12 160.6L308.18 160.57L308.2 156.41L308.24 160.28L308.3 160.61L308.36 160.17L308.42 159.93L308.48 160.52L308.54 159.75L308.55 155.93L308.6 160.32L308.66 160.54L308.72 159.86L308.78 159.69L308.84 160.64L308.9 159.86L308.96 160.57L309.02 160.11L309.08 160.36L309.14 160.01L309.2 160.89L309.26 161.12L309.32 160.98L309.38 160.94L309.4 139.7L309.44 160.85L309.5 160.53L309.56 160.61L309.6 156.62L309.62 160.04L309.68 159.65L309.74 160.73L309.8 160.45L309.86 160.33L309.92 160.15L309.98 160.95L310.04 159.8L310.1 160.37L310.16 160.4L310.22 159.98L310.28 159.68L310.3 158.05L310.34 160.6L310.4 160.34L310.46 159.82L310.52 159.62L310.58 159.91L310.64 159.9L310.65 158.31L310.7 160.79L310.76 160.14L310.82 160.73L310.88 160.05L310.9 147.5L310.94 159.99L311 158.25L311 160.62L311.06 159.68L311.12 159.85L311.18 160.86L311.24 159.7L311.3 159.83L311.36 159.7L311.42 160.87L311.48 160.36L311.54 159.79L311.6 159.58L311.66 160.34L311.7 155.91L311.72 159.91L311.78 160.18L311.84 160.13L311.9 160.31L311.96 160.49L312.02 159.44L312.08 159.61L312.14 161.15L312.2 161.01L312.26 160.64L312.32 160.69L312.38 160.88L312.4 156.53L312.44 160.57L312.5 160.35L312.56 160.25L312.62 159.86L312.68 160.07L312.74 160.81L312.75 158.34L312.8 160L312.86 160.02L312.92 160.51L312.98 159.23L313 154L313.04 160.62L313.1 160.4L313.16 160.15L313.22 160.86L313.28 160.72L313.34 160.9L313.4 159.55L313.45 155.45L313.46 159.68L313.52 159.59L313.58 160.77L313.64 160.27L313.7 160.28L313.76 160.94L313.8 155.8L313.82 160.79L313.88 160.28L313.94 160.81L314 154L314 160.3L314.06 160.21L314.12 160.95L314.18 159.84L314.24 160.38L314.3 159.9L314.36 159.79L314.42 159.71L314.48 160.88L314.5 156.32L314.54 160.46L314.6 159.98L314.66 159.55L314.72 160.41L314.78 160.52L314.84 160.95L314.85 157.02L314.9 160.88L314.96 159.35L315.02 159.82L315.08 159.9L315.14 160.86L315.2 159.92L315.26 159.86L315.32 160.54L315.38 159.87L315.44 159.55L315.5 160.49L315.56 160.72L315.62 160.52L315.68 160.02L315.74 159.46L315.8 159.51L315.86 159.68L315.92 160.11L315.98 160.74L316.04 160.45L316.05 158.2L316.1 160.71L316.16 159.97L316.22 161L316.28 159.79L316.34 160.06L316.4 160L316.46 160.03L316.52 160.21L316.58 160.61L316.64 159.74L316.7 159.49L316.76 161.01L316.82 160.59L316.88 160.96L316.94 159.98L317 160.42L317.06 160.81L317.12 159.78L317.18 160.7L317.24 159.86L317.3 159.66L317.36 160.95L317.42 160.29L317.48 160.12L317.54 160.52L317.6 160.54L317.66 159.56L317.72 160.64L317.78 159.79L317.8 158.19L317.84 160.12L317.9 159.89L317.96 160.74L318.02 159.92L318.08 160.54L318.14 160.64L318.2 160.96L318.26 160.15L318.32 160.83L318.38 159.86L318.44 160.26L318.5 160.54L318.56 159.63L318.62 159.95L318.68 160.62L318.74 160.89L318.8 160.12L318.85 158.18L318.86 160.55L318.92 159.59L318.98 160.23L319.04 160.81L319.1 160.27L319.16 161.01L319.22 160.85L319.28 160.77L319.34 159.75L319.4 160.5L319.46 159.98L319.52 159.63L319.55 156.3L319.58 160.23L319.64 160.58L319.7 161.02L319.76 159.6L319.82 160.81L319.88 159.83L319.94 161.29L320 159.47L320.06 160.16L320.12 160.06L320.18 160.29L320.24 160.64L320.3 160.55L320.36 159.9L320.42 160.47L320.48 160.12L320.54 160.86L320.6 156.33L320.6 159.64L320.66 160.24L320.72 160.33L320.78 160.85L320.84 161L320.9 159.56L320.95 158.36L320.96 159.78L321.02 161.12L321.08 160.24L321.14 159.71L321.2 160.29L321.26 159.71L321.3 157.3L321.32 159.22L321.38 160.32L321.44 160.87L321.5 160.56L321.56 159.43L321.62 160.49L321.68 160.62L321.74 160.37L321.8 159.69L321.86 160.05L321.92 161L321.98 160.65L322.04 160.24L322.1 159.79L322.16 160.17L322.22 160.86L322.28 160.84L322.34 160.48L322.4 159.89L322.46 159.91L322.52 160.32L322.58 160.13L322.64 160.45L322.7 160.7L322.76 160.23L322.82 159.91L322.88 160.55L322.94 159.27L323 160.05L323.06 160.53L323.12 159.92L323.18 160.77L323.24 160.68L323.3 160.51L323.36 160.62L323.42 160.61L323.48 159.42L323.54 160.79L323.6 160.2L323.66 159.79L323.72 160.69L323.78 160.06L323.84 160.16L323.9 159.85L323.96 159.78L324.02 159.78L324.08 160.05L324.14 160.2L324.2 160.69L324.26 159.58L324.32 160.15L324.38 160.12L324.44 159.89L324.5 159.58L324.56 159.46L324.62 160.11L324.68 160.42L324.74 160.4L324.8 159.86L324.86 159.77L324.92 160.02L324.98 159.95L325.04 160.83L325.1 160.8L325.16 160.11L325.22 159.61L325.28 160.73L325.34 159.62L325.4 160.1L325.46 160.45L325.52 160.08L325.58 159.37L325.64 159.38L325.7 159.22L325.76 160.04L325.82 159.6L325.88 160.19L325.94 159.54L326 159.94L326.06 159.99L326.12 161.11L326.18 160.48L326.24 160.06L326.3 160.75L326.36 160.16L326.42 160.45L326.48 160.32L326.54 160.12L326.6 160.55L326.66 159.99L326.72 159.77L326.78 160.29L326.84 160.79L326.9 160.29L326.96 160.74L327.02 159.94L327.08 159.6L327.14 160.87L327.2 160.31L327.26 160.14L327.32 160.83L327.38 159.61L327.44 160.44L327.5 160.44L327.56 160.53L327.62 160.15L327.68 159.93L327.74 160.27L327.8 160.43L327.86 160.81L327.92 159.73L327.98 160.81L328.04 160.24L328.1 159.89L328.16 160.97L328.22 160.79L328.28 160.27L328.34 160.46L328.4 160.72L328.46 159.27L328.52 161.07L328.58 160.61L328.64 160.79L328.7 160.69L328.76 159.57L328.82 160.37L328.88 160.18L328.94 159.84L329 159.95L329.06 159.61L329.12 160.5L329.18 160.26L329.24 161.09L329.3 160.04L329.36 160.5L329.42 160.96L329.48 159.92L329.54 159.63L329.6 160.1L329.66 159.96L329.72 159.59L329.78 160.38L329.84 159.69L329.9 160.45L329.96 160.22L330.02 160.8L330.08 160.94L330.14 160.44L330.2 160.35L330.26 160.73L330.32 159.84L330.38 159.97L330.44 160.89L330.5 161.01L330.56 161.08L330.62 160.93L330.68 159.88L330.74 160.58L330.8 160.36L330.86 160.22L330.92 159.74L330.98 160.41L331.04 160.61L331.1 160.29L331.16 160.55L331.22 161.07L331.28 159.62L331.34 160.32L331.4 161.36L331.46 159.75L331.52 159.87L331.58 160.7L331.64 159.65L331.7 160.27L331.76 159.87L331.82 160.51L331.88 160.96L331.94 159.91L332 161.04L332.06 161.29L332.12 160.46L332.18 160.61L332.24 159.77L332.3 159.65L332.36 160.61L332.42 160.83L332.48 160.29L332.54 160.71L332.6 159.55L332.66 160.53L332.72 160.29L332.78 159.84L332.84 159.57L332.9 161.13L332.96 160.57L333.02 160.25L333.08 159.88L333.14 159.79L333.2 160L333.26 160.05L333.32 159.91L333.38 160.03L333.44 160.76L333.5 159.66L333.56 160.88L333.62 161.47L333.68 160.71L333.74 160.23L333.8 160.49L333.86 160.2L333.92 160.05L333.98 160.56L334.04 160.75L334.1 160.16L334.16 160.85L334.22 159.7L334.28 159.9L334.34 160.54L334.4 160.48L334.46 160.13L334.52 159.79L334.58 159.8L334.64 160.12L334.7 160.44L334.76 160.89L334.82 159.36L334.88 160.48L334.94 160.45L335 159.92L335.06 159.74L335.12 160.44L335.18 160.19L335.24 159.69L335.3 160.39L335.36 161.01L335.42 159.58L335.48 159.43L335.54 160.1L335.6 161.02L335.66 160.85L335.72 160.97L335.78 160.24L335.84 159.67L335.9 160.01L335.96 160.93L336.02 161.12L336.08 159.91L336.14 160.48L336.2 159.67L336.26 160.24L336.32 160.51L336.38 160.4L336.44 159.8L336.5 159.71L336.56 160.95L336.62 159.73L336.68 159.97L336.74 160.76L336.8 160.91L336.86 160.89L336.92 159.89L336.98 160.24L337.04 161.16L337.1 160.61L337.16 159.99L337.22 160.9L337.28 160.62L337.34 160.72L337.4 160.77L337.46 160.93L337.52 160.2L337.58 160.77L337.64 160.46L337.7 160.92L337.76 160.4L337.82 160.72L337.88 160.74L337.94 159.83L338 161.05L338.06 160.76L338.12 160.4L338.18 160.39L338.24 161.11L338.3 160.51L338.36 159.7L338.42 160.88L338.48 160.45L338.54 161.27L338.6 160.31L338.66 161.07L338.72 160.53L338.78 161.12L338.84 160.13L338.9 160.78L338.96 160.78L339.02 160.25L339.08 161.28L339.14 160.48L339.2 160.9L339.26 160.83L339.32 160.05L339.38 161.08L339.44 160.95L339.5 160.91L339.56 159.95L339.62 160.89L339.68 161.26L339.74 161.05L339.8 160.38L339.86 160.1L339.92 160.48L339.98 161.21L340.04 160.96L340.1 160.49L340.16 160.08L340.22 159.98L340.28 161.07L340.34 160.03L340.4 160.23L340.46 160.49L340.52 160.4L340.58 160.44L340.64 160.83L340.7 161.23L340.76 160.96L340.82 161.61L340.88 160.04L340.94 160.88L341 159.98L341.06 160.41L341.12 160.39L341.18 160.61L341.24 159.99L341.3 160.54L341.36 161.26L341.42 160.42L341.48 160.16L341.54 160.38L341.6 160.22L341.66 160.28L341.72 160.53L341.78 161.14L341.84 160.81L341.9 160.18L341.96 160.65L342.02 159.94L342.08 160.17L342.14 159.96L342.2 160.06L342.26 159.9L342.32 160.81L342.38 161.06L342.44 160.01L342.5 160.89L342.56 160.03L342.62 160.24L342.68 159.78L342.74 161.41L342.8 160.8L342.86 160.17L342.92 161.34L342.98 160.02L343.04 160.31L343.1 160.41L343.16 161.37L343.22 160.01L343.28 161.12L343.34 160.17L343.4 160.39L343.46 161.08L343.52 159.99L343.58 161.07L343.64 160.46L343.7 160.2L343.76 159.79L343.82 159.79L343.88 159.64L343.94 161.16L344 159.73L344.06 159.99L344.12 160.03L344.18 160.64L344.24 160.79L344.3 160.08L344.36 160.62L344.42 160.49L344.48 159.86L344.54 160.88L344.6 160.75L344.66 160.78L344.72 159.96L344.78 159.71L344.84 161.03L344.9 161.15L344.96 159.94" fill="none" stroke="#f00" stroke-width="2.0000" stroke-linejoin="round" stroke-linecap="square"/></g>
<rect x="35.00" y="134.00" width="310.00" height="78.50" fill="none" stroke="#000" stroke-width="0.833"/>
<line x1="31.35" y1="212.50" x2="35.00" y2="212.50" stroke="#000" stroke-width="0.833"/>
<text x="29.75" y="216.35" text-anchor="end" textLength="16.54" lengthAdjust="spacingAndGlyphs">0.0</text>
<line x1="31.35" y1="186.33" x2="35.00" y2="186.33" stroke="#000" stroke-width="0.833"/>
<text x="29.75" y="190.18" text-anchor="end" textLength="16.54" lengthAdjust="spacingAndGlyphs">0.5</text>
<line x1="31.35" y1="160.17" x2="35.00" y2="160.17" stroke="#000" stroke-width="0.833"/>
<text x="29.75" y="164.02" text-anchor="end" textLength="16.54" lengthAdjust="spacingAndGlyphs">1.0</text>
<line x1="31.35" y1="134.00" x2="35.00" y2="134.00" stroke="#000" stroke-width="0.833"/>
<text x="29.75" y="137.85" text-anchor="end" textLength="16.54" lengthAdjust="spacingAndGlyphs">1.5</text>
<line x1="78.30" y1="212.50" x2="78.30" y2="216.15" stroke="#000" stroke-width="0.833"/>
<text x="78.30" y="225.80" text-anchor="middle" textLength="26.47" lengthAdjust="spacingAndGlyphs">6400</text>
<line x1="130.12" y1="212.50" x2="130.12" y2="216.15" stroke="#000" stroke-width="0.833"/>
<text x="130.12" y="225.80" text-anchor="middle" textLength="26.47" lengthAdjust="spacingAndGlyphs">6600</text>
<line x1="181.94" y1="212.50" x2="181.94" y2="216.15" stroke="#000" stroke-width="0.833"/>
<text x="181.94" y="225.80" text-anchor="middle" textLength="26.47" lengthAdjust="spacingAndGlyphs">6800</text>
<line x1="233.76" y1="212.50" x2="233.76" y2="216.15" stroke="#000" stroke-width="0.833"/>
<text x="233.76" y="225.80" text-anchor="middle" textLength="26.47" lengthAdjust="spacingAndGlyphs">7000</text>
<line x1="285.58" y1="212.50" x2="285.58" y2="216.15" stroke="#000" stroke-width="0.833"/>
<text x="285.58" y="225.80" text-anchor="middle" textLength="26.47" lengthAdjust="spacingAndGlyphs">7200</text>
<line x1="337.40" y1="212.50" x2="337.40" y2="216.15" stroke="#000" stroke-width="0.833"/>
<text x="337.40" y="225.80" text-anchor="middle" textLength="26.47" lengthAdjust="spacingAndGlyphs">7400</text>
<text x="190.00" y="238.50" text-anchor="middle" textLength="127.99" lengthAdjust="spacingAndGlyphs">wavelength (Angstroms)</text>
<text x="0" y="0" text-anchor="middle" textLength="80.57" lengthAdjust="spacingAndGlyphs" transform="translate(8.35 173.25) rotate(-90)">normalized flux</text>
</g></svg>
</body></html>
